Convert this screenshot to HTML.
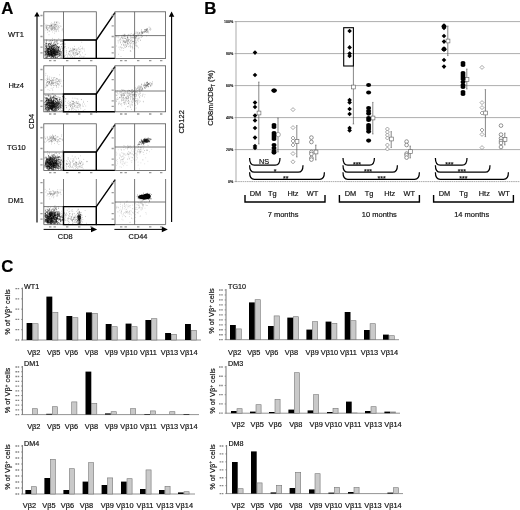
<!DOCTYPE html>
<html><head><meta charset="utf-8"><title>Figure</title>
<style>
html,body{margin:0;padding:0;background:#fff;}
body{width:520px;height:510px;overflow:hidden;font-family:"Liberation Sans",sans-serif;}
svg{display:block;will-change:transform;}
svg text{font-family:"Liberation Sans",sans-serif;stroke:#111;stroke-width:0.18px;}
</style></head><body>
<svg width="520" height="510" viewBox="0 0 520 510">
<rect width="520" height="510" fill="#fff"/>
<text x="1.2" y="13.8" font-size="16.8" text-anchor="start" font-weight="bold" fill="#000" >A</text>
<line x1="37" y1="14" x2="37" y2="222.4" stroke="#000" stroke-width="1.15" />
<path d="M37 11.8 L34.3 16.6 L39.7 16.6 Z" fill="#000"/>
<line x1="171.6" y1="14" x2="171.6" y2="222" stroke="#000" stroke-width="1.15" />
<path d="M171.6 11.6 L168.9 16.8 L174.3 16.8 Z" fill="#000"/>
<line x1="43.6" y1="229.4" x2="92" y2="229.4" stroke="#000" stroke-width="1.0" />
<path d="M97.2 229.4 L91 226.6 L91 232.2 Z" fill="#000"/>
<line x1="114.4" y1="229.4" x2="163" y2="229.4" stroke="#000" stroke-width="1.0" />
<path d="M167.8 229.4 L161.8 226.6 L161.8 232.2 Z" fill="#000"/>
<text x="65.2" y="239.2" font-size="7.4" text-anchor="middle" font-weight="normal" fill="#111" >CD8</text>
<text x="138" y="238.8" font-size="7.4" text-anchor="middle" font-weight="normal" fill="#111" >CD44</text>
<text transform="translate(33.8,121.3) rotate(-90)" font-size="7.6" text-anchor="middle" fill="#111">CD4</text>
<text transform="translate(184.2,121.8) rotate(-90)" font-size="7.6" text-anchor="middle" fill="#111">CD122</text>
<text x="8" y="37.2" font-size="7.5" text-anchor="start" font-weight="normal" fill="#111" >WT1</text>
<rect x="43.8" y="11.8" width="52.5" height="46.599999999999994" fill="none" stroke="#555" stroke-width="0.8"/>
<line x1="63.5" y1="11.8" x2="63.5" y2="58.4" stroke="#555" stroke-width="0.8" />
<line x1="43.8" y1="40.0" x2="96.3" y2="40.0" stroke="#555" stroke-width="0.8" />
<path d="M63.5 40.0 H96.3 V58.4 H63.5 Z" fill="none" stroke="#000" stroke-width="1.4"/>
<path d="M96.3 40.0 L115 12.600000000000001 M96.3 58.4 H115" fill="none" stroke="#000" stroke-width="1.4"/>
<rect x="115" y="11.8" width="50.599999999999994" height="46.599999999999994" fill="none" stroke="#555" stroke-width="0.8"/>
<line x1="134.6" y1="11.8" x2="134.6" y2="58.4" stroke="#555" stroke-width="0.8" />
<line x1="115" y1="35.6" x2="165.6" y2="35.6" stroke="#555" stroke-width="0.8" />
<path d="M40.4 15.5h2.2M111.6 15.5h2.2M40.4 25.8h2.2M111.6 25.8h2.2M40.4 36.5h2.2M111.6 36.5h2.2M40.4 47.2h2.2M111.6 47.2h2.2M40.4 52.8h2.2M111.6 52.8h2.2M49 60.6h2.4M53.5 60.6h2.4M66 60.6h2.4M78 60.6h2.4M90 60.6h2.4M120 60.6h2.4M124.5 60.6h2.4M137 60.6h2.4M149 60.6h2.4M160 60.6h2.4" stroke="#999" stroke-width="1.3" fill="none"/>
<path d="M50.0 53.6h0.75M50.1 50.3h0.75M46.7 50.7h0.75M56.5 53.3h0.75M56.2 52.6h0.75M53.1 52.3h0.75M53.6 53.6h0.75M46.9 49.7h0.75M52.7 51.4h0.75M53.7 49.0h0.75M52.7 53.2h0.75M53.9 56.4h0.75M48.2 48.6h0.75M49.5 51.2h0.75M54.2 52.6h0.75M49.1 47.8h0.75M48.7 56.5h0.75M47.3 52.6h0.75M53.2 45.6h0.75M51.4 56.8h0.75M50.7 48.3h0.75M53.6 51.4h0.75M54.4 55.4h0.75M58.1 53.0h0.75M51.8 46.4h0.75M54.2 49.2h0.75M49.0 46.5h0.75M46.6 49.5h0.75M57.4 43.5h0.75M58.1 53.9h0.75M52.9 48.7h0.75M45.8 55.5h0.75M56.5 52.2h0.75M52.4 53.3h0.75M58.9 54.1h0.75M53.7 53.8h0.75M55.8 53.7h0.75M55.2 44.4h0.75M50.3 55.7h0.75M53.8 51.0h0.75M52.8 54.2h0.75M51.8 56.2h0.75M48.0 49.9h0.75M56.2 51.7h0.75M47.0 55.4h0.75M58.2 49.8h0.75M44.6 51.1h0.75M50.5 50.4h0.75M57.9 47.5h0.75M57.3 46.5h0.75M47.4 54.1h0.75M56.6 55.0h0.75M52.9 52.2h0.75M51.9 53.9h0.75M50.4 52.7h0.75M53.9 51.6h0.75M54.9 53.9h0.75M60.9 52.9h0.75M49.1 50.1h0.75M51.1 55.3h0.75M49.6 53.1h0.75M60.0 41.3h0.75M45.8 52.6h0.75M53.1 52.6h0.75M49.1 54.2h0.75M52.6 49.5h0.75M62.9 53.0h0.75M48.5 51.2h0.75M50.1 51.3h0.75M56.0 46.9h0.75M50.9 55.4h0.75M55.3 57.6h0.75M49.6 54.1h0.75M56.4 40.9h0.75M56.4 45.8h0.75M54.5 45.6h0.75M52.0 56.4h0.75M50.5 52.4h0.75M55.0 52.2h0.75M50.8 57.7h0.75M56.2 50.4h0.75M64.4 47.0h0.75M55.6 50.5h0.75M51.8 54.4h0.75M52.3 54.2h0.75M54.2 47.7h0.75M46.3 45.7h0.75M57.3 54.6h0.75M58.3 47.8h0.75M51.2 47.0h0.75M55.9 50.9h0.75M50.7 49.2h0.75M53.1 53.2h0.75M58.4 47.5h0.75M56.7 57.5h0.75M58.2 50.9h0.75M47.6 55.7h0.75M51.8 52.1h0.75M58.0 50.5h0.75M52.7 49.2h0.75M51.2 54.9h0.75M51.6 56.9h0.75M50.9 55.8h0.75M48.0 55.1h0.75M45.3 51.5h0.75M50.3 51.5h0.75M48.4 52.5h0.75M59.8 51.8h0.75M53.7 55.6h0.75M50.2 46.6h0.75M48.5 55.9h0.75M56.0 54.8h0.75M51.2 54.8h0.75M52.0 46.9h0.75M55.6 49.3h0.75M46.9 48.5h0.75M45.5 53.1h0.75M48.1 43.8h0.75M54.7 50.5h0.75M52.6 49.8h0.75M54.9 54.6h0.75M54.4 52.9h0.75M57.6 54.2h0.75M53.4 43.3h0.75M55.5 56.8h0.75M49.8 49.7h0.75M60.5 44.6h0.75M46.7 54.4h0.75M60.3 51.1h0.75M53.9 55.2h0.75M46.9 51.2h0.75M52.6 54.9h0.75M51.0 50.8h0.75M46.3 50.2h0.75M55.5 52.0h0.75M47.1 48.2h0.75M64.0 56.2h0.75M54.3 41.2h0.75M54.2 53.5h0.75M59.3 53.3h0.75M50.9 53.7h0.75M52.8 48.8h0.75M44.5 48.9h0.75M52.6 52.3h0.75M49.3 47.7h0.75M61.4 55.7h0.75M45.5 46.2h0.75M59.4 55.6h0.75M59.9 54.8h0.75M47.0 52.6h0.75M50.9 53.7h0.75M47.7 51.1h0.75M53.4 53.1h0.75M54.3 52.4h0.75M49.6 54.8h0.75M51.4 48.3h0.75M48.2 51.6h0.75M50.7 52.2h0.75M51.2 52.3h0.75M50.6 46.6h0.75M53.2 55.8h0.75M53.3 50.8h0.75M53.3 47.7h0.75M46.7 54.6h0.75M46.0 41.1h0.75M49.4 46.1h0.75M47.5 53.7h0.75M53.6 52.3h0.75M58.3 54.4h0.75M51.1 54.0h0.75M59.1 55.5h0.75M56.1 47.3h0.75M50.5 54.5h0.75M49.8 55.9h0.75M54.1 55.2h0.75M57.2 50.7h0.75M49.6 55.1h0.75M55.9 51.6h0.75M45.6 52.4h0.75M52.9 56.1h0.75M55.0 51.7h0.75M55.3 53.8h0.75M52.2 51.8h0.75M50.0 54.3h0.75M46.1 49.1h0.75M51.2 45.7h0.75M49.1 43.6h0.75M47.9 53.9h0.75M53.9 51.4h0.75M50.1 45.9h0.75M60.0 53.7h0.75M56.4 48.1h0.75M50.3 44.3h0.75M54.9 55.3h0.75M54.2 44.6h0.75M48.2 46.0h0.75M51.4 52.6h0.75M54.2 54.4h0.75M58.4 56.3h0.75M44.9 49.6h0.75M46.1 47.3h0.75M50.8 51.6h0.75M53.6 45.3h0.75M45.3 51.5h0.75M50.2 50.4h0.75M50.9 48.6h0.75M54.6 53.0h0.75M50.8 48.9h0.75M50.4 40.7h0.75M46.5 51.7h0.75M51.9 46.1h0.75M50.0 50.3h0.75M53.4 54.0h0.75M51.0 48.2h0.75M50.5 51.3h0.75M54.7 52.8h0.75M47.7 46.2h0.75M49.4 48.6h0.75M45.9 51.1h0.75M48.8 52.0h0.75M53.7 49.9h0.75M62.4 50.3h0.75M56.5 52.1h0.75M56.6 42.1h0.75M47.6 52.6h0.75M52.7 56.7h0.75M54.9 55.4h0.75M53.6 51.0h0.75M53.6 47.3h0.75M56.9 47.5h0.75M50.1 51.7h0.75M56.8 51.7h0.75M47.3 52.6h0.75M54.0 54.4h0.75M59.2 51.7h0.75M52.5 49.9h0.75M58.0 48.8h0.75M54.4 49.7h0.75M47.9 54.5h0.75M57.6 51.6h0.75M47.9 54.8h0.75M51.0 52.8h0.75M58.5 56.1h0.75M51.2 54.7h0.75M48.1 51.4h0.75M57.8 46.7h0.75M56.8 49.8h0.75M50.9 50.3h0.75M50.6 47.2h0.75M51.3 45.8h0.75M50.9 52.8h0.75M53.4 50.7h0.75M46.9 52.2h0.75M54.9 51.1h0.75M48.9 48.8h0.75M46.7 50.2h0.75M52.6 53.7h0.75M47.8 51.7h0.75M64.6 44.1h0.75M48.7 52.3h0.75M51.9 53.2h0.75M50.1 53.1h0.75M51.5 54.7h0.75M51.2 47.5h0.75M46.2 54.1h0.75M48.1 54.1h0.75M54.8 52.8h0.75M53.6 51.2h0.75M44.4 51.5h0.75M53.4 49.5h0.75M50.7 54.6h0.75M47.0 54.2h0.75M60.1 49.4h0.75M51.9 51.0h0.75M58.6 52.9h0.75M55.5 48.8h0.75M51.1 51.6h0.75M55.5 44.6h0.75M54.8 51.1h0.75M53.4 53.1h0.75M58.4 49.3h0.75M46.3 46.2h0.75M45.3 52.9h0.75M59.3 53.3h0.75M48.7 48.9h0.75M53.7 53.8h0.75M46.3 46.9h0.75M52.6 52.6h0.75M44.9 50.8h0.75M48.6 53.4h0.75M50.6 51.3h0.75M49.5 55.8h0.75M57.9 50.1h0.75M55.3 48.6h0.75M51.5 54.6h0.75M58.5 50.1h0.75M50.8 52.4h0.75M48.0 53.1h0.75M45.8 43.7h0.75M51.4 52.6h0.75M48.6 55.2h0.75M49.9 49.2h0.75M53.5 45.3h0.75M47.9 51.5h0.75M55.3 50.9h0.75M52.7 49.0h0.75M48.1 51.7h0.75M52.0 55.7h0.75M45.3 43.2h0.75M54.1 54.8h0.75M52.2 52.6h0.75M55.7 53.1h0.75M59.2 46.6h0.75M55.1 50.1h0.75M51.2 50.6h0.75M48.8 48.2h0.75M48.2 54.2h0.75M51.4 51.9h0.75M50.4 55.3h0.75M53.6 51.0h0.75M54.4 51.0h0.75M45.7 57.4h0.75M53.4 47.8h0.75M56.4 53.0h0.75M52.8 55.2h0.75M52.1 51.0h0.75M51.3 50.5h0.75M52.9 51.9h0.75M54.4 50.1h0.75M51.0 43.0h0.75M49.2 54.3h0.75M57.6 50.1h0.75M49.6 54.5h0.75M59.3 51.8h0.75M57.1 48.8h0.75M52.2 51.3h0.75M51.8 56.1h0.75M62.7 48.9h0.75M48.4 53.6h0.75M46.1 53.6h0.75M53.9 50.5h0.75M53.7 45.4h0.75M54.8 45.4h0.75M47.9 49.4h0.75M49.3 55.0h0.75M51.6 50.0h0.75M51.2 53.1h0.75M57.2 52.7h0.75M61.8 43.7h0.75M51.0 53.3h0.75M55.8 54.3h0.75M49.9 47.4h0.75M51.7 55.7h0.75M46.0 47.5h0.75M51.1 43.9h0.75M50.0 49.9h0.75M53.4 48.8h0.75M47.0 50.0h0.75M51.0 48.9h0.75M51.3 54.6h0.75M47.4 49.9h0.75M47.7 51.5h0.75M53.7 46.2h0.75M53.4 51.5h0.75M56.9 44.1h0.75M55.1 52.4h0.75M53.5 53.4h0.75M57.5 50.7h0.75M55.4 50.0h0.75M54.7 48.3h0.75M53.3 51.0h0.75M45.7 48.4h0.75M52.1 55.4h0.75M53.2 53.7h0.75M51.0 57.0h0.75M49.3 49.4h0.75M55.5 51.9h0.75M49.9 49.3h0.75M50.0 54.1h0.75M52.9 46.8h0.75M53.2 52.3h0.75M46.4 54.7h0.75M49.9 50.3h0.75M55.0 56.9h0.75M47.9 53.4h0.75M48.8 56.4h0.75M48.1 54.8h0.75M61.9 41.4h0.75M49.1 53.6h0.75M50.8 48.9h0.75M61.5 51.9h0.75M48.4 52.2h0.75M57.3 52.1h0.75M44.5 44.8h0.75M56.9 54.6h0.75M47.3 55.0h0.75M53.6 54.2h0.75M55.5 54.5h0.75M55.4 41.8h0.75M52.0 53.6h0.75M63.4 47.8h0.75M49.6 51.7h0.75M55.5 49.8h0.75M56.7 48.4h0.75M52.5 49.5h0.75M52.0 48.8h0.75M52.7 49.4h0.75M52.2 55.6h0.75M46.5 51.2h0.75M53.8 53.7h0.75M49.6 43.2h0.75M57.2 52.9h0.75M51.3 50.5h0.75M52.5 49.9h0.75M46.3 48.6h0.75M48.3 49.2h0.75M45.6 54.1h0.75M44.9 54.2h0.75M46.3 53.0h0.75M57.8 52.4h0.75M47.7 51.8h0.75M51.9 44.7h0.75M48.3 52.3h0.75M48.9 51.9h0.75M54.7 54.7h0.75M55.5 54.0h0.75M49.8 51.5h0.75M49.9 50.3h0.75M50.3 44.7h0.75M49.6 51.5h0.75M46.5 51.5h0.75M53.7 50.9h0.75M61.2 41.2h0.75M50.2 44.3h0.75M53.7 50.4h0.75M53.8 42.6h0.75M55.3 53.1h0.75M51.3 49.2h0.75M54.3 49.7h0.75M52.3 49.6h0.75M52.2 54.6h0.75M47.0 51.5h0.75M54.2 52.2h0.75M46.8 43.9h0.75M55.3 57.7h0.75M55.6 54.9h0.75M48.2 48.7h0.75M55.5 48.0h0.75M47.9 48.7h0.75M52.3 48.6h0.75M57.5 51.3h0.75M46.0 56.8h0.75M48.4 52.5h0.75M51.1 50.3h0.75M52.8 48.8h0.75M45.1 48.6h0.75M51.1 51.8h0.75M53.9 52.1h0.75M47.4 48.8h0.75M53.5 53.7h0.75M50.6 50.9h0.75M55.7 51.7h0.75M54.7 53.9h0.75M52.2 56.8h0.75M48.5 50.2h0.75M47.3 48.4h0.75M51.3 53.9h0.75M56.8 54.8h0.75M57.0 46.5h0.75M48.1 53.4h0.75M58.1 52.0h0.75M47.1 50.2h0.75M48.0 48.2h0.75M58.4 49.1h0.75M56.9 52.9h0.75M48.3 53.2h0.75M59.0 54.1h0.75M57.3 52.0h0.75M53.7 50.8h0.75M53.2 56.8h0.75M52.4 49.3h0.75M49.7 54.7h0.75M60.8 54.1h0.75M52.8 45.4h0.75M60.5 51.9h0.75M51.0 47.1h0.75M50.9 47.2h0.75M51.5 53.5h0.75M51.3 52.7h0.75M47.1 57.3h0.75M48.1 44.3h0.75M50.3 48.5h0.75M46.4 50.2h0.75M52.6 46.9h0.75M50.5 57.3h0.75M54.5 51.0h0.75M51.8 51.1h0.75M51.0 54.5h0.75M50.8 42.0h0.75M51.1 48.0h0.75M54.3 49.2h0.75M46.2 47.1h0.75M44.4 42.0h0.75M48.1 44.1h0.75M47.5 50.1h0.75M52.8 57.0h0.75M60.5 55.7h0.75M51.9 52.3h0.75M59.9 57.3h0.75M49.7 53.4h0.75M52.6 51.8h0.75M48.8 46.3h0.75M48.6 45.4h0.75M57.1 53.7h0.75M45.4 57.2h0.75M55.5 44.0h0.75M60.0 54.8h0.75M61.1 46.7h0.75M53.7 53.3h0.75M52.2 52.3h0.75M56.3 45.6h0.75M45.2 46.0h0.75M48.5 49.2h0.75M53.0 52.7h0.75M51.4 48.9h0.75M49.1 55.4h0.75M54.9 52.0h0.75M48.3 54.2h0.75M56.7 50.5h0.75M55.2 47.1h0.75M56.1 52.4h0.75M46.9 56.7h0.75M47.9 50.9h0.75M52.6 50.3h0.75M52.4 49.4h0.75M54.4 51.6h0.75M52.2 40.6h0.75M56.8 51.7h0.75M53.4 55.9h0.75M46.0 57.8h0.75M50.5 54.3h0.75M49.4 47.1h0.75M56.5 55.2h0.75M58.6 55.0h0.75M48.4 45.0h0.75M48.1 48.9h0.75M47.3 53.9h0.75M52.8 50.5h0.75M52.0 51.0h0.75M52.2 54.6h0.75M55.8 48.9h0.75M51.7 56.0h0.75M51.3 45.8h0.75M48.7 54.5h0.75M47.1 46.0h0.75M53.7 55.4h0.75M52.1 46.4h0.75M55.0 54.8h0.75M53.9 49.7h0.75M52.7 54.8h0.75M48.5 44.2h0.75M52.8 53.5h0.75M51.3 55.2h0.75M48.4 51.3h0.75M49.7 53.9h0.75M58.9 50.6h0.75M61.1 57.7h0.75M55.0 53.9h0.75M59.7 50.9h0.75M50.7 47.3h0.75M53.5 57.0h0.75M53.8 53.3h0.75M50.2 52.3h0.75M49.2 47.2h0.75M47.6 48.3h0.75M55.3 55.8h0.75M44.7 55.3h0.75M55.5 49.3h0.75M48.2 53.0h0.75M49.5 43.5h0.75M52.3 45.5h0.75M55.5 46.8h0.75M47.9 48.2h0.75M48.6 56.8h0.75M55.3 54.0h0.75M52.7 45.4h0.75M48.7 49.4h0.75M46.5 53.6h0.75M47.6 48.8h0.75M46.2 43.4h0.75M54.1 56.9h0.75M52.0 47.7h0.75M57.0 52.8h0.75M55.7 57.5h0.75M56.6 49.8h0.75M56.3 54.7h0.75M54.0 47.3h0.75M53.0 57.5h0.75M44.8 55.8h0.75M50.2 52.7h0.75M50.5 55.6h0.75M56.2 51.9h0.75M44.7 54.6h0.75M48.9 54.1h0.75M56.7 49.8h0.75M48.6 53.3h0.75M56.9 56.6h0.75M53.7 46.3h0.75M45.1 52.6h0.75M47.1 56.2h0.75M54.9 44.9h0.75M47.3 52.3h0.75M48.8 51.0h0.75M53.5 48.4h0.75M53.4 49.1h0.75M48.6 53.7h0.75M48.4 52.7h0.75M58.9 51.7h0.75M50.5 54.5h0.75M49.4 55.9h0.75M45.0 54.1h0.75M48.7 48.4h0.75M59.7 48.2h0.75M59.6 54.2h0.75M58.2 47.7h0.75M57.0 57.4h0.75M50.6 51.1h0.75M63.0 52.3h0.75M49.2 49.1h0.75M53.3 52.9h0.75M49.6 53.5h0.75M58.2 47.6h0.75M44.7 47.2h0.75M46.2 44.2h0.75M53.4 44.2h0.75M53.6 57.4h0.75M47.7 50.5h0.75M51.5 53.8h0.75M49.5 51.7h0.75M48.6 52.1h0.75" stroke="#000" stroke-width="0.75" fill="none" opacity="0.68"/>
<path d="M45.0 51.7h0.6M63.5 51.8h0.6M44.4 52.8h0.6M46.2 42.3h0.6M47.6 55.5h0.6M54.3 50.9h0.6M46.4 45.5h0.6M60.1 52.7h0.6M46.3 39.8h0.6M45.1 51.0h0.6M53.3 50.5h0.6M50.3 43.8h0.6M47.5 56.1h0.6M53.6 57.1h0.6M45.3 54.7h0.6M54.3 47.3h0.6M54.9 46.5h0.6M47.2 51.3h0.6M46.0 43.4h0.6M49.4 55.6h0.6M45.0 44.2h0.6M61.3 53.6h0.6M57.7 46.9h0.6M56.8 52.8h0.6M55.9 51.5h0.6M59.2 47.8h0.6M46.2 43.3h0.6M59.0 47.3h0.6M45.7 46.2h0.6M49.3 44.4h0.6M50.3 48.0h0.6M48.7 46.1h0.6M52.2 48.9h0.6M52.7 52.8h0.6M54.0 39.4h0.6M48.8 47.0h0.6M56.6 42.7h0.6M47.7 49.8h0.6M50.0 56.9h0.6M49.3 56.7h0.6M59.3 53.8h0.6M54.9 52.1h0.6M54.9 44.7h0.6M57.7 48.5h0.6M57.9 51.9h0.6M58.8 50.6h0.6M49.6 52.7h0.6M49.4 48.4h0.6M52.6 52.2h0.6M61.1 51.7h0.6M62.3 57.2h0.6M52.8 52.2h0.6M51.1 47.4h0.6M51.6 47.9h0.6M61.8 54.3h0.6M49.3 40.9h0.6M51.7 49.1h0.6M45.5 45.1h0.6M51.8 50.6h0.6M60.7 52.1h0.6M53.0 49.4h0.6M49.9 51.6h0.6M46.7 56.7h0.6M46.4 57.4h0.6M47.7 47.2h0.6M61.9 48.1h0.6M47.4 49.5h0.6M67.0 56.9h0.6M48.7 41.5h0.6M63.2 49.9h0.6M47.9 48.6h0.6M45.5 57.2h0.6M53.7 47.2h0.6M56.7 51.4h0.6M45.0 54.8h0.6M57.1 40.9h0.6M63.0 54.1h0.6M56.6 41.2h0.6M47.7 49.5h0.6M58.5 43.4h0.6M46.7 40.2h0.6M50.6 53.3h0.6M56.0 49.7h0.6M44.9 46.2h0.6M48.0 52.2h0.6M53.7 45.5h0.6M61.3 56.6h0.6M52.6 47.4h0.6M57.5 47.0h0.6M53.5 54.7h0.6M47.0 56.8h0.6M46.1 55.2h0.6M53.1 52.7h0.6M57.8 51.3h0.6M58.7 56.2h0.6M52.8 48.3h0.6M47.5 48.5h0.6M50.8 51.3h0.6M56.6 46.7h0.6M47.7 49.6h0.6M53.2 45.7h0.6M61.7 48.3h0.6M58.5 38.6h0.6M52.0 52.9h0.6M53.1 54.7h0.6M53.7 52.3h0.6M53.8 50.3h0.6M47.1 48.2h0.6M49.1 46.6h0.6M48.6 52.4h0.6M52.3 52.9h0.6M51.8 56.5h0.6M62.7 44.6h0.6M53.0 49.9h0.6M54.1 43.0h0.6M55.2 52.5h0.6M52.4 38.4h0.6M49.8 47.2h0.6M56.2 54.4h0.6M51.9 54.2h0.6" stroke="#333" stroke-width="0.6" fill="none" opacity="0.6"/>
<path d="M48.9 27.4h0.6M52.2 28.6h0.6M51.6 26.8h0.6M51.3 25.5h0.6M54.2 33.2h0.6M59.3 23.2h0.6M55.6 29.4h0.6M61.8 30.6h0.6M56.0 24.1h0.6M47.5 27.9h0.6M54.6 24.5h0.6M50.0 26.2h0.6M52.3 28.1h0.6M50.5 24.0h0.6M58.5 31.3h0.6M51.4 29.9h0.6M54.3 28.9h0.6M54.5 25.2h0.6M55.0 29.8h0.6M47.3 32.3h0.6M62.9 31.9h0.6M62.3 29.1h0.6M50.2 25.6h0.6M47.8 27.5h0.6M51.8 28.9h0.6M55.5 28.4h0.6M53.4 26.7h0.6M51.4 25.1h0.6M52.9 27.1h0.6M53.7 25.0h0.6M52.2 27.3h0.6M55.1 24.4h0.6M54.2 29.8h0.6M55.1 26.2h0.6M49.4 26.6h0.6M55.8 31.2h0.6M51.2 25.5h0.6M54.0 27.7h0.6M47.3 25.3h0.6M51.5 28.9h0.6M45.8 24.6h0.6M54.6 24.0h0.6M52.6 28.1h0.6M51.4 24.6h0.6M51.7 26.3h0.6M53.7 25.0h0.6M57.7 22.8h0.6M51.1 27.2h0.6M57.0 25.6h0.6M54.8 25.7h0.6M55.8 31.7h0.6M49.9 28.4h0.6M47.2 29.7h0.6M58.3 27.3h0.6M46.1 28.2h0.6M58.0 30.0h0.6M56.2 22.4h0.6M48.5 30.9h0.6M45.6 30.1h0.6M61.8 29.2h0.6M57.8 26.3h0.6M45.6 26.9h0.6M51.0 27.1h0.6M55.6 26.8h0.6M53.0 28.3h0.6M52.0 32.0h0.6M54.3 27.4h0.6M50.9 25.6h0.6M59.0 27.6h0.6M46.4 25.7h0.6M51.3 26.0h0.6M57.6 24.2h0.6M54.6 27.6h0.6M45.9 27.3h0.6M51.5 28.5h0.6M49.7 28.0h0.6M56.1 29.9h0.6M51.9 25.6h0.6M57.6 21.8h0.6M47.8 28.9h0.6M55.4 24.5h0.6M52.8 24.9h0.6M52.3 29.5h0.6M55.8 21.8h0.6M56.0 22.6h0.6M57.9 28.2h0.6M52.0 29.9h0.6M48.7 25.4h0.6M50.1 27.0h0.6M46.4 28.5h0.6M54.8 27.4h0.6M60.8 26.3h0.6M58.8 25.8h0.6M55.9 22.2h0.6M53.0 26.7h0.6M49.4 25.6h0.6M50.2 25.3h0.6M49.1 25.8h0.6M46.5 26.8h0.6M56.1 26.5h0.6M49.4 30.7h0.6M57.1 29.6h0.6M58.0 26.3h0.6M51.3 30.1h0.6M49.1 26.9h0.6M54.0 28.2h0.6M50.6 29.8h0.6M51.1 29.1h0.6M57.6 28.9h0.6M55.8 24.2h0.6M45.2 25.6h0.6M54.5 31.1h0.6M45.6 28.0h0.6M47.6 25.3h0.6M50.6 29.0h0.6M53.1 30.3h0.6M46.9 29.5h0.6M56.8 27.4h0.6M54.5 25.7h0.6M46.3 26.1h0.6M48.7 34.7h0.6M49.5 31.5h0.6M53.1 28.0h0.6M55.9 25.2h0.6M56.8 28.2h0.6M54.9 28.4h0.6M60.2 26.1h0.6M54.7 29.1h0.6M47.3 30.3h0.6M44.5 23.8h0.6M54.7 24.4h0.6M51.4 22.9h0.6M52.4 24.3h0.6M53.8 23.2h0.6M54.3 26.5h0.6M52.3 27.0h0.6M52.7 23.8h0.6M47.1 26.0h0.6M54.2 22.0h0.6M48.0 25.6h0.6M46.5 28.0h0.6M51.3 25.1h0.6M46.9 29.3h0.6M48.6 28.7h0.6M54.3 22.3h0.6M46.4 27.2h0.6M53.8 29.2h0.6M56.2 29.9h0.6M50.1 26.7h0.6M56.0 26.1h0.6" stroke="#333" stroke-width="0.6" fill="none" opacity="0.55"/>
<path d="M80.3 46.3h0.6M78.3 51.3h0.6M65.2 55.3h0.6M76.6 52.0h0.6M69.6 50.3h0.6M82.6 49.0h0.6M69.0 51.4h0.6M73.0 48.7h0.6M70.8 55.6h0.6M72.3 48.1h0.6M78.9 53.9h0.6M69.8 54.5h0.6M65.8 48.7h0.6M80.6 51.0h0.6M68.5 53.7h0.6M79.6 51.8h0.6M66.0 50.7h0.6M77.1 54.6h0.6M84.3 51.0h0.6M72.6 51.8h0.6M81.0 48.6h0.6M81.5 42.3h0.6M79.0 49.5h0.6M77.3 54.3h0.6M69.1 51.6h0.6M76.2 54.0h0.6M70.3 48.4h0.6M74.0 51.1h0.6M67.5 55.2h0.6M72.3 56.9h0.6M79.3 52.0h0.6M78.6 48.0h0.6M73.4 49.9h0.6M68.7 52.0h0.6M74.3 56.9h0.6M70.4 50.3h0.6M77.1 53.3h0.6M75.1 50.2h0.6M77.5 53.2h0.6M65.8 51.0h0.6M68.1 47.8h0.6M75.7 52.1h0.6M75.6 48.8h0.6M74.0 48.7h0.6M76.9 54.3h0.6M83.8 56.3h0.6M71.0 50.3h0.6M70.3 53.0h0.6M84.9 54.4h0.6M68.5 53.7h0.6M75.0 52.9h0.6M83.9 49.0h0.6M76.7 49.2h0.6M64.9 46.6h0.6M75.2 55.4h0.6M74.3 49.5h0.6M66.2 52.5h0.6M75.1 54.1h0.6M73.0 53.6h0.6M79.1 51.4h0.6M72.7 51.2h0.6M70.2 51.2h0.6M73.5 52.6h0.6M81.7 56.5h0.6M72.8 54.0h0.6M76.5 54.6h0.6M75.1 52.8h0.6M72.7 49.2h0.6M79.4 56.4h0.6M78.3 53.4h0.6M76.3 50.3h0.6M66.1 54.2h0.6M76.0 50.0h0.6M70.2 56.4h0.6M71.4 51.8h0.6M72.5 52.4h0.6M74.0 49.3h0.6M80.4 49.2h0.6M72.5 53.8h0.6M72.3 50.4h0.6M76.8 50.6h0.6M68.8 51.5h0.6M69.5 55.3h0.6M71.1 50.7h0.6M73.4 52.8h0.6M71.8 56.6h0.6M80.0 54.7h0.6M71.2 55.1h0.6M74.5 53.1h0.6M73.7 54.2h0.6M80.6 55.9h0.6M74.0 55.4h0.6M82.3 48.6h0.6M82.4 47.2h0.6M77.7 54.0h0.6M82.4 52.9h0.6M72.6 49.1h0.6M68.7 54.6h0.6M73.8 49.4h0.6M77.7 49.2h0.6M72.8 50.3h0.6M83.3 57.0h0.6M74.2 46.4h0.6M76.4 52.2h0.6M76.7 53.9h0.6M73.4 55.1h0.6M79.2 52.6h0.6M73.0 50.2h0.6M78.5 48.1h0.6M74.2 49.3h0.6" stroke="#333" stroke-width="0.6" fill="none" opacity="0.55"/>
<path d="M117.9 42.9h0.6M126.8 39.8h0.6M126.6 41.2h0.6M131.7 40.8h0.6M135.8 45.9h0.6M130.6 51.4h0.6M127.0 37.3h0.6M124.8 34.4h0.6M126.5 41.9h0.6M133.4 37.7h0.6M136.0 36.0h0.6M122.1 35.2h0.6M136.5 42.4h0.6M120.0 42.5h0.6M130.1 38.3h0.6M127.1 38.0h0.6M126.4 46.5h0.6M136.1 38.1h0.6M122.3 38.5h0.6M132.7 41.5h0.6M123.3 41.5h0.6M125.7 42.4h0.6M127.4 43.7h0.6M120.0 39.0h0.6M132.6 37.6h0.6M122.9 50.5h0.6M132.3 45.1h0.6M121.0 48.3h0.6M116.5 36.8h0.6M131.7 46.7h0.6M121.1 36.0h0.6M131.0 42.6h0.6M124.2 42.5h0.6M131.9 41.3h0.6M130.3 47.7h0.6M124.0 40.5h0.6M123.7 45.1h0.6M124.4 42.1h0.6M127.9 40.0h0.6M137.8 39.1h0.6M135.9 44.0h0.6M135.3 38.7h0.6M132.8 43.6h0.6M123.1 41.0h0.6M126.2 39.4h0.6M135.2 35.8h0.6M124.2 36.2h0.6M127.1 42.6h0.6M138.0 41.2h0.6M129.9 35.7h0.6M130.6 46.8h0.6M132.6 48.0h0.6M125.1 42.7h0.6M129.6 35.3h0.6M121.4 44.7h0.6M118.6 47.2h0.6M127.1 41.2h0.6M118.7 36.4h0.6M119.4 39.8h0.6M130.0 43.5h0.6M124.7 38.5h0.6M125.5 36.6h0.6M128.6 40.4h0.6M123.1 40.9h0.6M126.9 39.2h0.6M125.0 47.5h0.6M120.2 39.1h0.6M123.3 44.6h0.6M130.2 37.7h0.6M125.0 45.3h0.6M121.5 37.6h0.6M127.9 41.8h0.6M123.8 45.1h0.6M141.0 37.4h0.6M135.8 37.8h0.6M127.9 37.8h0.6M124.5 46.4h0.6M134.1 37.8h0.6M123.7 35.9h0.6M119.5 49.1h0.6M131.1 40.2h0.6M123.9 34.2h0.6M135.2 43.7h0.6M121.1 44.8h0.6M120.1 43.0h0.6M121.0 37.4h0.6M130.1 41.9h0.6M133.3 35.2h0.6M136.9 46.7h0.6M126.9 42.1h0.6M122.1 38.8h0.6M118.8 40.1h0.6M128.2 46.7h0.6M132.9 43.9h0.6M124.7 38.4h0.6M124.9 40.8h0.6M117.2 36.9h0.6M127.1 36.9h0.6M137.4 39.1h0.6M136.8 45.8h0.6M123.9 41.7h0.6M135.1 37.8h0.6M127.6 36.7h0.6M127.4 37.7h0.6M127.5 44.9h0.6M135.7 40.3h0.6M128.3 44.1h0.6M133.9 34.7h0.6M132.8 34.5h0.6M132.3 47.5h0.6M121.0 47.4h0.6M131.5 43.3h0.6M126.7 38.0h0.6M124.6 38.1h0.6M115.8 36.6h0.6M138.2 47.8h0.6M124.7 35.8h0.6M129.5 45.2h0.6M128.0 40.3h0.6M136.0 45.9h0.6M130.3 46.0h0.6M124.5 47.7h0.6M124.3 41.7h0.6M132.7 34.8h0.6M128.0 39.3h0.6M125.0 42.2h0.6M127.5 38.2h0.6M132.0 48.9h0.6M124.2 34.6h0.6M123.2 40.1h0.6M130.7 35.1h0.6M133.2 34.2h0.6M132.2 41.9h0.6M129.9 51.0h0.6M125.4 38.7h0.6M130.0 44.2h0.6M118.6 41.1h0.6M122.4 42.9h0.6M135.5 39.9h0.6M126.3 40.6h0.6M130.5 40.5h0.6M124.5 35.7h0.6M125.9 46.0h0.6M126.4 46.7h0.6M128.7 39.5h0.6M116.6 36.1h0.6M123.6 43.0h0.6M136.1 36.5h0.6M123.3 48.4h0.6M123.0 35.8h0.6M120.7 37.8h0.6M132.5 41.4h0.6M118.4 54.3h0.6M120.8 40.2h0.6M127.2 43.6h0.6M125.0 42.0h0.6M140.1 40.1h0.6M120.2 41.3h0.6M122.0 37.6h0.6M128.2 41.4h0.6M125.2 44.1h0.6M132.5 37.7h0.6M134.6 36.1h0.6M130.6 41.3h0.6M120.0 47.0h0.6M133.8 42.2h0.6M131.2 37.0h0.6M126.9 40.8h0.6M129.6 43.3h0.6M125.7 35.9h0.6M123.5 41.8h0.6M124.4 36.7h0.6M124.9 38.3h0.6M125.1 42.1h0.6M130.1 45.9h0.6M131.0 37.8h0.6M122.0 47.7h0.6M123.1 35.1h0.6M124.5 35.1h0.6M133.3 41.6h0.6M135.8 41.8h0.6M123.2 45.1h0.6M122.9 37.2h0.6M126.0 39.8h0.6M134.5 36.4h0.6M129.2 39.5h0.6M125.6 41.7h0.6M129.0 42.1h0.6M127.3 37.2h0.6M129.7 34.3h0.6M118.6 37.8h0.6M118.0 36.9h0.6M122.3 36.7h0.6M126.7 35.4h0.6M127.9 34.9h0.6M122.0 40.9h0.6M127.6 40.1h0.6M117.6 40.8h0.6M127.9 34.4h0.6M131.7 39.3h0.6M127.1 37.2h0.6M130.4 40.1h0.6M134.1 42.0h0.6M123.1 38.4h0.6M132.8 37.7h0.6M129.4 42.4h0.6M127.8 40.7h0.6M127.9 35.6h0.6M134.6 38.9h0.6M123.1 35.8h0.6M120.7 50.2h0.6M135.2 45.2h0.6M135.6 42.8h0.6M116.4 46.0h0.6M134.8 42.2h0.6M135.6 37.0h0.6M127.8 43.7h0.6M126.5 45.4h0.6M127.5 43.3h0.6M120.7 56.5h0.6M128.8 46.6h0.6M134.2 48.7h0.6M130.5 36.4h0.6M125.8 44.4h0.6M132.2 46.7h0.6M121.2 36.1h0.6M130.4 50.6h0.6M119.8 47.0h0.6M129.7 37.0h0.6M126.6 40.8h0.6" stroke="#333" stroke-width="0.6" fill="none" opacity="0.5"/>
<path d="M146.3 36.0h0.6M146.8 31.6h0.6M141.8 36.6h0.6M140.0 34.8h0.6M137.3 33.8h0.6M133.2 41.3h0.6M139.0 34.1h0.6M138.7 38.9h0.6M137.6 34.1h0.6M135.1 35.6h0.6M136.3 35.8h0.6M134.7 40.7h0.6M141.4 35.4h0.6M140.8 35.6h0.6M140.6 37.2h0.6M141.9 36.5h0.6M136.0 35.3h0.6M135.2 38.1h0.6M141.2 32.2h0.6M140.3 40.4h0.6M137.6 36.3h0.6M137.9 35.6h0.6M142.6 33.7h0.6M133.7 38.0h0.6M137.6 35.0h0.6M135.8 31.9h0.6M133.1 35.5h0.6M135.2 37.0h0.6M135.0 37.4h0.6M136.1 36.1h0.6M138.4 34.4h0.6M130.9 33.5h0.6M137.8 38.2h0.6M135.9 36.7h0.6M138.6 35.6h0.6M139.1 33.7h0.6M136.8 32.9h0.6M134.9 33.1h0.6M144.6 32.1h0.6M140.9 31.0h0.6M138.6 38.0h0.6M137.8 32.1h0.6M137.1 32.4h0.6M132.6 36.1h0.6M136.4 33.1h0.6M134.5 33.5h0.6M138.9 37.8h0.6M137.2 40.6h0.6M131.7 37.7h0.6M133.5 35.9h0.6" stroke="#333" stroke-width="0.6" fill="none" opacity="0.5"/>
<path d="M145.8 31.8h0.65M149.1 29.2h0.65M141.5 31.8h0.65M146.4 29.7h0.65M148.4 32.8h0.65M140.9 32.8h0.65M148.8 27.2h0.65M146.2 30.5h0.65M140.9 34.2h0.65M146.2 30.1h0.65M146.9 31.6h0.65M148.0 31.2h0.65M146.8 28.9h0.65M144.1 31.6h0.65M144.3 29.7h0.65M139.6 33.0h0.65M145.6 30.1h0.65M144.2 30.0h0.65M143.1 31.5h0.65M143.4 32.6h0.65M145.0 31.3h0.65M146.8 32.6h0.65M147.4 30.8h0.65M145.0 29.9h0.65M144.4 32.3h0.65M146.2 30.2h0.65M141.2 29.8h0.65M146.5 32.3h0.65M146.7 28.6h0.65M144.8 31.5h0.65M142.5 32.3h0.65M144.9 29.9h0.65M141.5 33.3h0.65M146.6 29.3h0.65M142.2 33.2h0.65M147.4 30.0h0.65M150.6 29.2h0.65M142.1 33.6h0.65M144.9 31.7h0.65M145.6 29.4h0.65M141.7 31.7h0.65M150.0 28.2h0.65M149.9 30.1h0.65M141.9 32.4h0.65M147.3 29.1h0.65M138.7 33.4h0.65M141.9 32.6h0.65M139.4 32.5h0.65" stroke="#222" stroke-width="0.65" fill="none" opacity="0.6"/>
<text x="8.4" y="88.2" font-size="7.5" text-anchor="start" font-weight="normal" fill="#111" >Htz4</text>
<rect x="43.8" y="65.8" width="52.5" height="46.0" fill="none" stroke="#555" stroke-width="0.8"/>
<line x1="63.5" y1="65.8" x2="63.5" y2="111.8" stroke="#555" stroke-width="0.8" />
<line x1="43.8" y1="94.0" x2="96.3" y2="94.0" stroke="#555" stroke-width="0.8" />
<path d="M63.5 94.0 H96.3 V111.8 H63.5 Z" fill="none" stroke="#000" stroke-width="1.4"/>
<path d="M96.3 94.0 L115 66.6 M96.3 111.8 H115" fill="none" stroke="#000" stroke-width="1.4"/>
<rect x="115" y="65.8" width="50.599999999999994" height="46.0" fill="none" stroke="#555" stroke-width="0.8"/>
<line x1="134.6" y1="65.8" x2="134.6" y2="111.8" stroke="#555" stroke-width="0.8" />
<line x1="115" y1="91.0" x2="165.6" y2="91.0" stroke="#555" stroke-width="0.8" />
<path d="M40.4 69.5h2.2M111.6 69.5h2.2M40.4 79.6h2.2M111.6 79.6h2.2M40.4 90.2h2.2M111.6 90.2h2.2M40.4 100.8h2.2M111.6 100.8h2.2M40.4 106.3h2.2M111.6 106.3h2.2M49 114.0h2.4M53.5 114.0h2.4M66 114.0h2.4M78 114.0h2.4M90 114.0h2.4M120 114.0h2.4M124.5 114.0h2.4M137 114.0h2.4M149 114.0h2.4M160 114.0h2.4" stroke="#999" stroke-width="1.3" fill="none"/>
<path d="M47.4 99.2h0.75M50.1 105.7h0.75M48.6 100.4h0.75M52.2 98.2h0.75M53.7 106.9h0.75M59.0 108.4h0.75M52.9 106.0h0.75M51.3 99.8h0.75M58.0 107.0h0.75M49.9 100.5h0.75M58.1 107.1h0.75M45.7 107.6h0.75M60.0 104.9h0.75M53.1 103.4h0.75M48.3 109.2h0.75M65.6 105.5h0.75M50.6 108.1h0.75M49.8 107.8h0.75M55.1 101.1h0.75M46.2 104.7h0.75M55.1 106.1h0.75M57.0 99.7h0.75M53.5 102.6h0.75M51.7 106.2h0.75M46.7 104.1h0.75M45.8 106.0h0.75M47.2 103.1h0.75M52.2 102.5h0.75M56.5 102.5h0.75M55.2 106.1h0.75M46.4 104.2h0.75M47.3 103.6h0.75M49.2 111.1h0.75M53.3 99.9h0.75M56.0 106.5h0.75M50.2 104.0h0.75M52.4 103.8h0.75M48.7 103.6h0.75M56.6 102.6h0.75M53.0 100.5h0.75M47.9 99.7h0.75M50.3 107.6h0.75M52.6 103.1h0.75M54.0 103.7h0.75M52.9 106.1h0.75M53.7 95.4h0.75M45.1 108.0h0.75M50.1 102.9h0.75M58.1 107.2h0.75M60.0 107.0h0.75M50.3 107.8h0.75M47.5 103.3h0.75M48.6 104.1h0.75M54.8 103.1h0.75M52.7 103.1h0.75M50.2 105.7h0.75M46.2 108.9h0.75M52.2 110.0h0.75M55.7 107.5h0.75M50.5 100.8h0.75M50.2 103.2h0.75M52.4 103.2h0.75M65.4 98.8h0.75M56.6 103.2h0.75M50.1 108.6h0.75M51.2 100.3h0.75M53.1 104.2h0.75M46.3 102.1h0.75M53.4 106.2h0.75M53.1 102.6h0.75M52.3 104.5h0.75M50.3 103.9h0.75M48.6 108.8h0.75M50.7 106.4h0.75M49.2 104.3h0.75M46.8 102.5h0.75M56.8 106.0h0.75M56.9 108.3h0.75M55.5 108.9h0.75M48.4 108.1h0.75M49.7 103.0h0.75M55.0 101.7h0.75M52.5 106.4h0.75M52.9 103.6h0.75M45.3 105.1h0.75M55.2 108.0h0.75M54.3 109.2h0.75M46.6 104.8h0.75M52.8 108.9h0.75M51.9 107.0h0.75M62.6 105.9h0.75M44.6 102.4h0.75M53.3 107.6h0.75M55.9 105.8h0.75M47.2 104.6h0.75M52.8 103.9h0.75M48.1 103.6h0.75M50.8 103.6h0.75M51.4 110.4h0.75M52.6 104.9h0.75M45.8 100.8h0.75M52.9 101.6h0.75M53.2 100.9h0.75M51.8 104.7h0.75M55.8 103.5h0.75M49.5 105.9h0.75M50.0 102.9h0.75M49.7 106.8h0.75M52.3 107.7h0.75M59.7 104.9h0.75M45.6 105.6h0.75M53.1 96.4h0.75M51.3 99.3h0.75M53.3 110.3h0.75M56.0 99.2h0.75M57.6 108.5h0.75M49.5 106.9h0.75M58.2 103.7h0.75M51.1 102.8h0.75M56.5 96.7h0.75M57.8 101.3h0.75M55.5 98.7h0.75M46.9 102.7h0.75M55.0 98.8h0.75M54.0 102.6h0.75M56.9 103.8h0.75M53.4 104.3h0.75M59.5 103.6h0.75M51.6 107.6h0.75M47.8 105.8h0.75M48.2 99.2h0.75M44.7 109.4h0.75M53.2 99.2h0.75M59.6 102.3h0.75M49.5 105.9h0.75M45.9 98.8h0.75M47.8 109.5h0.75M55.6 98.9h0.75M56.8 105.1h0.75M53.5 105.2h0.75M53.1 101.1h0.75M47.0 102.3h0.75M49.5 107.4h0.75M45.6 111.1h0.75M48.3 102.7h0.75M54.4 106.7h0.75M49.6 100.9h0.75M46.6 98.8h0.75M56.5 109.2h0.75M59.8 106.9h0.75M52.7 107.9h0.75M55.6 104.0h0.75M46.8 107.9h0.75M56.7 103.7h0.75M54.3 104.8h0.75M52.6 102.9h0.75M51.1 105.0h0.75M51.2 108.7h0.75M56.1 108.0h0.75M54.9 101.3h0.75M56.8 101.3h0.75M57.2 107.6h0.75M46.6 109.5h0.75M48.1 102.1h0.75M55.9 102.4h0.75M59.7 107.7h0.75M48.7 100.3h0.75M57.2 100.9h0.75M51.2 103.9h0.75M50.0 106.9h0.75M60.9 102.5h0.75M55.1 109.2h0.75M49.9 104.4h0.75M45.0 109.2h0.75M48.7 102.5h0.75M51.5 101.7h0.75M46.4 103.9h0.75M58.1 104.2h0.75M53.6 99.3h0.75M49.4 99.1h0.75M50.7 107.3h0.75M52.4 101.4h0.75M54.9 108.7h0.75M53.2 103.3h0.75M51.0 102.6h0.75M50.6 106.2h0.75M49.8 108.8h0.75M63.2 102.9h0.75M52.8 108.2h0.75M54.2 104.1h0.75M49.0 108.9h0.75M54.1 107.0h0.75M47.5 107.4h0.75M54.9 104.3h0.75M45.8 99.7h0.75M50.1 107.1h0.75M51.4 100.5h0.75M44.5 102.8h0.75M51.3 101.8h0.75M47.3 104.4h0.75M48.7 102.7h0.75M51.4 103.8h0.75M54.1 100.4h0.75M50.9 108.0h0.75M56.7 107.1h0.75M51.4 99.0h0.75M54.3 107.2h0.75M46.3 100.4h0.75M51.9 101.0h0.75M58.6 102.6h0.75M48.6 108.3h0.75M52.7 101.5h0.75M45.5 104.0h0.75M46.2 97.5h0.75M54.1 107.7h0.75M55.7 106.7h0.75M48.1 100.4h0.75M46.0 108.0h0.75M53.4 97.6h0.75M55.4 109.9h0.75M51.3 100.3h0.75M59.4 99.9h0.75M50.8 97.6h0.75M45.3 98.4h0.75M56.3 109.6h0.75M49.3 99.7h0.75M50.9 106.5h0.75M50.7 107.7h0.75M51.5 106.8h0.75M45.4 95.3h0.75M52.7 101.4h0.75M50.6 103.5h0.75M53.4 102.0h0.75M58.0 105.1h0.75M53.7 107.5h0.75M56.1 106.6h0.75M59.9 106.8h0.75M53.8 106.8h0.75M48.2 102.4h0.75M48.2 109.5h0.75M53.3 100.4h0.75M59.4 106.3h0.75M56.8 105.8h0.75M49.7 105.7h0.75M45.9 100.3h0.75M47.0 102.9h0.75M44.8 104.6h0.75M59.9 104.8h0.75M55.4 104.1h0.75M53.0 104.9h0.75M48.7 105.3h0.75M49.8 100.7h0.75M49.5 107.2h0.75M48.0 106.9h0.75M53.9 111.1h0.75M46.1 104.6h0.75M53.6 110.9h0.75M52.4 108.0h0.75M59.1 103.9h0.75M61.4 102.1h0.75M49.9 98.7h0.75M54.2 106.0h0.75M60.7 105.7h0.75M50.0 99.4h0.75M50.8 108.7h0.75M54.7 109.8h0.75M55.3 104.8h0.75M54.1 105.7h0.75M53.0 100.8h0.75M53.0 106.1h0.75M55.9 110.7h0.75M58.5 101.3h0.75M52.8 106.4h0.75M45.9 103.2h0.75M52.1 107.9h0.75M61.6 106.2h0.75M48.3 95.7h0.75M56.3 104.5h0.75M50.7 101.1h0.75M54.7 97.9h0.75M51.7 105.5h0.75M52.6 110.2h0.75M50.7 105.4h0.75M55.3 98.9h0.75M49.8 105.3h0.75M55.7 101.8h0.75M55.0 106.5h0.75M52.2 107.9h0.75M55.1 102.8h0.75M56.3 108.3h0.75M53.4 106.9h0.75M45.1 106.4h0.75M46.3 100.3h0.75M49.5 105.6h0.75M50.9 103.7h0.75M46.4 105.7h0.75M47.7 99.4h0.75M51.6 110.8h0.75M49.3 100.8h0.75M49.8 104.2h0.75M51.8 109.0h0.75M53.3 97.8h0.75M45.9 100.1h0.75M53.3 105.4h0.75M59.8 103.9h0.75M52.7 105.3h0.75M52.6 110.9h0.75M57.4 102.6h0.75M54.5 103.5h0.75M51.7 105.6h0.75M51.3 103.1h0.75M58.6 103.9h0.75M54.2 109.1h0.75M57.8 109.3h0.75M59.4 99.3h0.75M60.6 105.1h0.75M44.5 104.9h0.75M52.6 105.6h0.75M47.4 104.1h0.75M50.7 105.3h0.75M51.2 104.1h0.75M55.4 98.6h0.75M48.8 105.5h0.75M49.3 102.8h0.75M49.1 105.8h0.75M57.2 104.3h0.75M49.9 106.4h0.75M50.0 97.3h0.75M52.5 103.5h0.75M48.5 107.5h0.75M51.4 102.7h0.75M51.3 104.5h0.75M53.3 105.9h0.75M48.9 99.9h0.75M45.9 104.4h0.75M45.7 108.0h0.75M44.8 97.8h0.75M50.3 97.9h0.75M59.0 101.0h0.75M51.0 104.0h0.75M47.3 97.9h0.75M51.1 108.4h0.75M48.7 107.9h0.75M55.5 107.4h0.75M58.1 104.3h0.75M58.6 102.2h0.75M51.3 101.8h0.75M51.2 109.1h0.75M54.6 105.4h0.75M59.4 99.1h0.75M47.3 111.0h0.75M52.8 96.7h0.75M52.8 100.3h0.75M58.3 109.6h0.75M48.6 110.2h0.75M47.2 108.7h0.75M54.0 104.5h0.75M46.6 95.3h0.75M54.0 106.5h0.75M54.9 105.3h0.75M53.5 108.8h0.75M48.4 99.3h0.75M51.0 98.3h0.75M51.2 108.1h0.75M58.4 106.1h0.75M52.1 108.0h0.75M57.9 103.7h0.75M45.3 101.8h0.75M45.2 101.4h0.75M50.6 106.4h0.75M51.9 105.3h0.75M49.5 106.7h0.75M55.5 108.0h0.75M58.4 103.8h0.75M52.2 106.7h0.75M49.6 108.9h0.75M49.3 101.0h0.75M50.9 103.2h0.75M55.2 103.5h0.75M51.8 104.1h0.75M52.8 102.5h0.75M56.5 99.3h0.75M49.4 102.2h0.75M54.3 105.2h0.75M53.5 103.7h0.75M47.8 100.5h0.75M49.6 102.9h0.75M52.5 106.4h0.75M55.9 104.6h0.75M47.6 100.8h0.75M51.5 106.4h0.75M60.6 105.7h0.75M46.2 109.8h0.75M56.7 110.4h0.75M51.2 108.8h0.75M48.9 104.7h0.75M50.2 108.8h0.75M51.5 102.2h0.75M52.4 107.6h0.75M47.8 107.5h0.75M47.8 101.5h0.75M52.3 104.1h0.75M46.5 98.5h0.75M51.3 106.0h0.75M49.0 105.7h0.75M53.2 106.1h0.75M48.3 105.3h0.75M51.8 109.3h0.75M52.5 106.0h0.75M47.7 108.4h0.75M56.8 103.0h0.75M54.3 106.2h0.75M51.0 99.9h0.75M59.6 97.5h0.75M52.7 103.5h0.75M56.7 103.3h0.75M51.4 107.4h0.75M53.4 102.9h0.75M54.5 106.6h0.75M55.9 103.0h0.75M51.0 103.4h0.75M47.2 106.0h0.75M53.2 110.7h0.75M49.6 106.5h0.75M56.7 104.5h0.75M51.5 105.5h0.75M47.9 101.1h0.75M56.5 105.7h0.75M50.8 100.0h0.75M51.8 109.7h0.75M45.7 101.4h0.75M56.5 110.7h0.75M58.6 102.8h0.75M54.1 102.0h0.75M53.7 103.5h0.75M52.1 110.3h0.75M52.8 104.0h0.75M51.5 106.1h0.75M48.8 105.8h0.75M45.3 108.5h0.75M62.9 105.8h0.75M51.8 109.5h0.75M48.8 103.1h0.75M52.8 102.7h0.75M56.5 105.0h0.75M49.1 108.7h0.75M47.3 110.0h0.75M55.8 105.6h0.75M57.8 105.0h0.75M50.9 109.4h0.75M53.5 107.3h0.75M52.7 106.8h0.75M44.9 104.3h0.75M52.4 104.1h0.75M51.5 107.4h0.75M46.7 102.8h0.75M46.2 98.3h0.75M54.9 104.2h0.75M55.8 103.5h0.75M61.3 107.8h0.75M51.9 105.5h0.75M50.2 108.2h0.75M60.7 103.3h0.75M46.0 107.4h0.75M56.3 99.1h0.75M47.9 101.1h0.75M53.9 107.0h0.75M47.7 100.5h0.75M54.4 96.9h0.75M54.3 104.4h0.75M60.3 108.9h0.75M48.5 103.9h0.75M49.9 102.1h0.75M51.6 108.8h0.75M58.3 107.9h0.75M47.3 101.8h0.75M47.2 98.7h0.75M56.6 105.3h0.75M47.9 99.3h0.75M49.4 103.0h0.75M59.3 103.2h0.75M51.7 109.2h0.75M54.4 104.3h0.75M54.0 103.3h0.75M50.8 101.2h0.75M47.0 99.2h0.75M53.6 107.0h0.75M52.0 108.1h0.75M53.7 105.5h0.75M47.0 107.3h0.75M56.8 107.5h0.75M57.1 103.1h0.75M46.6 109.9h0.75M48.4 106.0h0.75M50.3 105.1h0.75M49.9 102.9h0.75M52.2 97.4h0.75M46.9 100.6h0.75M47.7 95.0h0.75M50.0 107.9h0.75M54.0 100.1h0.75M56.9 98.4h0.75M48.5 103.6h0.75M57.1 105.5h0.75M50.6 101.8h0.75M51.6 105.2h0.75M54.6 110.5h0.75M54.7 105.1h0.75M52.1 104.9h0.75M59.6 111.1h0.75M53.9 104.6h0.75M48.2 109.2h0.75M49.1 108.8h0.75M47.5 105.4h0.75M53.1 105.6h0.75M52.3 106.5h0.75M45.9 100.7h0.75M50.6 101.4h0.75M48.1 105.1h0.75M56.8 102.8h0.75M53.8 105.7h0.75M49.5 101.3h0.75M50.5 102.2h0.75M53.7 98.1h0.75M56.5 108.0h0.75M53.9 110.9h0.75M54.0 98.3h0.75M51.4 106.8h0.75M48.0 100.6h0.75M53.2 107.0h0.75M49.2 104.1h0.75M48.8 102.8h0.75M50.9 109.2h0.75M58.8 106.2h0.75M51.9 108.3h0.75M46.5 100.3h0.75M52.4 108.3h0.75M49.3 102.3h0.75M53.1 107.4h0.75M52.4 97.6h0.75M48.7 95.1h0.75M52.3 101.7h0.75M48.1 110.9h0.75M57.4 106.9h0.75M52.5 105.7h0.75M48.5 104.8h0.75M60.1 101.6h0.75M48.1 105.6h0.75M55.4 108.2h0.75M46.7 104.5h0.75M50.0 100.2h0.75M51.6 103.1h0.75M55.5 106.7h0.75M47.6 105.3h0.75M49.5 102.5h0.75M48.9 109.1h0.75M49.3 98.3h0.75M47.6 108.1h0.75M61.3 100.9h0.75M49.5 103.7h0.75M44.6 106.6h0.75M51.0 106.1h0.75M61.7 104.0h0.75M54.9 108.2h0.75M48.2 102.7h0.75M58.5 107.8h0.75M51.9 100.7h0.75M55.3 107.1h0.75M61.5 110.7h0.75M55.0 106.0h0.75M51.5 102.9h0.75M52.6 106.0h0.75M54.2 109.2h0.75M52.7 102.9h0.75M55.0 111.0h0.75M47.3 106.6h0.75M53.8 107.1h0.75M53.6 104.6h0.75M59.3 99.6h0.75M48.1 103.0h0.75M50.9 102.9h0.75M58.1 109.6h0.75M49.3 107.6h0.75M51.0 109.5h0.75M53.9 104.9h0.75M53.8 102.2h0.75M54.9 110.8h0.75M49.5 107.2h0.75M55.3 101.0h0.75M59.3 105.4h0.75M55.3 103.9h0.75M56.3 99.0h0.75M50.7 108.8h0.75M48.0 107.6h0.75M49.5 106.3h0.75M45.4 108.0h0.75M57.3 100.6h0.75M50.1 98.4h0.75M52.6 102.2h0.75M48.6 101.7h0.75M52.6 103.2h0.75M47.0 104.1h0.75M53.1 101.7h0.75M56.4 98.5h0.75M53.1 103.5h0.75M58.5 102.5h0.75M48.1 99.8h0.75M60.5 107.4h0.75M46.1 103.7h0.75M46.7 110.9h0.75M53.1 97.1h0.75M52.2 108.6h0.75M51.2 106.8h0.75M50.7 105.8h0.75M52.2 102.3h0.75M52.8 105.6h0.75M51.0 102.3h0.75M46.5 106.0h0.75M55.1 95.6h0.75M48.7 110.3h0.75M55.5 102.2h0.75M57.5 101.2h0.75M49.2 104.2h0.75M45.7 104.5h0.75M49.5 102.6h0.75M48.2 107.9h0.75M58.4 103.4h0.75M57.5 106.2h0.75M49.3 105.8h0.75M52.3 101.4h0.75M52.3 102.3h0.75M62.3 96.6h0.75M46.9 106.6h0.75M48.4 96.1h0.75M52.4 108.2h0.75M47.5 110.7h0.75M53.5 109.6h0.75M57.4 105.0h0.75M52.1 102.6h0.75M56.3 102.3h0.75" stroke="#000" stroke-width="0.75" fill="none" opacity="0.68"/>
<path d="M52.7 93.7h0.6M52.3 106.0h0.6M64.1 96.8h0.6M48.9 103.7h0.6M44.6 97.5h0.6M44.8 108.2h0.6M51.7 109.2h0.6M45.7 108.0h0.6M49.4 105.3h0.6M57.5 105.0h0.6M49.9 95.9h0.6M52.4 109.0h0.6M48.3 104.4h0.6M50.2 95.8h0.6M49.8 96.4h0.6M53.8 104.0h0.6M58.1 102.8h0.6M54.0 105.9h0.6M54.6 96.9h0.6M56.2 109.6h0.6M52.1 108.5h0.6M55.3 109.6h0.6M48.2 101.6h0.6M54.2 108.1h0.6M55.4 106.6h0.6M49.1 110.8h0.6M54.8 110.5h0.6M48.1 105.5h0.6M49.2 103.1h0.6M53.1 106.7h0.6M47.4 107.7h0.6M47.0 107.1h0.6M49.8 99.7h0.6M51.4 104.5h0.6M57.7 97.6h0.6M46.8 110.9h0.6M57.3 102.1h0.6M47.4 106.7h0.6M55.5 109.0h0.6M58.3 97.0h0.6M46.2 103.1h0.6M53.2 107.3h0.6M60.6 98.9h0.6M57.2 105.6h0.6M45.0 105.6h0.6M47.7 110.3h0.6M59.7 101.4h0.6M46.7 105.5h0.6M45.8 109.7h0.6M53.0 100.6h0.6M47.9 108.8h0.6M47.3 103.7h0.6M55.9 105.3h0.6M62.1 108.4h0.6M54.6 108.0h0.6M56.4 106.3h0.6M51.0 96.1h0.6M64.3 97.7h0.6M48.4 106.3h0.6M51.9 93.9h0.6M50.0 106.4h0.6M59.0 98.2h0.6M54.0 105.2h0.6M52.9 105.6h0.6M49.8 97.3h0.6M54.7 106.9h0.6M46.5 107.0h0.6M51.9 108.8h0.6M51.0 101.5h0.6M53.5 107.7h0.6M58.9 107.2h0.6M51.3 103.5h0.6M46.2 102.0h0.6M58.0 99.7h0.6M48.9 109.5h0.6M63.1 101.0h0.6M58.6 101.2h0.6M54.3 107.5h0.6M45.2 110.4h0.6M62.8 105.1h0.6M53.6 98.4h0.6M62.7 105.1h0.6M65.3 101.3h0.6M48.1 101.6h0.6M48.6 107.8h0.6M60.8 99.3h0.6M54.6 94.9h0.6M61.1 104.3h0.6M47.2 105.1h0.6M54.2 103.7h0.6M61.1 100.9h0.6M46.6 101.8h0.6M54.3 103.8h0.6M52.5 102.3h0.6M51.5 107.5h0.6M56.5 100.5h0.6M51.3 100.6h0.6M50.9 96.9h0.6M57.7 108.5h0.6M51.3 101.0h0.6M49.3 101.1h0.6M45.0 108.0h0.6M55.6 96.1h0.6M49.0 105.3h0.6M52.0 101.7h0.6M51.1 103.2h0.6M59.5 104.3h0.6M51.8 101.9h0.6M48.2 100.7h0.6M58.7 106.1h0.6M62.0 110.4h0.6M53.2 103.9h0.6M45.4 106.2h0.6M50.1 96.1h0.6M53.3 107.5h0.6M53.2 102.2h0.6M54.8 110.8h0.6M50.1 107.6h0.6M58.2 102.1h0.6M53.0 100.7h0.6" stroke="#333" stroke-width="0.6" fill="none" opacity="0.6"/>
<path d="M55.1 81.1h0.6M58.0 79.9h0.6M60.8 81.3h0.6M47.6 79.5h0.6M55.4 79.6h0.6M61.4 86.0h0.6M54.7 77.9h0.6M51.9 80.0h0.6M63.4 80.6h0.6M56.2 86.1h0.6M47.0 81.2h0.6M53.4 83.6h0.6M46.0 82.8h0.6M51.4 85.1h0.6M49.4 81.2h0.6M55.8 80.3h0.6M56.4 85.3h0.6M57.0 81.6h0.6M47.7 81.4h0.6M55.5 82.6h0.6M55.0 83.9h0.6M47.4 79.4h0.6M59.5 80.7h0.6M47.7 79.4h0.6M57.0 78.8h0.6M47.5 85.3h0.6M47.7 89.7h0.6M52.5 90.3h0.6M52.7 82.4h0.6M48.7 81.5h0.6M49.4 82.1h0.6M56.0 78.4h0.6M47.2 75.9h0.6M59.8 82.0h0.6M51.9 82.0h0.6M57.2 83.2h0.6M56.4 81.7h0.6M51.4 82.0h0.6M55.5 82.4h0.6M56.2 87.3h0.6M61.7 86.3h0.6M50.8 88.3h0.6M47.4 81.9h0.6M57.2 81.6h0.6M51.4 81.1h0.6M59.1 74.8h0.6M58.6 85.4h0.6M51.6 83.9h0.6M47.0 85.5h0.6M59.3 82.0h0.6M50.2 80.7h0.6M51.0 78.4h0.6M44.9 87.2h0.6M51.9 83.9h0.6M53.6 83.6h0.6M55.3 85.2h0.6M46.0 80.5h0.6M46.4 84.2h0.6M53.8 82.3h0.6M48.6 83.2h0.6M52.2 80.0h0.6M53.7 80.2h0.6M57.0 84.1h0.6M48.4 84.0h0.6M52.3 80.1h0.6M47.2 77.2h0.6M46.1 83.2h0.6M58.3 80.3h0.6M52.8 83.2h0.6M56.1 83.5h0.6M58.4 84.5h0.6M48.0 83.4h0.6M52.1 83.9h0.6M50.4 84.7h0.6M58.9 79.7h0.6M49.2 83.0h0.6M54.6 82.6h0.6M56.3 78.7h0.6M56.0 85.7h0.6M57.8 83.5h0.6M50.8 83.4h0.6M51.6 77.4h0.6M48.9 82.1h0.6M49.3 79.4h0.6M50.8 81.1h0.6M52.4 82.1h0.6M52.9 85.2h0.6M52.7 83.4h0.6M45.6 73.4h0.6M49.9 84.2h0.6M50.2 80.3h0.6M45.6 84.9h0.6M49.3 82.9h0.6M57.9 83.8h0.6M57.0 84.3h0.6M48.6 82.3h0.6M49.1 79.1h0.6M53.6 79.9h0.6M60.7 80.0h0.6M49.2 82.5h0.6M49.3 82.4h0.6M48.8 77.9h0.6M59.9 83.5h0.6M52.8 80.8h0.6M51.2 83.1h0.6M44.8 79.8h0.6M47.4 86.0h0.6M46.5 85.7h0.6M49.6 90.4h0.6M51.6 82.3h0.6M59.0 84.8h0.6M56.9 79.0h0.6M57.9 87.2h0.6M51.5 80.7h0.6M46.3 85.3h0.6M53.5 82.2h0.6M45.6 87.1h0.6M56.6 82.1h0.6M59.7 79.3h0.6M56.6 79.2h0.6M59.3 81.4h0.6M58.4 81.0h0.6M54.1 85.6h0.6M47.3 82.5h0.6M47.6 84.8h0.6M48.9 81.1h0.6M50.9 85.7h0.6M46.6 82.1h0.6M50.3 80.6h0.6M47.9 81.7h0.6M53.0 77.6h0.6M53.2 78.6h0.6M52.1 89.0h0.6M47.0 82.0h0.6M50.7 85.1h0.6M49.5 76.8h0.6M53.3 85.4h0.6M49.2 84.2h0.6M46.5 86.1h0.6M51.6 80.2h0.6M52.9 87.4h0.6M47.6 78.5h0.6M46.7 78.7h0.6M51.7 83.3h0.6M51.1 82.8h0.6M58.2 81.3h0.6M45.5 75.3h0.6M53.3 80.2h0.6M50.7 83.4h0.6M54.4 77.5h0.6" stroke="#333" stroke-width="0.6" fill="none" opacity="0.55"/>
<path d="M70.2 105.6h0.6M74.3 109.3h0.6M72.5 98.1h0.6M80.9 99.6h0.6M70.1 106.7h0.6M76.2 107.2h0.6M77.7 102.8h0.6M81.3 99.4h0.6M72.1 106.3h0.6M75.7 101.9h0.6M82.9 110.5h0.6M70.3 106.6h0.6M71.8 103.8h0.6M79.9 105.7h0.6M74.5 105.7h0.6M69.1 109.6h0.6M71.2 109.9h0.6M72.7 103.7h0.6M82.4 106.0h0.6M71.8 103.4h0.6M78.1 103.9h0.6M69.4 102.9h0.6M74.4 106.2h0.6M71.7 109.8h0.6M70.2 102.8h0.6M77.5 107.0h0.6M73.0 108.7h0.6M75.3 110.0h0.6M74.0 106.0h0.6M77.6 99.2h0.6M79.6 106.4h0.6M76.0 110.2h0.6M76.7 98.7h0.6M70.3 104.3h0.6M75.7 103.7h0.6M79.7 107.4h0.6M75.1 105.5h0.6M76.8 106.1h0.6M71.4 108.0h0.6M70.9 105.2h0.6M73.2 101.3h0.6M78.0 105.1h0.6M69.2 105.0h0.6M68.1 110.3h0.6M72.2 107.8h0.6M70.2 102.3h0.6M74.6 106.7h0.6M79.6 104.4h0.6M80.5 108.7h0.6M70.6 104.7h0.6M72.3 108.4h0.6M79.6 104.4h0.6M72.6 106.5h0.6M71.1 100.9h0.6M70.2 106.5h0.6M65.9 107.1h0.6M69.3 109.3h0.6M78.5 105.7h0.6M82.3 104.0h0.6M72.4 101.6h0.6M71.7 105.7h0.6M78.3 109.8h0.6M73.7 102.8h0.6M73.3 103.8h0.6M72.7 103.9h0.6M70.7 105.1h0.6M72.5 104.7h0.6M68.1 105.8h0.6M77.8 107.6h0.6M72.3 101.3h0.6M68.5 101.2h0.6M71.8 104.2h0.6M66.2 107.6h0.6M67.4 102.9h0.6M71.4 108.2h0.6M84.1 104.1h0.6M73.6 103.9h0.6M74.0 104.7h0.6M87.2 101.5h0.6M74.5 102.6h0.6M76.8 103.5h0.6M77.9 101.6h0.6M85.5 106.0h0.6M66.2 107.7h0.6M72.7 101.3h0.6M77.2 103.5h0.6M78.7 103.4h0.6M79.5 105.8h0.6M76.8 105.8h0.6M73.2 104.1h0.6M77.2 107.8h0.6M83.4 101.3h0.6M80.4 105.1h0.6M76.2 102.6h0.6M83.2 102.5h0.6M74.6 102.8h0.6M84.6 109.6h0.6M68.5 103.7h0.6M76.8 103.8h0.6M73.3 101.6h0.6M76.2 101.5h0.6M73.4 111.0h0.6M76.8 103.0h0.6M73.3 102.0h0.6M75.6 107.7h0.6M79.6 104.3h0.6M69.1 105.0h0.6M83.3 106.3h0.6M74.7 98.2h0.6M72.9 107.2h0.6" stroke="#333" stroke-width="0.6" fill="none" opacity="0.55"/>
<path d="M121.5 103.5h0.6M124.1 90.4h0.6M124.0 95.0h0.6M134.9 92.2h0.6M115.7 95.0h0.6M131.6 104.6h0.6M120.3 104.2h0.6M132.7 98.2h0.6M122.7 90.3h0.6M121.4 101.0h0.6M129.5 101.8h0.6M140.5 95.6h0.6M127.7 106.8h0.6M119.0 92.9h0.6M125.5 93.3h0.6M129.0 90.6h0.6M118.3 99.0h0.6M132.3 94.4h0.6M133.8 99.2h0.6M124.0 95.3h0.6M130.5 107.3h0.6M125.0 97.7h0.6M131.8 102.7h0.6M130.9 101.8h0.6M120.7 94.0h0.6M144.1 97.0h0.6M128.6 97.1h0.6M123.2 94.5h0.6M129.2 90.5h0.6M127.3 91.2h0.6M118.9 91.7h0.6M122.5 100.5h0.6M137.2 98.9h0.6M126.5 92.3h0.6M117.2 92.4h0.6M138.8 102.3h0.6M129.5 94.1h0.6M128.0 98.0h0.6M127.9 98.0h0.6M122.7 95.8h0.6M125.6 101.8h0.6M119.5 103.1h0.6M127.4 92.6h0.6M128.1 96.3h0.6M126.4 98.0h0.6M132.8 95.4h0.6M139.5 97.8h0.6M123.3 98.7h0.6M143.3 101.9h0.6M120.5 95.0h0.6M116.9 99.5h0.6M131.9 89.5h0.6M131.1 101.0h0.6M133.6 91.6h0.6M119.1 97.4h0.6M128.3 103.2h0.6M129.9 93.7h0.6M118.2 104.6h0.6M129.1 95.4h0.6M132.4 89.9h0.6M132.0 99.2h0.6M130.8 103.8h0.6M135.5 96.4h0.6M123.7 102.7h0.6M126.1 98.2h0.6M125.2 91.2h0.6M129.5 90.5h0.6M115.8 92.4h0.6M136.5 102.0h0.6M142.9 101.3h0.6M139.1 97.0h0.6M125.0 98.3h0.6M121.5 99.8h0.6M124.9 97.1h0.6M122.1 94.8h0.6M134.7 94.3h0.6M123.4 97.2h0.6M134.1 94.5h0.6M118.8 101.8h0.6M127.4 98.3h0.6M135.4 97.2h0.6M131.3 92.6h0.6M116.9 99.2h0.6M127.3 98.9h0.6M120.7 94.7h0.6M141.8 90.7h0.6M128.7 103.2h0.6M126.4 96.3h0.6M125.0 103.0h0.6M127.4 93.4h0.6M131.0 94.2h0.6M124.5 104.5h0.6M134.7 96.2h0.6M133.5 100.4h0.6M132.0 95.8h0.6M128.5 97.9h0.6M131.9 97.6h0.6M124.2 95.1h0.6M131.1 89.9h0.6M127.9 100.0h0.6M129.2 93.9h0.6M127.8 92.8h0.6M134.7 93.4h0.6M130.1 96.8h0.6M127.0 90.7h0.6M123.5 95.6h0.6M122.7 97.4h0.6M122.9 92.9h0.6M126.4 104.0h0.6M138.8 101.0h0.6M123.0 95.6h0.6M134.3 100.2h0.6M116.8 95.3h0.6M122.9 99.9h0.6M132.4 92.5h0.6M142.7 94.0h0.6M144.7 94.6h0.6M127.4 106.5h0.6M124.4 92.9h0.6M138.1 95.4h0.6M140.3 101.2h0.6M130.4 99.6h0.6M124.6 92.9h0.6M117.2 97.7h0.6M136.5 100.5h0.6M134.3 99.7h0.6M132.4 96.5h0.6M134.8 94.0h0.6M122.0 98.1h0.6M123.8 90.6h0.6M120.4 92.4h0.6M134.5 109.1h0.6M139.8 93.2h0.6M135.8 95.2h0.6M130.8 91.7h0.6M140.3 91.2h0.6M132.0 92.2h0.6M125.4 100.8h0.6M130.0 98.6h0.6M123.6 93.8h0.6M126.3 97.9h0.6M134.3 103.4h0.6M130.2 107.0h0.6M121.5 105.8h0.6M126.2 100.0h0.6M127.1 96.1h0.6M121.7 97.8h0.6M141.9 96.4h0.6M127.9 95.6h0.6M132.9 94.4h0.6M128.0 96.8h0.6M136.9 101.0h0.6M120.8 92.0h0.6M128.1 100.4h0.6M134.6 94.4h0.6M142.6 94.7h0.6M137.6 103.7h0.6M138.9 96.7h0.6M115.8 92.1h0.6M132.9 101.7h0.6M127.3 101.5h0.6M132.0 104.3h0.6M117.1 90.9h0.6M121.4 89.6h0.6M139.3 90.3h0.6M122.3 93.3h0.6M134.1 93.0h0.6M133.0 98.7h0.6M139.2 91.5h0.6M120.7 97.7h0.6M128.4 90.3h0.6M135.5 100.8h0.6M129.9 91.3h0.6M130.6 97.8h0.6M121.7 95.7h0.6M116.3 99.1h0.6M125.1 92.8h0.6M132.3 94.8h0.6M134.8 98.5h0.6M136.0 96.3h0.6M116.3 101.5h0.6M128.5 100.6h0.6M121.0 95.8h0.6M122.9 89.9h0.6M123.8 102.9h0.6M132.7 95.4h0.6M127.4 96.3h0.6M130.0 96.6h0.6M116.2 100.8h0.6M127.0 95.0h0.6M123.9 98.6h0.6M126.1 94.0h0.6M121.4 94.0h0.6M120.9 95.8h0.6M137.1 101.3h0.6M135.1 100.9h0.6M128.1 93.7h0.6M125.4 108.8h0.6M128.1 103.4h0.6M123.8 99.0h0.6M123.7 102.0h0.6M136.2 92.1h0.6M135.7 91.5h0.6M129.7 95.4h0.6M119.4 97.4h0.6M122.3 90.7h0.6M122.3 90.0h0.6M134.1 96.0h0.6M129.8 94.0h0.6M128.4 94.0h0.6M128.5 101.4h0.6M129.6 104.8h0.6M118.6 94.0h0.6M123.7 102.6h0.6M139.7 92.6h0.6M133.0 94.2h0.6M121.1 94.9h0.6M120.8 104.4h0.6M132.1 102.3h0.6M133.5 96.1h0.6M135.0 105.3h0.6M121.0 100.1h0.6M130.3 94.5h0.6M126.0 98.6h0.6M132.0 99.3h0.6M137.1 103.0h0.6M124.1 95.3h0.6M131.4 109.4h0.6M129.9 91.5h0.6M142.1 95.6h0.6M129.5 93.1h0.6M134.2 95.0h0.6M123.9 103.9h0.6M122.9 93.5h0.6M127.9 103.0h0.6M137.1 104.4h0.6M132.0 92.6h0.6M136.8 102.7h0.6M128.6 90.4h0.6M132.6 98.3h0.6M129.6 92.3h0.6M133.1 98.9h0.6M131.0 93.1h0.6M138.5 100.0h0.6M136.7 100.3h0.6M132.6 97.8h0.6M121.6 99.0h0.6M134.3 96.6h0.6M128.6 106.1h0.6M117.4 93.7h0.6M132.8 99.7h0.6M126.5 100.2h0.6M127.7 91.3h0.6M125.4 99.9h0.6M121.2 96.2h0.6M119.4 97.9h0.6M131.5 92.0h0.6M127.8 98.3h0.6M116.0 95.4h0.6M132.1 100.8h0.6M136.0 95.1h0.6M118.1 103.2h0.6M133.3 91.8h0.6M135.1 101.5h0.6M124.8 91.2h0.6M122.3 95.0h0.6M120.6 97.7h0.6M135.1 92.4h0.6M131.7 94.8h0.6M136.8 91.4h0.6M133.0 91.0h0.6M129.6 95.4h0.6M118.7 103.5h0.6M130.6 105.3h0.6M120.9 96.7h0.6M132.1 105.7h0.6M127.6 92.9h0.6M132.9 94.9h0.6M122.9 99.9h0.6M137.3 92.6h0.6M125.8 97.6h0.6M135.7 98.5h0.6M121.4 92.2h0.6M135.2 94.8h0.6M123.7 100.5h0.6M135.8 108.0h0.6M120.6 91.4h0.6M123.3 97.5h0.6M124.7 101.9h0.6M123.6 93.9h0.6" stroke="#333" stroke-width="0.6" fill="none" opacity="0.5"/>
<path d="M140.2 89.7h0.6M134.0 95.2h0.6M140.3 87.9h0.6M138.8 86.9h0.6M133.2 91.1h0.6M139.4 89.7h0.6M135.0 87.7h0.6M131.4 96.4h0.6M139.4 87.5h0.6M142.6 89.6h0.6M136.4 89.1h0.6M142.4 89.1h0.6M144.4 88.5h0.6M135.7 89.4h0.6M135.3 91.7h0.6M139.0 91.1h0.6M139.8 86.7h0.6M137.2 88.0h0.6M139.9 86.0h0.6M135.7 88.7h0.6M135.6 90.3h0.6M143.9 87.2h0.6M132.4 91.3h0.6M140.9 90.3h0.6M138.9 94.6h0.6M142.3 88.6h0.6M137.3 88.1h0.6M138.7 93.8h0.6M136.1 94.7h0.6M134.0 95.0h0.6M131.4 90.4h0.6M141.9 88.3h0.6M138.6 89.8h0.6M138.7 89.3h0.6M134.2 90.7h0.6M138.4 87.6h0.6M139.8 93.7h0.6M131.6 91.0h0.6M136.9 90.5h0.6M138.4 88.1h0.6M137.9 90.1h0.6M137.7 94.0h0.6M138.5 86.1h0.6M131.9 93.8h0.6M136.7 89.0h0.6M132.7 91.2h0.6M137.6 88.4h0.6M136.6 92.7h0.6M141.1 90.2h0.6M137.3 86.9h0.6" stroke="#333" stroke-width="0.6" fill="none" opacity="0.5"/>
<path d="M148.4 86.6h0.65M150.0 85.6h0.65M146.9 85.3h0.65M146.0 86.9h0.65M145.2 88.4h0.65M148.4 83.8h0.65M146.0 82.6h0.65M143.7 85.2h0.65M148.9 84.3h0.65M145.1 86.2h0.65M139.8 88.2h0.65M152.0 83.8h0.65M145.8 85.3h0.65M148.1 83.7h0.65M146.4 85.6h0.65M144.9 85.9h0.65M147.0 85.8h0.65M142.9 85.1h0.65M144.7 87.2h0.65M146.8 82.3h0.65M142.0 89.0h0.65M147.1 82.8h0.65M143.2 86.0h0.65M150.4 86.2h0.65M144.9 84.9h0.65M152.0 81.9h0.65M150.9 84.1h0.65M146.3 86.8h0.65M147.5 83.3h0.65M141.3 86.4h0.65M147.6 86.6h0.65M147.9 86.7h0.65M148.5 84.6h0.65M147.3 85.2h0.65M144.0 85.4h0.65M146.4 84.2h0.65M141.4 84.1h0.65M147.6 85.3h0.65M146.3 83.2h0.65M148.6 83.7h0.65M139.6 89.2h0.65M141.4 89.7h0.65M147.7 83.9h0.65M138.7 86.0h0.65M150.6 85.7h0.65M146.8 82.2h0.65M144.8 84.9h0.65M147.4 84.4h0.65M147.1 82.3h0.65M144.0 87.7h0.65M141.5 87.7h0.65M141.7 88.1h0.65M140.2 87.1h0.65M144.7 87.2h0.65M149.7 84.3h0.65M151.6 84.9h0.65M144.5 83.9h0.65M147.3 84.5h0.65M144.5 83.0h0.65M145.6 85.0h0.65M149.1 83.4h0.65M141.1 84.8h0.65M145.9 85.4h0.65M148.3 83.8h0.65M147.7 84.7h0.65M151.2 83.4h0.65M146.4 85.7h0.65M149.8 82.6h0.65M144.5 85.0h0.65M139.4 88.8h0.65" stroke="#222" stroke-width="0.65" fill="none" opacity="0.62"/>
<text x="7" y="150.2" font-size="7.5" text-anchor="start" font-weight="normal" fill="#111" >TG10</text>
<rect x="43.8" y="123.8" width="52.5" height="46.60000000000001" fill="none" stroke="#555" stroke-width="0.8"/>
<line x1="63.5" y1="123.8" x2="63.5" y2="170.4" stroke="#555" stroke-width="0.8" />
<line x1="43.8" y1="152.0" x2="96.3" y2="152.0" stroke="#555" stroke-width="0.8" />
<path d="M63.5 152.0 H96.3 V170.4 H63.5 Z" fill="none" stroke="#000" stroke-width="1.4"/>
<path d="M96.3 152.0 L115 124.6 M96.3 170.4 H115" fill="none" stroke="#000" stroke-width="1.4"/>
<rect x="115" y="123.8" width="50.599999999999994" height="46.60000000000001" fill="none" stroke="#555" stroke-width="0.8"/>
<line x1="134.6" y1="123.8" x2="134.6" y2="170.4" stroke="#555" stroke-width="0.8" />
<line x1="115" y1="147.0" x2="165.6" y2="147.0" stroke="#555" stroke-width="0.8" />
<path d="M40.4 127.5h2.2M111.6 127.5h2.2M40.4 137.8h2.2M111.6 137.8h2.2M40.4 148.5h2.2M111.6 148.5h2.2M40.4 159.2h2.2M111.6 159.2h2.2M40.4 164.8h2.2M111.6 164.8h2.2M49 172.6h2.4M53.5 172.6h2.4M66 172.6h2.4M78 172.6h2.4M90 172.6h2.4M120 172.6h2.4M124.5 172.6h2.4M137 172.6h2.4M149 172.6h2.4M160 172.6h2.4" stroke="#999" stroke-width="1.3" fill="none"/>
<path d="M56.2 163.7h0.75M60.6 169.6h0.75M55.4 158.1h0.75M58.3 165.2h0.75M45.6 163.8h0.75M54.7 167.4h0.75M52.0 161.6h0.75M54.8 160.7h0.75M50.8 166.5h0.75M44.5 165.0h0.75M45.5 163.3h0.75M54.5 163.4h0.75M55.5 164.0h0.75M50.2 165.5h0.75M50.1 164.1h0.75M56.1 161.4h0.75M56.6 159.3h0.75M50.2 156.9h0.75M48.7 169.7h0.75M52.9 168.5h0.75M53.4 166.8h0.75M55.1 157.1h0.75M53.6 163.3h0.75M51.8 165.4h0.75M49.9 157.1h0.75M46.2 158.0h0.75M45.1 163.1h0.75M57.3 160.8h0.75M47.6 159.2h0.75M48.9 162.7h0.75M46.7 165.5h0.75M45.6 165.7h0.75M48.1 166.6h0.75M47.1 165.3h0.75M53.3 163.3h0.75M58.8 164.3h0.75M47.1 166.3h0.75M47.4 161.5h0.75M51.3 164.3h0.75M59.2 156.9h0.75M50.0 168.0h0.75M50.5 164.8h0.75M58.3 158.8h0.75M51.4 166.7h0.75M48.5 156.8h0.75M46.5 164.4h0.75M57.4 157.6h0.75M56.0 167.1h0.75M58.8 163.0h0.75M48.6 164.2h0.75M58.4 166.0h0.75M59.1 166.6h0.75M48.5 159.7h0.75M59.9 157.7h0.75M49.6 162.4h0.75M46.9 161.4h0.75M50.9 161.6h0.75M51.8 167.2h0.75M47.4 162.0h0.75M54.4 169.4h0.75M55.3 162.5h0.75M49.4 162.4h0.75M45.5 166.6h0.75M48.4 160.8h0.75M53.6 164.0h0.75M48.5 162.7h0.75M48.9 168.8h0.75M55.9 160.8h0.75M51.0 168.9h0.75M53.3 166.2h0.75M52.8 165.9h0.75M53.5 165.6h0.75M48.8 167.1h0.75M51.5 159.5h0.75M46.4 164.2h0.75M52.8 155.1h0.75M48.4 165.8h0.75M46.5 168.4h0.75M45.5 164.8h0.75M52.0 166.0h0.75M47.5 168.8h0.75M50.9 163.5h0.75M50.0 159.5h0.75M54.6 164.9h0.75M47.1 162.5h0.75M51.2 166.9h0.75M50.4 167.2h0.75M53.3 156.8h0.75M48.0 155.7h0.75M49.9 162.0h0.75M54.0 164.3h0.75M50.9 168.5h0.75M54.0 158.8h0.75M48.0 164.9h0.75M59.2 162.8h0.75M50.4 164.6h0.75M54.9 163.3h0.75M52.6 162.0h0.75M48.6 160.5h0.75M54.3 161.4h0.75M53.8 165.2h0.75M55.8 153.2h0.75M46.7 158.9h0.75M50.4 166.7h0.75M63.1 169.6h0.75M57.6 165.1h0.75M49.4 165.7h0.75M51.2 166.0h0.75M46.4 159.3h0.75M48.2 163.4h0.75M52.8 162.2h0.75M52.8 166.2h0.75M45.8 163.2h0.75M55.4 160.8h0.75M59.9 165.6h0.75M55.4 164.0h0.75M55.3 167.9h0.75M51.7 161.5h0.75M50.3 161.8h0.75M47.9 157.0h0.75M48.9 164.9h0.75M48.9 160.7h0.75M53.1 165.4h0.75M49.2 164.8h0.75M46.6 166.9h0.75M46.6 162.3h0.75M51.8 162.0h0.75M58.3 156.8h0.75M51.8 158.7h0.75M52.7 158.5h0.75M53.9 165.7h0.75M59.2 168.3h0.75M49.1 167.3h0.75M49.0 163.2h0.75M48.9 156.7h0.75M54.0 155.7h0.75M50.1 165.6h0.75M51.7 157.5h0.75M48.2 166.2h0.75M48.9 166.6h0.75M54.5 161.1h0.75M49.5 159.8h0.75M56.4 158.4h0.75M46.9 162.3h0.75M52.5 160.4h0.75M53.9 164.9h0.75M52.5 163.3h0.75M53.4 159.0h0.75M45.6 161.9h0.75M46.0 166.3h0.75M60.3 168.4h0.75M53.3 164.9h0.75M48.0 158.5h0.75M53.8 157.8h0.75M52.6 163.1h0.75M54.7 163.8h0.75M51.7 161.3h0.75M54.5 167.7h0.75M57.7 159.7h0.75M46.8 166.3h0.75M52.7 157.7h0.75M48.6 169.7h0.75M49.1 159.6h0.75M61.4 164.0h0.75M50.0 159.1h0.75M52.8 161.8h0.75M47.2 169.0h0.75M53.3 160.1h0.75M58.1 163.4h0.75M53.6 164.2h0.75M56.7 166.0h0.75M49.6 166.4h0.75M49.4 164.1h0.75M58.9 159.5h0.75M46.3 162.0h0.75M48.9 168.7h0.75M58.6 161.8h0.75M52.1 162.2h0.75M54.4 166.2h0.75M54.7 166.6h0.75M60.3 162.9h0.75M54.5 162.9h0.75M51.4 164.5h0.75M51.0 164.9h0.75M47.2 163.0h0.75M48.4 159.0h0.75M47.9 161.7h0.75M50.5 157.5h0.75M50.0 159.2h0.75M47.4 164.3h0.75M56.4 164.7h0.75M48.9 161.9h0.75M57.5 157.3h0.75M56.6 157.7h0.75M48.2 163.8h0.75M53.5 163.4h0.75M55.7 163.7h0.75M47.4 168.0h0.75M58.2 168.6h0.75M49.2 166.6h0.75M56.7 165.5h0.75M53.3 162.9h0.75M51.2 164.5h0.75M54.7 162.6h0.75M47.0 162.2h0.75M60.5 160.9h0.75M56.1 164.1h0.75M54.7 162.5h0.75M46.9 167.5h0.75M50.0 162.1h0.75M52.8 162.9h0.75M49.7 160.1h0.75M52.4 164.9h0.75M59.8 163.5h0.75M62.0 161.9h0.75M47.4 162.9h0.75M50.3 157.7h0.75M53.9 160.2h0.75M57.1 164.4h0.75M48.8 162.6h0.75M55.8 161.6h0.75M53.2 167.4h0.75M46.9 161.3h0.75M53.3 163.6h0.75M50.6 161.5h0.75M57.6 157.3h0.75M51.4 164.0h0.75M51.4 158.2h0.75M50.6 164.2h0.75M48.0 164.8h0.75M51.7 165.1h0.75M50.4 161.8h0.75M52.1 167.8h0.75M55.4 163.3h0.75M49.0 167.8h0.75M53.7 167.1h0.75M49.9 160.2h0.75M52.1 161.2h0.75M56.6 166.9h0.75M57.5 167.7h0.75M49.0 160.2h0.75M55.8 167.6h0.75M51.5 159.1h0.75M47.3 160.9h0.75M53.3 167.7h0.75M57.3 163.4h0.75M49.6 166.1h0.75M45.8 158.8h0.75M51.3 169.7h0.75M56.0 163.6h0.75M56.0 162.0h0.75M45.6 157.0h0.75M52.5 167.1h0.75M53.0 163.5h0.75M49.3 167.9h0.75M51.0 158.0h0.75M57.7 161.1h0.75M53.0 163.6h0.75M56.2 164.6h0.75M57.0 164.4h0.75M49.0 161.6h0.75M54.3 160.4h0.75M55.6 162.7h0.75M46.8 160.2h0.75M54.8 163.7h0.75M49.9 163.6h0.75M49.2 168.8h0.75M52.0 161.8h0.75M52.1 159.7h0.75M46.2 163.0h0.75M60.6 159.2h0.75M50.5 157.4h0.75M52.0 164.4h0.75M54.7 158.4h0.75M48.4 161.1h0.75M50.3 163.4h0.75M48.8 166.7h0.75M63.3 168.2h0.75M58.4 159.4h0.75M56.2 163.7h0.75M57.1 167.8h0.75M54.3 157.0h0.75M51.8 161.6h0.75M53.3 163.7h0.75M56.1 157.3h0.75M47.7 163.3h0.75M52.7 162.0h0.75M51.1 163.8h0.75M56.1 163.2h0.75M52.3 156.5h0.75M52.9 154.6h0.75M53.1 163.2h0.75M51.2 160.7h0.75M49.2 166.9h0.75M52.9 163.5h0.75M48.9 164.4h0.75M56.8 163.5h0.75M49.5 159.0h0.75M51.7 160.0h0.75M44.4 167.0h0.75M48.3 155.6h0.75M50.7 158.4h0.75M46.0 166.4h0.75M53.1 164.4h0.75M50.3 165.5h0.75M58.5 165.5h0.75M50.4 158.1h0.75M53.3 169.8h0.75M54.3 158.7h0.75M52.1 168.7h0.75M48.2 165.5h0.75M53.0 166.4h0.75M49.5 163.5h0.75M49.3 168.3h0.75M45.2 160.9h0.75M51.1 163.7h0.75M59.6 162.7h0.75M52.8 165.0h0.75M52.4 169.4h0.75M51.9 164.2h0.75M50.7 163.6h0.75M50.9 167.5h0.75M51.3 163.9h0.75M51.0 166.6h0.75M49.0 167.3h0.75M48.5 166.3h0.75M60.3 164.5h0.75M50.8 159.0h0.75M54.7 163.7h0.75M55.5 161.0h0.75M53.1 162.3h0.75M45.0 163.6h0.75M54.3 166.0h0.75M45.9 159.6h0.75M46.6 159.6h0.75M49.9 164.6h0.75M60.3 164.4h0.75M58.1 157.1h0.75M58.5 166.7h0.75M53.3 166.9h0.75M55.0 156.7h0.75M50.8 168.8h0.75M49.6 161.0h0.75M49.6 164.8h0.75M52.1 161.2h0.75M53.7 166.0h0.75M46.9 159.2h0.75M51.3 160.9h0.75M48.3 163.1h0.75M51.3 165.9h0.75M55.1 165.3h0.75M56.5 159.8h0.75M54.1 165.1h0.75M46.3 160.9h0.75M53.3 163.9h0.75M45.2 161.4h0.75M58.4 166.9h0.75M51.6 168.9h0.75M46.9 162.9h0.75M55.7 162.3h0.75M45.9 165.9h0.75M58.8 153.6h0.75M51.9 158.7h0.75M49.8 158.0h0.75M63.5 160.9h0.75M51.4 160.8h0.75M46.5 161.8h0.75M52.6 169.8h0.75M46.1 163.9h0.75M49.1 157.4h0.75M52.4 160.6h0.75M48.5 159.5h0.75M56.1 162.0h0.75M50.5 164.3h0.75M45.4 164.5h0.75M50.4 165.4h0.75M49.4 163.8h0.75M53.7 167.4h0.75M47.9 167.4h0.75M46.5 162.9h0.75M51.8 164.2h0.75M50.3 167.3h0.75M47.9 169.6h0.75M53.8 163.7h0.75M52.5 167.3h0.75M47.4 165.9h0.75M56.2 162.7h0.75M47.1 159.4h0.75M53.2 160.4h0.75M63.0 165.9h0.75M45.0 162.5h0.75M58.4 166.3h0.75M46.4 167.7h0.75M48.6 166.0h0.75M53.9 161.8h0.75M50.5 168.2h0.75M53.6 163.4h0.75M55.6 165.5h0.75M52.8 157.4h0.75M51.8 161.7h0.75M54.7 161.2h0.75M53.3 159.4h0.75M55.4 160.7h0.75M51.1 165.9h0.75M49.7 163.6h0.75M54.4 167.3h0.75M49.0 164.0h0.75M50.3 158.9h0.75M57.4 162.1h0.75M60.4 166.1h0.75M53.0 166.1h0.75M54.9 167.2h0.75M46.6 161.4h0.75M48.6 164.0h0.75M50.0 158.7h0.75M61.3 160.2h0.75M53.0 163.5h0.75M47.2 166.4h0.75M53.4 162.4h0.75M55.2 160.8h0.75M55.4 166.3h0.75M52.7 166.6h0.75M51.9 163.5h0.75M49.6 162.5h0.75M51.2 159.4h0.75M54.2 162.3h0.75M53.7 161.6h0.75M53.1 164.1h0.75M55.4 165.4h0.75M55.6 162.9h0.75M50.9 162.6h0.75M45.3 163.1h0.75M56.4 166.6h0.75M47.2 164.8h0.75M54.8 158.2h0.75M52.9 164.9h0.75M54.8 164.6h0.75M60.6 162.0h0.75M57.2 168.6h0.75M51.6 159.1h0.75M57.7 163.5h0.75M53.7 165.5h0.75M55.7 167.6h0.75M44.5 158.0h0.75M51.9 163.6h0.75M54.9 163.1h0.75M57.7 168.2h0.75M56.1 160.5h0.75M50.8 163.3h0.75M46.0 160.2h0.75M52.0 158.8h0.75M53.8 165.5h0.75M50.1 162.3h0.75M54.1 165.5h0.75M52.9 158.8h0.75M48.1 162.2h0.75M47.7 166.7h0.75M49.2 161.7h0.75M47.5 161.9h0.75M56.9 164.2h0.75M48.7 168.6h0.75M53.5 159.5h0.75M48.5 161.2h0.75M51.0 168.4h0.75M47.9 163.0h0.75M51.7 158.9h0.75M48.9 166.0h0.75M56.6 156.2h0.75M54.6 162.5h0.75M57.3 166.0h0.75M60.5 164.8h0.75M49.3 160.3h0.75M44.4 165.8h0.75M53.6 166.8h0.75M52.9 157.7h0.75M49.3 162.6h0.75M52.0 166.6h0.75M57.9 164.7h0.75M45.5 164.5h0.75M50.2 168.0h0.75M56.3 161.8h0.75M55.7 163.7h0.75M53.4 168.9h0.75M45.8 163.3h0.75M58.5 160.6h0.75M52.2 164.1h0.75M49.2 158.5h0.75M47.9 159.7h0.75M56.3 164.6h0.75M54.5 158.9h0.75M53.6 164.2h0.75M56.2 160.8h0.75M55.0 169.0h0.75M59.8 160.0h0.75M45.9 157.9h0.75M55.8 165.9h0.75M52.8 160.2h0.75M51.0 163.1h0.75M56.8 165.6h0.75M57.6 162.0h0.75M52.8 162.3h0.75M48.5 162.4h0.75M49.9 165.6h0.75M49.8 163.9h0.75M47.4 158.8h0.75M58.0 159.7h0.75M59.8 167.3h0.75M49.2 163.7h0.75M50.4 161.2h0.75M57.1 163.1h0.75M55.8 160.9h0.75M47.9 168.8h0.75M49.9 159.3h0.75M50.4 167.7h0.75M50.4 160.8h0.75M54.2 167.5h0.75M50.2 162.4h0.75M50.5 165.2h0.75M51.5 162.4h0.75M49.3 158.3h0.75M48.2 163.3h0.75M50.4 161.6h0.75M46.0 161.6h0.75M49.8 159.1h0.75M46.7 167.0h0.75M55.6 164.1h0.75M57.1 160.4h0.75M47.4 159.2h0.75M51.0 160.4h0.75M54.2 159.3h0.75M51.6 156.0h0.75M51.1 167.7h0.75M50.0 164.8h0.75M56.4 159.3h0.75M45.2 163.9h0.75M52.5 162.6h0.75M46.6 168.3h0.75M45.7 162.6h0.75M51.0 166.4h0.75M49.1 160.4h0.75M60.8 160.3h0.75M55.0 163.0h0.75M49.0 163.4h0.75M50.0 164.8h0.75M51.6 159.8h0.75M60.0 166.1h0.75M52.3 162.4h0.75M57.8 161.9h0.75M47.3 166.3h0.75M46.6 160.5h0.75M58.1 157.3h0.75M50.9 164.1h0.75M52.4 157.9h0.75M50.1 162.3h0.75M60.3 167.5h0.75M47.6 167.0h0.75M54.3 163.2h0.75M50.1 162.5h0.75M55.7 169.2h0.75M60.0 162.1h0.75M54.1 154.2h0.75M49.9 158.7h0.75M55.1 157.1h0.75M46.3 159.3h0.75M53.1 166.9h0.75M52.0 160.3h0.75M52.9 163.5h0.75M55.2 164.9h0.75M61.6 168.2h0.75M48.2 166.7h0.75M54.8 159.7h0.75M47.7 160.5h0.75M50.2 168.4h0.75M48.6 163.9h0.75M54.7 167.4h0.75M52.7 159.5h0.75M61.7 167.0h0.75M57.9 165.2h0.75M53.5 166.1h0.75M46.6 165.2h0.75M46.4 166.4h0.75M52.1 165.6h0.75M46.9 162.5h0.75M51.0 162.5h0.75M49.2 160.2h0.75M54.8 162.1h0.75M47.4 165.0h0.75M47.4 162.9h0.75M48.8 160.0h0.75M50.2 160.4h0.75M45.3 165.0h0.75M49.8 157.9h0.75M49.4 164.3h0.75M53.3 165.1h0.75M52.4 165.9h0.75M48.9 160.5h0.75M54.1 162.0h0.75M51.3 166.1h0.75M55.7 168.4h0.75M48.0 162.2h0.75M53.9 158.0h0.75M45.3 166.0h0.75M48.3 160.0h0.75M55.0 165.7h0.75M55.6 162.3h0.75M49.9 162.3h0.75M52.6 155.7h0.75M48.0 166.4h0.75M47.6 163.4h0.75M51.8 165.6h0.75M49.0 159.2h0.75M63.0 160.8h0.75M59.3 156.8h0.75M51.8 162.8h0.75M55.9 159.7h0.75M47.4 160.7h0.75M48.8 164.6h0.75M47.5 162.6h0.75M58.2 169.2h0.75M49.5 168.6h0.75M53.0 169.2h0.75M47.2 162.4h0.75M56.1 165.8h0.75M52.1 166.1h0.75M52.0 169.2h0.75M53.1 163.9h0.75M49.7 159.1h0.75M55.3 166.5h0.75M55.7 162.1h0.75M46.5 162.1h0.75M49.8 163.6h0.75M55.9 160.1h0.75M48.9 166.3h0.75M53.7 160.3h0.75M46.3 160.5h0.75M51.6 164.6h0.75M50.9 161.2h0.75M50.4 163.3h0.75M54.0 163.9h0.75M47.4 159.1h0.75" stroke="#000" stroke-width="0.75" fill="none" opacity="0.68"/>
<path d="M60.8 162.9h0.6M51.0 163.3h0.6M58.7 161.7h0.6M53.1 162.1h0.6M55.5 158.0h0.6M53.3 168.9h0.6M59.0 166.7h0.6M45.0 157.6h0.6M56.8 162.0h0.6M49.5 158.3h0.6M60.8 157.1h0.6M52.7 156.0h0.6M66.4 160.8h0.6M47.0 153.9h0.6M54.1 157.7h0.6M47.8 157.7h0.6M53.1 162.4h0.6M58.7 163.9h0.6M61.4 169.5h0.6M62.6 169.4h0.6M52.5 166.3h0.6M52.2 155.1h0.6M45.2 167.4h0.6M44.5 163.1h0.6M46.0 164.7h0.6M50.9 160.9h0.6M47.1 151.6h0.6M52.5 156.5h0.6M50.4 165.4h0.6M58.2 167.2h0.6M60.8 155.9h0.6M54.4 157.5h0.6M54.4 160.7h0.6M48.3 169.1h0.6M51.0 157.5h0.6M47.1 167.0h0.6M53.1 169.6h0.6M50.5 158.4h0.6M48.3 157.9h0.6M67.3 164.4h0.6M55.9 162.4h0.6M55.7 164.9h0.6M50.3 163.2h0.6M54.3 167.6h0.6M57.4 160.0h0.6M57.5 167.7h0.6M50.5 161.5h0.6M47.1 162.0h0.6M51.7 155.8h0.6M58.9 159.4h0.6M53.6 166.6h0.6M48.9 153.8h0.6M57.8 165.6h0.6M50.6 169.4h0.6M57.3 158.3h0.6M51.6 154.0h0.6M47.2 167.8h0.6M54.8 167.4h0.6M62.2 150.4h0.6M66.5 166.6h0.6M52.5 164.8h0.6M52.3 160.1h0.6M52.0 162.7h0.6M56.0 167.0h0.6M57.8 166.5h0.6M54.0 160.6h0.6M63.1 157.6h0.6M45.3 160.7h0.6M54.5 167.6h0.6M52.7 167.0h0.6M48.0 160.2h0.6M52.9 156.3h0.6M53.2 161.3h0.6M56.1 158.0h0.6M49.0 160.4h0.6M50.0 158.1h0.6M50.6 156.2h0.6M55.2 167.0h0.6M52.0 162.4h0.6M46.9 158.3h0.6M50.8 158.6h0.6M45.2 164.3h0.6M52.0 161.3h0.6M47.4 163.1h0.6M48.1 161.1h0.6M53.2 167.2h0.6M56.5 160.2h0.6M59.1 157.3h0.6M65.9 164.1h0.6M50.0 161.4h0.6M45.0 162.6h0.6M49.6 159.4h0.6M59.1 159.3h0.6M62.0 167.9h0.6M55.8 160.3h0.6M49.1 152.8h0.6M53.7 162.0h0.6M54.4 159.8h0.6M54.9 155.5h0.6M59.6 161.6h0.6M51.2 155.2h0.6M46.3 167.2h0.6M47.8 163.2h0.6M57.3 156.4h0.6M49.3 157.3h0.6M58.5 163.7h0.6M56.0 162.7h0.6M49.6 163.8h0.6M62.5 165.4h0.6M55.6 152.8h0.6M47.5 167.7h0.6M59.2 161.3h0.6M50.8 161.0h0.6M56.7 163.5h0.6M60.8 169.7h0.6M50.3 160.2h0.6M50.7 158.7h0.6M49.6 163.0h0.6M57.2 155.0h0.6M50.3 165.8h0.6" stroke="#333" stroke-width="0.6" fill="none" opacity="0.6"/>
<path d="M48.1 141.9h0.6M49.4 138.6h0.6M52.3 141.3h0.6M53.6 139.1h0.6M49.3 139.3h0.6M54.1 138.3h0.6M52.0 135.4h0.6M49.4 141.3h0.6M59.2 138.9h0.6M51.2 144.0h0.6M50.0 140.9h0.6M49.0 141.7h0.6M57.9 136.9h0.6M58.6 144.5h0.6M50.9 136.7h0.6M53.5 138.2h0.6M44.6 137.0h0.6M53.3 136.1h0.6M57.5 139.9h0.6M51.2 141.7h0.6M47.4 140.3h0.6M45.3 138.4h0.6M55.3 138.0h0.6M51.5 140.3h0.6M59.7 141.5h0.6M54.4 138.5h0.6M44.8 142.3h0.6M61.5 134.8h0.6M56.4 138.9h0.6M55.6 139.6h0.6M51.1 139.0h0.6M51.9 141.3h0.6M50.7 137.9h0.6M55.3 140.3h0.6M54.2 139.6h0.6M59.4 141.2h0.6M53.1 138.6h0.6M55.4 135.4h0.6M49.4 137.6h0.6M52.9 138.3h0.6M54.1 143.4h0.6M52.0 138.4h0.6M58.2 140.6h0.6M56.7 141.4h0.6M50.2 137.7h0.6M48.4 139.2h0.6M57.1 137.0h0.6M49.4 136.4h0.6M62.1 140.6h0.6M53.1 136.6h0.6M46.9 137.7h0.6M52.2 136.5h0.6M50.9 141.4h0.6M52.1 139.2h0.6M51.3 137.7h0.6M45.1 138.9h0.6M46.9 137.9h0.6M56.6 137.4h0.6M53.7 136.0h0.6M54.9 140.1h0.6M50.1 140.7h0.6M47.7 139.1h0.6M60.5 139.0h0.6M46.4 141.2h0.6M54.7 138.5h0.6M44.4 141.9h0.6M53.5 137.3h0.6M57.8 141.9h0.6M47.8 139.9h0.6M61.1 136.2h0.6M52.3 137.8h0.6M51.6 139.2h0.6M53.4 140.7h0.6M54.6 141.0h0.6M57.1 141.1h0.6M48.7 139.8h0.6M50.2 137.4h0.6M61.8 139.6h0.6M52.3 134.9h0.6M50.9 140.5h0.6M51.0 137.9h0.6M59.4 138.4h0.6M50.4 138.8h0.6M50.9 141.1h0.6M54.9 138.9h0.6M50.2 138.6h0.6M60.5 138.4h0.6M55.3 135.9h0.6M53.7 140.3h0.6M58.4 139.6h0.6M54.9 139.6h0.6M57.4 143.0h0.6M53.1 137.4h0.6M55.0 138.8h0.6M55.2 140.5h0.6M52.8 138.1h0.6M53.6 136.6h0.6M53.4 137.3h0.6M54.3 139.2h0.6M51.0 136.7h0.6M52.3 137.7h0.6M51.3 140.4h0.6M56.8 136.5h0.6M56.7 141.7h0.6M57.7 139.5h0.6M51.6 142.4h0.6M50.5 136.0h0.6M52.5 139.6h0.6M46.9 136.6h0.6M61.9 139.2h0.6" stroke="#333" stroke-width="0.6" fill="none" opacity="0.55"/>
<path d="M78.8 161.9h0.6M67.8 163.3h0.6M81.5 161.6h0.6M66.5 163.3h0.6M73.7 164.0h0.6M70.1 162.8h0.6M72.4 166.9h0.6M75.8 166.9h0.6M74.8 156.6h0.6M65.7 165.7h0.6M79.2 166.9h0.6M74.7 157.8h0.6M72.7 165.3h0.6M81.6 162.7h0.6M72.4 161.3h0.6M79.9 166.9h0.6M66.3 168.0h0.6M70.6 158.9h0.6M67.4 161.4h0.6M69.1 161.6h0.6M75.8 165.3h0.6M72.8 158.5h0.6M73.1 161.6h0.6M66.5 164.4h0.6M68.0 158.0h0.6M82.3 167.1h0.6M82.0 164.3h0.6M73.1 163.6h0.6M68.5 166.4h0.6M76.3 162.9h0.6M66.1 163.5h0.6M82.8 168.9h0.6M79.2 162.7h0.6M75.7 165.8h0.6M76.0 167.5h0.6M71.9 156.0h0.6M68.4 166.2h0.6M80.2 163.9h0.6M77.6 164.2h0.6M75.9 162.3h0.6M73.1 168.0h0.6M73.8 163.8h0.6M80.8 167.3h0.6M73.2 164.8h0.6M70.2 164.4h0.6M76.6 163.9h0.6M75.8 165.1h0.6M75.4 162.2h0.6M70.4 163.1h0.6M82.8 163.1h0.6M71.9 162.3h0.6M69.4 165.6h0.6M70.3 167.0h0.6M79.4 165.9h0.6M80.0 163.6h0.6M66.6 163.7h0.6M78.1 158.6h0.6M69.2 167.6h0.6M77.2 168.5h0.6M78.3 164.1h0.6M77.1 166.8h0.6M74.9 163.2h0.6M76.6 162.8h0.6M86.6 161.3h0.6M67.8 159.5h0.6M80.1 162.5h0.6M75.8 163.2h0.6M76.4 158.9h0.6M75.5 161.9h0.6M80.3 166.0h0.6M69.0 160.6h0.6M77.8 168.0h0.6M78.7 163.4h0.6M80.4 155.8h0.6M72.5 160.6h0.6M70.1 165.8h0.6M76.4 164.9h0.6M74.4 166.0h0.6M78.8 161.9h0.6M79.6 160.7h0.6M83.5 159.4h0.6M73.7 160.2h0.6M75.3 168.4h0.6M81.9 165.2h0.6M72.2 167.0h0.6M79.7 163.8h0.6M87.0 161.6h0.6M68.6 163.2h0.6M66.6 164.4h0.6M81.2 161.6h0.6M72.9 159.7h0.6M78.8 166.7h0.6M77.9 164.7h0.6M79.9 163.5h0.6M78.5 166.7h0.6M81.4 165.7h0.6M75.5 166.3h0.6M67.6 157.9h0.6M82.9 164.4h0.6M70.0 161.9h0.6M74.3 164.1h0.6M71.4 167.3h0.6M78.3 158.1h0.6M69.1 164.1h0.6M76.4 162.4h0.6M75.1 164.5h0.6M69.5 164.1h0.6M86.1 161.7h0.6M70.1 166.2h0.6M81.6 167.5h0.6" stroke="#333" stroke-width="0.6" fill="none" opacity="0.55"/>
<path d="M123.8 153.5h0.6M129.5 152.7h0.6M130.8 160.9h0.6M131.8 153.9h0.6M126.7 165.4h0.6M119.7 166.8h0.6M133.1 154.6h0.6M123.0 165.7h0.6M136.4 159.8h0.6M128.8 152.0h0.6M123.1 154.5h0.6M131.8 157.4h0.6M127.1 145.5h0.6M131.9 157.9h0.6M142.6 160.0h0.6M128.2 146.7h0.6M146.8 149.7h0.6M129.4 158.8h0.6M131.5 162.5h0.6M121.0 149.6h0.6M129.3 146.1h0.6M123.9 162.9h0.6M130.1 153.3h0.6M124.2 154.3h0.6M127.9 147.1h0.6M133.5 145.8h0.6M136.9 151.8h0.6M130.1 148.4h0.6M140.6 162.9h0.6M142.6 159.7h0.6M137.4 150.1h0.6M137.1 151.2h0.6M127.8 145.3h0.6M128.5 156.6h0.6M127.7 146.9h0.6M134.3 159.9h0.6M127.5 159.0h0.6M134.9 147.7h0.6M120.9 156.8h0.6M122.0 156.5h0.6M124.7 163.8h0.6M128.2 154.8h0.6M126.8 148.4h0.6M137.8 165.1h0.6M122.9 156.1h0.6M121.8 159.5h0.6M122.2 153.1h0.6M137.2 157.4h0.6M117.0 161.8h0.6M131.7 154.4h0.6M136.8 154.9h0.6M123.0 153.3h0.6M127.4 153.9h0.6M145.5 157.8h0.6M130.0 152.4h0.6M123.3 147.6h0.6M137.7 162.1h0.6M121.3 167.3h0.6M128.2 147.5h0.6M115.9 152.3h0.6M136.1 156.9h0.6M117.9 149.7h0.6M122.8 161.4h0.6M127.4 147.7h0.6M122.2 159.8h0.6M127.3 159.3h0.6M120.1 159.9h0.6M139.0 168.9h0.6M116.7 153.8h0.6M126.6 154.8h0.6M121.1 159.6h0.6M144.5 163.8h0.6M121.4 150.3h0.6M133.2 154.9h0.6M122.7 162.0h0.6M131.7 160.7h0.6M126.8 162.3h0.6M124.8 146.7h0.6M136.9 158.8h0.6M116.3 155.1h0.6M134.0 151.7h0.6M131.0 150.2h0.6M127.6 153.4h0.6M131.5 147.7h0.6M120.1 156.1h0.6M124.5 157.4h0.6M124.5 145.5h0.6M133.2 155.7h0.6M133.2 151.8h0.6M125.5 162.2h0.6M116.2 165.3h0.6M131.7 153.6h0.6M128.7 157.9h0.6M122.6 155.8h0.6M129.5 154.6h0.6M132.6 157.6h0.6M133.0 159.2h0.6M120.6 161.9h0.6M146.9 150.3h0.6M119.2 158.5h0.6M134.5 160.6h0.6M130.7 157.0h0.6M136.8 148.2h0.6M128.2 151.6h0.6M126.9 153.1h0.6M127.8 154.4h0.6M123.1 149.7h0.6M121.9 164.4h0.6M134.5 152.8h0.6M121.2 157.1h0.6M123.8 163.7h0.6M135.8 153.2h0.6M132.3 148.8h0.6M116.9 159.5h0.6M139.5 152.0h0.6M143.1 146.2h0.6M121.2 152.7h0.6M136.6 154.4h0.6M127.9 154.1h0.6M134.0 153.8h0.6M129.1 153.5h0.6M120.2 162.8h0.6M123.1 145.4h0.6M124.9 154.2h0.6M119.1 155.2h0.6M130.7 146.8h0.6M120.0 155.1h0.6M121.8 163.7h0.6M120.6 160.9h0.6M117.2 163.7h0.6M139.3 149.9h0.6M123.2 158.1h0.6M119.3 157.6h0.6M136.6 155.7h0.6M130.3 153.0h0.6M135.1 148.7h0.6M139.2 153.8h0.6M124.9 155.5h0.6M127.1 149.5h0.6M119.6 154.0h0.6M122.7 159.7h0.6M131.7 151.8h0.6M128.9 147.7h0.6M120.6 149.2h0.6M127.6 148.5h0.6M125.1 148.4h0.6M129.7 146.6h0.6M127.9 154.6h0.6M134.8 149.2h0.6M133.3 149.9h0.6M134.9 153.5h0.6M123.2 159.2h0.6M123.7 158.4h0.6M116.4 160.6h0.6M147.6 161.3h0.6M130.3 145.9h0.6M124.3 149.7h0.6M121.9 159.2h0.6M129.0 158.8h0.6M134.0 146.5h0.6" stroke="#444" stroke-width="0.6" fill="none" opacity="0.4"/>
<path d="M135.6 150.4h0.6M141.1 149.2h0.6M137.7 152.1h0.6M143.0 152.4h0.6M139.6 151.1h0.6M140.8 146.2h0.6M140.3 149.5h0.6M143.8 145.8h0.6M135.7 146.8h0.6M151.5 149.4h0.6M138.0 147.0h0.6M148.1 145.5h0.6M140.5 148.8h0.6M138.1 146.8h0.6M146.2 153.3h0.6M139.9 151.1h0.6M142.8 149.3h0.6M140.5 152.7h0.6M143.3 148.3h0.6M140.1 151.8h0.6M138.6 146.8h0.6M139.9 147.5h0.6M146.1 150.1h0.6M140.6 147.4h0.6M146.7 150.3h0.6M149.4 151.7h0.6M140.1 147.3h0.6M139.9 149.5h0.6M144.2 150.5h0.6M136.9 147.2h0.6M138.4 146.1h0.6M139.7 151.9h0.6M138.6 151.6h0.6M138.8 150.2h0.6M136.7 153.2h0.6M142.7 152.2h0.6M139.9 152.9h0.6M141.3 147.5h0.6M138.4 149.2h0.6M137.4 145.4h0.6M141.5 151.1h0.6M139.8 151.5h0.6M147.4 145.2h0.6M142.0 146.1h0.6M138.4 149.5h0.6M144.4 150.6h0.6M143.6 154.5h0.6M139.5 152.3h0.6M146.8 150.5h0.6M140.8 151.3h0.6" stroke="#444" stroke-width="0.6" fill="none" opacity="0.4"/>
<path d="M144.3 141.0h0.7M148.8 139.3h0.7M142.5 141.7h0.7M147.9 140.9h0.7M145.2 140.4h0.7M148.2 141.2h0.7M140.5 142.5h0.7M138.7 144.3h0.7M146.6 139.9h0.7M141.6 141.5h0.7M140.4 142.8h0.7M143.7 139.3h0.7M144.9 142.3h0.7M141.7 141.4h0.7M149.7 140.0h0.7M143.6 141.6h0.7M147.0 139.4h0.7M144.7 139.2h0.7M140.9 140.3h0.7M147.2 140.8h0.7M146.9 141.9h0.7M145.1 141.2h0.7M146.1 141.3h0.7M142.2 141.4h0.7M144.6 141.1h0.7M143.0 141.3h0.7M145.7 141.0h0.7M146.5 141.5h0.7M146.4 141.7h0.7M147.2 142.0h0.7M146.6 139.9h0.7M148.3 141.0h0.7M145.1 139.7h0.7M146.1 140.3h0.7M144.0 138.8h0.7M149.0 138.7h0.7M142.1 142.2h0.7M146.5 139.7h0.7M145.0 141.3h0.7M145.4 141.5h0.7M147.0 140.1h0.7M140.8 144.5h0.7M144.0 140.1h0.7M147.0 141.2h0.7M143.4 144.1h0.7M138.9 144.0h0.7M144.9 141.4h0.7M145.8 140.5h0.7M145.8 139.3h0.7M144.0 143.3h0.7M138.3 144.1h0.7M139.2 141.5h0.7M147.3 140.0h0.7M143.5 139.7h0.7M144.7 140.9h0.7M143.3 139.7h0.7M145.4 141.4h0.7M148.0 140.8h0.7M149.0 141.4h0.7M137.6 144.7h0.7M144.7 139.9h0.7M146.1 141.8h0.7M141.0 140.6h0.7M146.8 139.9h0.7M148.8 140.3h0.7M143.6 139.9h0.7M146.6 138.7h0.7M141.6 140.4h0.7M149.4 141.8h0.7M144.4 140.7h0.7M146.8 141.9h0.7M142.9 144.0h0.7M144.5 142.4h0.7M138.8 142.5h0.7M143.2 143.7h0.7M144.4 139.7h0.7M150.1 139.0h0.7M145.0 139.6h0.7M146.8 140.8h0.7M144.2 140.7h0.7M143.5 140.6h0.7M141.3 143.3h0.7M147.3 138.8h0.7M142.0 142.2h0.7M150.9 139.3h0.7M144.2 140.9h0.7M145.6 140.6h0.7M147.8 141.4h0.7M146.4 142.4h0.7M144.4 140.5h0.7M140.9 139.4h0.7M145.9 139.6h0.7M147.8 137.9h0.7M144.6 140.6h0.7M142.2 143.0h0.7M144.0 141.8h0.7M143.6 141.5h0.7M143.8 141.4h0.7M144.7 140.3h0.7M146.1 140.5h0.7M142.5 140.4h0.7M146.2 142.2h0.7M141.6 141.4h0.7M146.2 141.9h0.7M146.9 139.2h0.7M145.1 142.0h0.7M145.6 140.6h0.7M141.9 142.0h0.7M144.8 141.1h0.7M148.9 141.4h0.7M142.9 141.8h0.7M144.2 141.3h0.7M149.3 141.0h0.7M145.1 140.2h0.7M144.6 141.5h0.7M143.7 142.6h0.7M145.1 139.7h0.7M144.3 141.0h0.7M147.6 141.6h0.7M148.8 141.8h0.7M145.8 140.9h0.7M147.7 140.3h0.7M141.7 141.3h0.7M146.7 141.3h0.7M142.1 143.1h0.7M145.8 139.1h0.7M146.2 141.8h0.7M146.4 140.3h0.7M142.9 142.8h0.7M145.6 140.8h0.7M144.0 140.1h0.7M140.1 141.8h0.7M147.9 141.1h0.7M143.2 143.2h0.7M144.4 140.0h0.7M147.6 141.9h0.7M144.0 139.9h0.7M144.8 138.3h0.7M145.1 142.7h0.7M145.7 140.0h0.7M146.9 140.0h0.7M148.3 139.8h0.7M150.3 139.3h0.7M145.5 139.8h0.7M141.7 142.2h0.7M145.9 139.7h0.7M146.5 140.2h0.7M143.6 141.3h0.7M146.0 141.6h0.7M148.2 140.6h0.7M143.1 140.7h0.7M146.0 139.4h0.7M144.6 140.7h0.7M144.7 141.3h0.7M147.7 142.2h0.7M147.3 141.6h0.7M142.2 142.9h0.7M148.4 138.6h0.7M138.8 144.5h0.7M145.2 140.1h0.7M143.5 142.6h0.7M145.7 140.4h0.7M148.0 139.2h0.7M142.8 140.9h0.7M143.0 142.3h0.7M144.4 140.0h0.7M143.8 139.1h0.7M145.4 141.0h0.7M146.6 140.3h0.7M146.0 139.7h0.7" stroke="#111" stroke-width="0.7" fill="none" opacity="0.75"/>
<text x="8" y="203.4" font-size="7.5" text-anchor="start" font-weight="normal" fill="#111" >DM1</text>
<line x1="43.8" y1="179.0" x2="43.8" y2="224.6" stroke="#555" stroke-width="0.8" />
<line x1="96.3" y1="179.0" x2="96.3" y2="224.6" stroke="#555" stroke-width="0.8" />
<line x1="43.8" y1="224.6" x2="96.3" y2="224.6" stroke="#555" stroke-width="0.8" />
<line x1="63.5" y1="179.0" x2="63.5" y2="224.6" stroke="#555" stroke-width="0.8" />
<line x1="43.8" y1="206.6" x2="96.3" y2="206.6" stroke="#555" stroke-width="0.8" />
<path d="M63.5 206.6 H96.3 V224.6 H63.5 Z" fill="none" stroke="#000" stroke-width="1.4"/>
<path d="M96.3 206.6 L115 179.8 M96.3 224.6 H115" fill="none" stroke="#000" stroke-width="1.4"/>
<line x1="115" y1="179.0" x2="115" y2="224.6" stroke="#555" stroke-width="0.8" />
<line x1="165.6" y1="179.0" x2="165.6" y2="224.6" stroke="#555" stroke-width="0.8" />
<line x1="115" y1="224.6" x2="165.6" y2="224.6" stroke="#555" stroke-width="0.8" />
<line x1="134.6" y1="179.0" x2="134.6" y2="224.6" stroke="#555" stroke-width="0.8" />
<line x1="115" y1="202.0" x2="165.6" y2="202.0" stroke="#555" stroke-width="0.8" />
<path d="M40.4 182.6h2.2M111.6 182.6h2.2M40.4 192.7h2.2M111.6 192.7h2.2M40.4 203.2h2.2M111.6 203.2h2.2M40.4 213.7h2.2M111.6 213.7h2.2M40.4 219.1h2.2M111.6 219.1h2.2M49 226.8h2.4M53.5 226.8h2.4M66 226.8h2.4M78 226.8h2.4M90 226.8h2.4M120 226.8h2.4M124.5 226.8h2.4M137 226.8h2.4M149 226.8h2.4M160 226.8h2.4" stroke="#999" stroke-width="1.3" fill="none"/>
<path d="M51.3 218.4h0.75M45.3 220.1h0.75M51.9 218.0h0.75M51.2 214.7h0.75M47.1 220.2h0.75M50.2 214.6h0.75M47.7 221.5h0.75M51.6 222.0h0.75M51.1 213.1h0.75M55.4 219.1h0.75M48.0 216.6h0.75M46.5 221.1h0.75M49.2 219.7h0.75M52.4 216.8h0.75M53.0 216.8h0.75M45.5 216.1h0.75M45.5 220.8h0.75M54.3 215.5h0.75M54.2 218.8h0.75M55.9 214.1h0.75M51.3 213.8h0.75M47.9 223.3h0.75M53.5 220.9h0.75M47.4 209.7h0.75M56.5 221.4h0.75M47.7 223.2h0.75M50.3 220.3h0.75M48.7 209.2h0.75M49.7 218.6h0.75M52.5 214.9h0.75M50.1 213.3h0.75M50.1 218.1h0.75M53.3 213.2h0.75M51.5 217.8h0.75M46.4 220.7h0.75M60.4 220.5h0.75M54.9 222.1h0.75M50.6 221.7h0.75M47.3 218.5h0.75M54.6 223.0h0.75M49.8 216.6h0.75M53.4 217.5h0.75M51.9 221.0h0.75M47.5 221.3h0.75M53.0 216.7h0.75M45.2 215.3h0.75M51.0 221.5h0.75M52.1 213.3h0.75M55.3 219.4h0.75M53.3 213.9h0.75M45.9 221.4h0.75M57.9 219.3h0.75M50.3 216.0h0.75M50.7 222.7h0.75M47.8 222.0h0.75M47.8 220.1h0.75M57.8 215.0h0.75M55.5 217.8h0.75M46.7 218.6h0.75M54.3 215.0h0.75M49.9 215.5h0.75M47.5 217.0h0.75M55.1 215.8h0.75M57.1 216.3h0.75M47.9 222.1h0.75M57.9 215.2h0.75M54.0 213.2h0.75M49.3 216.3h0.75M54.6 212.8h0.75M48.8 215.1h0.75M51.7 212.9h0.75M52.2 211.8h0.75M55.2 212.6h0.75M57.1 214.5h0.75M46.0 219.7h0.75M60.9 220.2h0.75M54.3 213.1h0.75M56.0 218.3h0.75M51.2 223.3h0.75M47.2 222.1h0.75M55.1 215.3h0.75M51.8 218.2h0.75M54.0 213.9h0.75M50.1 218.2h0.75M51.3 217.9h0.75M52.4 217.0h0.75M48.8 221.9h0.75M48.2 216.5h0.75M47.0 213.3h0.75M53.3 217.6h0.75M50.6 219.6h0.75M50.4 220.5h0.75M59.8 219.2h0.75M54.5 211.2h0.75M57.5 218.6h0.75M55.2 213.2h0.75M47.2 215.2h0.75M53.8 213.4h0.75M47.8 221.6h0.75M48.2 218.3h0.75M47.0 211.1h0.75M50.8 217.3h0.75M44.4 221.6h0.75M55.1 221.3h0.75M48.8 213.3h0.75M50.8 218.4h0.75M50.4 215.5h0.75M46.5 214.9h0.75M50.8 215.9h0.75M59.1 216.7h0.75M53.3 216.0h0.75M50.3 214.0h0.75M48.9 211.9h0.75M46.2 219.5h0.75M50.6 215.6h0.75M54.6 215.6h0.75M53.2 216.3h0.75M55.8 221.6h0.75M51.5 222.1h0.75M53.6 223.9h0.75M50.6 211.7h0.75M52.2 218.7h0.75M49.5 217.0h0.75M49.9 212.9h0.75M59.3 214.8h0.75M46.2 211.6h0.75M47.2 217.6h0.75M58.1 220.1h0.75M47.8 212.9h0.75M45.9 217.5h0.75M55.3 215.9h0.75M51.9 209.3h0.75M56.3 217.4h0.75M54.3 221.7h0.75M46.5 218.0h0.75M52.0 214.8h0.75M54.5 217.3h0.75M50.5 221.9h0.75M47.7 218.4h0.75M56.3 209.3h0.75M53.7 216.7h0.75M56.3 218.5h0.75M50.8 212.8h0.75M65.0 214.9h0.75M49.7 215.0h0.75M49.8 218.7h0.75M44.9 221.9h0.75M50.0 220.1h0.75M49.8 216.3h0.75M48.1 219.0h0.75M53.1 213.9h0.75M49.7 222.0h0.75M55.3 217.4h0.75M44.5 216.4h0.75M47.8 222.7h0.75M44.6 215.1h0.75M49.1 219.2h0.75M48.4 220.5h0.75M59.4 218.4h0.75M45.8 217.1h0.75M50.7 216.4h0.75M56.6 222.3h0.75M60.6 219.8h0.75M54.3 214.6h0.75M48.4 221.3h0.75M51.8 213.4h0.75M51.2 213.0h0.75M50.9 213.1h0.75M46.8 215.8h0.75M64.2 213.1h0.75M45.6 215.7h0.75M56.1 220.9h0.75M54.4 216.5h0.75M51.8 214.8h0.75M50.3 214.6h0.75M60.2 219.3h0.75M47.6 217.4h0.75M49.1 222.6h0.75M51.0 215.3h0.75M54.3 219.0h0.75M48.0 214.8h0.75M51.8 211.4h0.75M46.9 221.7h0.75M55.2 222.2h0.75M49.1 215.5h0.75M49.9 215.9h0.75M57.2 216.9h0.75M57.5 215.0h0.75M47.7 215.2h0.75M48.4 211.5h0.75M49.8 215.3h0.75M61.5 215.9h0.75M55.6 217.6h0.75M52.5 220.6h0.75M48.5 217.9h0.75M57.8 218.4h0.75M44.9 221.2h0.75M50.9 222.4h0.75M51.4 218.5h0.75M54.2 214.9h0.75M47.1 221.4h0.75M54.3 221.0h0.75M57.5 212.5h0.75M55.6 209.7h0.75M51.4 219.1h0.75M56.0 222.0h0.75M46.8 216.7h0.75M50.4 215.1h0.75M47.3 215.2h0.75M56.5 223.1h0.75M51.6 213.5h0.75M48.1 218.6h0.75M55.9 222.5h0.75M47.0 221.5h0.75M48.6 220.1h0.75M55.4 223.6h0.75M48.7 218.7h0.75M53.1 216.1h0.75M51.6 220.1h0.75M61.9 219.6h0.75M48.5 210.6h0.75M46.7 219.8h0.75M54.3 219.5h0.75M53.9 215.4h0.75M58.6 213.4h0.75M53.5 216.7h0.75M49.8 220.6h0.75M57.1 218.4h0.75M48.1 216.9h0.75M50.8 223.5h0.75M54.7 214.8h0.75M55.5 221.6h0.75M50.6 219.6h0.75M49.6 212.8h0.75M50.7 220.8h0.75M49.4 209.0h0.75M47.4 222.1h0.75M52.2 222.2h0.75M47.6 216.1h0.75M46.5 214.7h0.75M53.5 218.3h0.75M48.9 219.0h0.75M45.0 216.3h0.75M44.8 213.5h0.75M58.5 223.2h0.75M57.0 215.5h0.75M54.0 213.3h0.75M48.6 218.7h0.75M54.0 209.7h0.75M50.6 218.4h0.75M45.8 220.0h0.75M51.7 214.9h0.75M58.8 218.8h0.75M48.8 216.9h0.75M53.8 218.6h0.75M45.2 214.4h0.75M51.6 219.0h0.75M46.9 216.9h0.75M47.4 220.2h0.75M54.1 215.6h0.75M49.0 213.0h0.75M51.1 221.2h0.75M53.8 223.6h0.75M49.6 214.2h0.75M56.0 221.4h0.75M48.0 222.1h0.75M51.1 217.6h0.75M59.7 219.9h0.75M52.6 216.5h0.75M52.1 222.0h0.75M53.3 214.8h0.75M53.2 217.3h0.75M52.6 217.0h0.75M49.3 209.1h0.75M54.4 216.0h0.75M52.7 208.9h0.75M52.3 221.7h0.75M52.0 212.6h0.75M55.6 215.7h0.75M48.4 218.6h0.75M53.2 212.9h0.75M51.1 218.0h0.75M57.8 222.9h0.75M63.1 215.2h0.75M46.9 219.2h0.75M58.7 213.8h0.75M49.5 214.8h0.75M53.6 219.4h0.75M50.9 220.4h0.75M47.4 216.3h0.75M50.9 218.0h0.75M57.3 218.1h0.75M57.2 218.7h0.75M56.5 218.5h0.75M46.8 214.4h0.75M59.9 216.5h0.75M62.9 213.4h0.75M47.1 221.5h0.75M52.9 220.3h0.75M45.5 219.3h0.75M55.5 217.6h0.75M56.0 217.9h0.75M52.7 216.5h0.75M44.8 217.2h0.75M53.5 214.8h0.75M57.3 216.9h0.75M47.5 222.7h0.75M50.3 211.8h0.75M49.1 214.3h0.75M50.3 214.2h0.75M51.4 219.6h0.75M48.4 217.0h0.75M50.4 221.1h0.75M47.7 220.8h0.75M57.0 217.0h0.75M46.6 216.6h0.75M45.5 217.1h0.75M49.4 219.9h0.75M51.7 219.5h0.75M50.9 218.9h0.75M45.8 220.4h0.75M57.3 222.2h0.75M44.8 219.5h0.75M50.2 216.0h0.75M47.6 216.9h0.75M51.1 214.0h0.75M51.4 218.8h0.75M53.6 217.6h0.75M55.9 219.1h0.75M44.6 220.3h0.75M53.8 207.2h0.75M50.4 219.3h0.75M51.3 218.2h0.75M50.4 223.3h0.75M52.9 216.7h0.75M47.1 215.7h0.75M52.7 218.4h0.75M52.6 223.2h0.75M56.5 219.5h0.75M51.3 217.6h0.75M50.0 221.8h0.75M45.2 213.6h0.75M49.0 214.0h0.75M47.7 222.6h0.75M44.9 216.8h0.75M48.4 213.8h0.75M49.3 222.2h0.75M59.9 216.6h0.75M47.3 216.7h0.75M53.4 221.5h0.75M46.6 219.7h0.75M51.0 222.4h0.75M49.2 217.0h0.75M47.1 212.5h0.75M52.4 220.6h0.75M56.5 218.9h0.75M49.0 214.1h0.75M45.7 214.9h0.75M52.7 218.2h0.75M49.8 213.6h0.75M51.0 219.9h0.75M46.2 212.4h0.75M49.6 218.9h0.75M49.9 224.0h0.75M51.8 213.8h0.75M54.8 215.2h0.75M54.4 218.2h0.75M57.0 213.8h0.75M54.6 219.5h0.75M46.9 220.6h0.75M61.9 219.2h0.75M47.5 217.2h0.75M57.3 218.8h0.75M58.2 215.2h0.75M57.4 211.5h0.75M50.4 216.6h0.75M48.8 222.7h0.75M48.3 219.2h0.75M60.0 221.1h0.75M49.2 214.9h0.75M55.4 222.2h0.75M54.8 208.6h0.75M47.0 221.0h0.75M49.3 221.2h0.75M63.4 214.8h0.75M61.7 217.5h0.75M55.5 215.5h0.75M58.7 214.3h0.75M50.2 221.5h0.75M50.2 215.6h0.75M51.1 220.4h0.75M59.4 223.2h0.75M60.1 217.7h0.75M49.2 213.8h0.75M48.7 217.5h0.75M51.4 221.5h0.75M46.8 222.4h0.75M51.4 220.7h0.75M57.1 212.8h0.75M58.8 214.9h0.75M53.1 222.2h0.75M55.6 211.5h0.75M52.0 222.3h0.75M50.6 217.5h0.75M48.6 214.0h0.75M45.9 215.7h0.75M50.1 219.2h0.75M50.8 210.9h0.75M54.6 212.4h0.75M55.7 208.1h0.75M62.3 220.2h0.75M51.0 216.0h0.75M49.4 216.9h0.75M50.7 214.2h0.75M48.5 220.0h0.75M53.7 212.5h0.75M44.7 213.6h0.75M49.4 213.6h0.75M46.0 215.0h0.75M50.3 221.1h0.75M53.9 210.8h0.75M58.3 216.5h0.75M46.4 217.7h0.75M49.3 212.2h0.75M58.7 215.5h0.75M48.3 220.0h0.75M59.2 219.7h0.75M46.9 219.6h0.75M56.5 219.3h0.75M54.3 215.9h0.75M50.9 211.1h0.75M47.7 213.2h0.75M51.2 223.8h0.75M46.7 217.4h0.75M56.8 214.7h0.75M47.4 222.7h0.75M53.0 219.9h0.75M55.2 214.8h0.75M52.3 215.2h0.75M47.7 218.3h0.75M53.3 212.7h0.75M47.5 220.2h0.75M52.0 220.5h0.75M49.7 214.6h0.75M55.0 220.2h0.75M47.5 220.5h0.75M58.8 216.7h0.75M46.5 218.8h0.75M51.6 220.1h0.75M44.4 218.8h0.75M55.5 220.6h0.75M54.2 222.6h0.75M47.2 222.7h0.75M52.2 213.8h0.75M49.8 218.9h0.75M52.8 223.2h0.75M52.1 215.8h0.75M61.7 216.5h0.75M47.2 221.5h0.75M49.2 214.6h0.75M46.1 222.6h0.75M46.1 218.2h0.75M49.0 217.0h0.75M47.3 218.4h0.75M54.1 222.0h0.75M49.5 213.1h0.75M51.3 218.3h0.75M44.5 215.2h0.75M47.6 220.5h0.75M49.2 220.3h0.75M53.7 210.1h0.75M50.1 222.9h0.75M48.7 218.3h0.75M50.6 212.9h0.75M61.7 217.3h0.75M54.3 216.0h0.75M58.0 222.4h0.75M56.9 221.6h0.75M54.6 223.4h0.75M53.1 218.4h0.75M55.1 214.2h0.75M51.9 215.0h0.75M49.9 214.0h0.75M47.1 218.6h0.75M51.8 221.2h0.75M50.8 220.4h0.75M54.5 215.0h0.75M50.0 215.7h0.75M61.8 215.1h0.75M53.5 214.8h0.75M54.5 212.8h0.75M55.8 218.6h0.75M49.3 213.1h0.75M59.2 215.5h0.75M58.1 208.2h0.75M59.8 217.9h0.75M56.0 220.3h0.75M49.5 218.4h0.75M45.7 212.5h0.75M51.8 220.8h0.75M52.0 212.9h0.75M55.3 218.2h0.75M54.8 216.7h0.75M49.9 222.0h0.75M57.8 213.0h0.75M45.9 221.7h0.75M52.9 218.1h0.75M46.5 221.9h0.75M52.1 218.7h0.75M53.1 215.8h0.75M53.1 218.4h0.75M54.7 219.4h0.75M45.0 215.0h0.75M49.9 222.5h0.75M48.1 222.4h0.75M56.4 221.3h0.75M62.1 217.8h0.75M52.7 222.7h0.75M53.2 221.8h0.75M50.6 223.5h0.75M52.9 210.2h0.75M56.4 217.1h0.75M46.9 216.7h0.75M49.8 222.4h0.75M52.8 217.6h0.75M51.1 214.3h0.75M48.1 216.0h0.75M50.1 213.2h0.75M49.3 221.9h0.75M53.4 217.9h0.75M52.9 216.9h0.75M45.5 221.4h0.75M62.0 219.9h0.75M45.4 220.0h0.75M49.6 216.8h0.75M53.1 211.5h0.75M50.1 215.9h0.75M46.4 220.4h0.75M59.1 219.5h0.75M56.2 220.9h0.75M50.9 220.2h0.75M57.6 216.2h0.75M50.5 212.4h0.75M55.5 219.3h0.75M52.5 223.1h0.75M51.6 220.9h0.75M57.9 214.6h0.75M47.0 219.5h0.75M50.9 215.5h0.75M50.6 215.0h0.75M51.9 216.3h0.75M59.4 213.7h0.75M54.0 218.2h0.75M58.8 214.0h0.75M48.0 216.3h0.75M49.3 214.0h0.75M57.1 223.9h0.75M50.5 214.9h0.75M44.7 220.5h0.75M48.6 220.0h0.75M54.2 219.5h0.75M51.8 217.8h0.75M49.6 216.1h0.75M51.9 219.9h0.75M55.7 217.0h0.75M57.1 214.2h0.75M60.4 221.7h0.75M45.4 217.4h0.75M53.5 222.0h0.75M51.6 212.7h0.75M57.1 217.2h0.75M53.3 216.6h0.75M50.7 212.4h0.75M54.4 215.4h0.75M51.0 221.7h0.75M55.2 213.0h0.75M50.4 217.8h0.75M51.6 213.7h0.75M51.6 221.7h0.75M57.2 223.6h0.75M54.9 207.9h0.75M49.9 215.7h0.75M55.6 217.8h0.75M52.9 219.8h0.75M50.2 223.3h0.75M60.0 221.1h0.75M48.5 218.8h0.75M55.9 220.7h0.75M47.9 221.6h0.75M54.7 220.2h0.75M49.2 217.7h0.75M49.1 216.7h0.75M49.8 216.6h0.75M51.6 218.2h0.75M48.3 217.3h0.75M50.8 219.8h0.75M53.3 216.4h0.75M47.2 211.4h0.75M45.2 219.5h0.75M50.4 216.3h0.75M50.4 215.7h0.75M48.2 218.1h0.75M50.8 214.3h0.75M56.1 219.3h0.75M56.4 215.2h0.75M45.2 213.2h0.75M58.7 216.0h0.75M52.1 215.7h0.75M51.8 214.3h0.75M54.5 223.0h0.75M55.5 220.8h0.75M50.4 221.8h0.75M47.3 213.1h0.75M49.9 216.8h0.75M57.1 213.9h0.75M56.7 214.8h0.75M45.1 211.1h0.75M51.0 212.1h0.75M52.2 218.0h0.75M49.3 210.2h0.75M48.7 219.6h0.75M51.3 215.7h0.75M52.2 220.4h0.75M51.1 214.8h0.75M55.0 215.1h0.75M52.9 221.7h0.75M56.1 218.4h0.75M50.2 218.6h0.75M54.4 214.6h0.75M58.5 211.5h0.75M56.0 212.8h0.75M46.0 215.8h0.75M49.8 212.5h0.75M54.2 217.4h0.75M57.7 213.8h0.75M50.1 221.7h0.75M45.3 210.3h0.75M49.0 223.4h0.75M58.8 212.4h0.75M48.3 210.5h0.75" stroke="#000" stroke-width="0.75" fill="none" opacity="0.68"/>
<path d="M46.9 212.4h0.6M54.6 223.8h0.6M66.3 215.7h0.6M56.9 218.8h0.6M53.8 222.3h0.6M55.1 217.1h0.6M47.8 215.4h0.6M52.1 215.6h0.6M50.0 213.8h0.6M57.2 216.3h0.6M51.3 216.4h0.6M59.9 214.7h0.6M60.5 212.9h0.6M61.2 221.0h0.6M49.1 220.1h0.6M58.8 212.4h0.6M50.6 219.3h0.6M50.8 216.0h0.6M52.1 219.3h0.6M51.2 209.7h0.6M49.4 215.8h0.6M58.4 206.6h0.6M48.2 216.9h0.6M56.0 219.8h0.6M57.2 216.8h0.6M62.3 219.7h0.6M52.9 213.0h0.6M64.6 219.8h0.6M55.7 208.9h0.6M51.0 216.5h0.6M61.2 216.6h0.6M45.0 213.1h0.6M56.1 218.3h0.6M52.3 216.7h0.6M52.8 219.6h0.6M49.2 216.1h0.6M53.4 211.7h0.6M54.7 205.7h0.6M55.9 217.0h0.6M50.7 223.2h0.6M50.1 207.4h0.6M54.4 220.2h0.6M47.6 209.8h0.6M53.6 213.8h0.6M51.4 217.6h0.6M47.1 223.6h0.6M53.5 223.4h0.6M50.3 214.0h0.6M48.9 212.8h0.6M54.7 218.4h0.6M45.6 209.2h0.6M46.9 207.7h0.6M46.7 209.4h0.6M56.2 211.3h0.6M48.5 217.0h0.6M52.2 219.9h0.6M56.6 221.1h0.6M54.2 213.8h0.6M61.0 211.2h0.6M52.7 219.5h0.6M52.8 221.3h0.6M53.4 217.7h0.6M56.2 207.3h0.6M53.5 216.0h0.6M63.7 219.2h0.6M48.1 221.2h0.6M49.7 211.2h0.6M50.4 220.4h0.6M59.1 223.3h0.6M53.4 216.7h0.6M51.3 223.9h0.6M47.3 217.6h0.6M56.6 221.4h0.6M53.2 214.8h0.6M47.0 215.4h0.6M61.4 213.4h0.6M57.1 217.5h0.6M45.5 218.2h0.6M56.5 211.2h0.6M45.1 215.5h0.6M56.3 214.3h0.6M54.5 220.1h0.6M52.1 220.1h0.6M59.6 216.6h0.6M54.0 211.8h0.6M47.8 217.1h0.6M56.8 214.0h0.6M45.7 218.3h0.6M54.9 212.5h0.6M54.0 223.6h0.6M50.4 221.6h0.6M52.8 212.6h0.6M48.4 214.3h0.6M59.9 223.9h0.6M53.5 209.1h0.6M49.1 215.4h0.6M53.7 210.4h0.6M49.5 215.1h0.6M62.9 221.2h0.6M56.6 218.1h0.6M44.5 222.6h0.6M48.1 207.2h0.6M56.3 215.7h0.6M52.0 220.4h0.6M50.7 219.8h0.6M59.6 215.9h0.6M49.9 217.7h0.6M55.8 215.4h0.6M52.5 213.9h0.6M51.6 220.6h0.6M47.2 216.6h0.6M52.5 220.5h0.6M46.0 217.1h0.6M46.6 219.3h0.6M53.6 220.0h0.6M50.8 209.9h0.6M48.7 210.3h0.6M48.0 217.3h0.6M58.3 214.1h0.6M47.5 218.7h0.6" stroke="#333" stroke-width="0.6" fill="none" opacity="0.6"/>
<path d="M57.0 194.7h0.6M51.5 194.3h0.6M50.3 194.7h0.6M48.7 191.6h0.6M53.9 192.2h0.6M55.4 191.5h0.6M53.4 191.3h0.6M51.5 196.8h0.6M46.6 190.8h0.6M60.2 192.2h0.6M56.7 192.7h0.6M48.8 196.6h0.6M57.5 189.7h0.6M47.1 193.7h0.6M55.3 192.6h0.6M53.6 194.0h0.6M50.2 194.8h0.6M47.7 194.3h0.6M56.6 193.4h0.6M50.3 193.0h0.6M44.8 189.4h0.6M55.9 191.4h0.6M53.8 193.1h0.6M50.6 193.8h0.6M52.4 190.8h0.6M49.3 193.2h0.6M45.6 192.2h0.6M49.2 189.2h0.6M60.7 194.6h0.6M49.7 194.7h0.6M46.7 195.7h0.6M50.1 193.3h0.6M49.1 193.2h0.6M53.7 193.1h0.6M47.8 194.3h0.6M54.8 193.0h0.6M57.3 191.7h0.6M58.5 192.7h0.6M59.6 192.2h0.6M50.7 193.4h0.6M57.5 195.6h0.6M49.7 191.7h0.6M55.9 195.2h0.6M55.6 192.4h0.6M58.4 193.0h0.6M52.9 194.1h0.6M49.1 189.0h0.6M53.1 194.3h0.6M54.2 194.0h0.6M52.8 194.8h0.6M52.6 195.6h0.6M52.3 194.4h0.6M49.2 193.5h0.6M54.1 193.2h0.6M59.8 193.1h0.6M57.7 193.6h0.6M57.5 191.4h0.6M50.2 194.7h0.6M47.9 193.7h0.6M54.9 193.3h0.6M54.2 194.0h0.6M50.8 193.7h0.6M49.4 192.2h0.6M53.1 191.1h0.6M52.4 193.5h0.6M50.3 191.4h0.6M51.4 193.7h0.6M56.7 196.4h0.6M54.2 191.9h0.6M53.6 196.7h0.6M52.6 195.4h0.6M57.4 192.2h0.6M59.8 189.9h0.6M51.0 191.8h0.6M53.0 193.1h0.6M57.8 192.0h0.6M61.7 190.0h0.6M53.1 197.8h0.6M51.5 194.1h0.6M49.6 198.9h0.6" stroke="#333" stroke-width="0.6" fill="none" opacity="0.55"/>
<path d="M78.3 216.8h0.6M64.7 218.9h0.6M77.6 210.5h0.6M71.6 220.2h0.6M66.3 213.1h0.6M76.0 222.4h0.6M79.6 215.6h0.6M76.5 211.5h0.6M66.8 220.1h0.6M72.1 214.3h0.6M65.0 217.2h0.6M84.8 210.5h0.6M68.9 222.3h0.6M64.7 215.8h0.6M74.3 222.4h0.6M73.9 217.7h0.6M76.1 219.4h0.6M66.7 214.5h0.6M72.9 219.4h0.6M68.1 215.4h0.6M70.4 219.4h0.6M71.9 220.4h0.6M75.9 214.7h0.6M72.6 213.4h0.6M74.5 221.2h0.6M69.2 211.4h0.6M76.5 217.0h0.6M73.9 219.8h0.6M75.8 221.6h0.6M71.8 209.8h0.6M71.6 216.9h0.6M72.0 219.6h0.6M72.8 223.0h0.6M70.9 218.1h0.6M69.4 214.3h0.6M72.2 221.0h0.6M74.1 217.4h0.6M66.9 210.3h0.6M73.0 217.2h0.6M82.6 219.5h0.6M76.1 221.8h0.6M69.6 213.5h0.6M72.2 223.7h0.6M78.8 215.9h0.6M68.0 221.6h0.6M79.3 214.0h0.6M81.8 215.2h0.6M77.7 217.3h0.6M72.4 215.8h0.6M77.4 220.4h0.6M77.9 217.0h0.6M82.4 217.4h0.6M68.4 223.8h0.6M74.7 218.3h0.6M78.2 219.4h0.6M64.8 220.5h0.6M69.2 218.4h0.6M73.2 219.1h0.6M85.4 216.5h0.6M78.4 220.5h0.6M75.5 216.2h0.6M77.1 219.1h0.6M81.1 221.2h0.6M81.4 219.9h0.6M74.8 215.8h0.6M86.3 223.2h0.6M74.5 216.7h0.6M76.8 223.2h0.6M76.6 221.7h0.6M75.3 219.4h0.6M67.8 218.6h0.6M74.3 217.8h0.6M72.8 219.3h0.6M71.2 217.4h0.6M69.6 213.5h0.6M71.4 216.5h0.6M68.7 208.9h0.6M82.1 222.0h0.6M72.1 220.2h0.6M68.5 212.0h0.6M75.7 220.3h0.6M70.6 218.1h0.6M79.2 218.7h0.6M74.9 220.3h0.6M67.7 219.0h0.6M70.9 211.0h0.6M78.4 217.4h0.6M65.8 213.3h0.6M79.3 223.4h0.6M76.0 219.5h0.6M77.4 220.6h0.6M67.7 220.9h0.6M78.9 216.6h0.6M69.5 216.2h0.6M71.1 220.1h0.6M77.8 218.2h0.6M72.5 211.4h0.6M71.9 214.3h0.6M71.3 219.4h0.6M69.7 216.1h0.6M68.3 217.1h0.6M72.6 221.9h0.6M77.2 216.1h0.6M70.6 218.8h0.6M76.6 217.5h0.6M73.2 218.2h0.6M68.6 219.1h0.6M76.9 218.3h0.6M68.3 218.1h0.6M73.5 219.3h0.6M71.9 221.2h0.6M79.4 221.2h0.6M75.2 222.7h0.6M73.8 217.5h0.6M66.9 218.2h0.6M80.0 214.5h0.6M77.9 213.3h0.6M74.2 213.7h0.6M75.4 217.6h0.6M77.9 216.1h0.6" stroke="#333" stroke-width="0.6" fill="none" opacity="0.6"/>
<path d="M77.4 216.7h0.7M79.5 222.7h0.7M79.2 218.7h0.7M79.6 217.8h0.7M78.6 219.5h0.7M80.0 216.6h0.7M79.4 216.1h0.7M78.3 219.3h0.7M77.8 215.3h0.7M77.9 216.2h0.7M79.5 218.9h0.7M77.8 209.3h0.7M79.4 216.1h0.7M79.9 217.1h0.7M77.8 216.1h0.7M77.6 213.1h0.7M79.6 216.5h0.7M79.6 216.4h0.7M78.8 216.5h0.7M78.5 216.0h0.7M80.3 218.4h0.7M80.1 223.0h0.7M78.9 218.0h0.7M78.6 219.1h0.7M79.4 218.6h0.7M78.3 214.8h0.7M77.9 216.1h0.7M79.0 220.9h0.7M78.9 219.5h0.7M79.3 223.1h0.7M77.8 222.9h0.7M79.4 220.7h0.7M77.6 217.7h0.7M78.8 221.1h0.7M79.6 221.3h0.7M77.8 223.5h0.7M79.1 222.2h0.7M79.0 215.9h0.7M79.7 216.8h0.7M78.8 222.9h0.7M80.1 214.4h0.7M77.6 223.1h0.7M79.5 217.6h0.7M78.7 216.5h0.7M80.6 218.0h0.7M77.8 222.1h0.7M78.9 220.0h0.7M78.6 218.5h0.7M77.3 220.7h0.7M78.4 217.1h0.7M79.3 223.6h0.7M77.1 218.1h0.7M79.5 222.5h0.7M78.2 219.9h0.7M79.3 222.2h0.7M78.4 217.9h0.7M78.5 223.0h0.7M80.0 216.9h0.7M78.9 219.5h0.7M78.2 218.2h0.7M79.8 221.6h0.7M78.4 216.1h0.7M78.9 213.0h0.7M79.3 219.1h0.7M77.8 217.7h0.7M78.4 217.6h0.7M78.1 221.6h0.7M78.9 218.6h0.7M79.0 211.4h0.7M78.7 214.3h0.7M78.3 220.3h0.7M79.9 222.3h0.7M78.6 212.0h0.7M79.4 220.8h0.7M78.7 217.0h0.7M80.6 212.6h0.7M78.5 216.3h0.7M77.6 216.0h0.7M78.3 223.4h0.7M77.4 213.4h0.7M79.2 212.7h0.7M77.2 216.3h0.7M77.9 214.9h0.7M78.8 220.4h0.7M78.4 217.6h0.7M79.6 218.1h0.7M79.6 216.4h0.7M79.4 223.5h0.7M78.7 217.4h0.7M78.8 220.4h0.7M77.9 218.8h0.7M77.4 221.1h0.7M78.7 215.8h0.7M79.1 217.7h0.7M79.0 219.6h0.7M80.1 217.1h0.7M80.6 223.3h0.7M80.4 219.4h0.7M79.2 214.8h0.7M80.2 214.3h0.7M78.3 218.6h0.7M79.2 219.9h0.7M77.9 217.3h0.7M79.4 223.1h0.7M79.7 220.2h0.7M78.7 216.6h0.7M78.5 218.3h0.7M79.5 216.7h0.7M80.8 214.9h0.7M79.7 217.9h0.7M78.9 217.2h0.7M80.4 217.5h0.7M79.5 219.1h0.7M79.7 220.9h0.7M80.5 215.9h0.7M80.1 218.9h0.7M78.7 219.6h0.7M80.2 215.8h0.7M80.3 218.4h0.7M78.7 217.2h0.7M77.1 219.9h0.7M77.8 216.5h0.7M78.2 219.5h0.7M79.6 218.8h0.7M79.2 220.2h0.7M80.4 220.8h0.7M80.4 218.4h0.7M79.3 216.2h0.7M79.5 215.4h0.7M79.4 216.3h0.7" stroke="#111" stroke-width="0.7" fill="none" opacity="0.75"/>
<path d="M125.4 216.6h0.6M128.9 214.0h0.6M138.1 208.0h0.6M123.3 214.9h0.6M120.0 204.5h0.6M135.9 204.8h0.6M135.7 207.2h0.6M126.4 209.5h0.6M124.4 215.7h0.6M135.5 209.5h0.6M132.1 212.4h0.6M135.0 214.7h0.6M125.7 209.2h0.6M125.5 216.7h0.6M119.9 212.8h0.6M136.8 212.6h0.6M124.5 206.3h0.6M135.5 203.3h0.6M116.4 207.6h0.6M117.5 211.9h0.6M121.8 214.9h0.6M122.5 205.1h0.6M122.0 216.7h0.6M120.9 211.3h0.6M123.8 212.7h0.6M131.4 217.9h0.6M118.2 207.2h0.6M124.3 203.4h0.6M134.6 209.4h0.6M118.2 207.8h0.6M137.2 204.8h0.6M124.3 204.0h0.6M129.0 205.7h0.6M134.1 204.0h0.6M117.7 211.9h0.6M129.8 210.6h0.6M123.9 206.4h0.6M122.3 208.0h0.6M124.7 212.5h0.6M128.0 212.5h0.6M139.3 207.4h0.6M125.9 211.4h0.6M142.5 206.9h0.6M139.7 216.4h0.6M121.0 211.5h0.6M137.2 209.4h0.6M129.0 222.4h0.6M130.4 222.3h0.6M121.6 219.2h0.6M122.1 206.2h0.6M127.6 213.7h0.6M132.7 212.3h0.6M122.7 220.0h0.6M136.3 209.3h0.6M123.9 208.8h0.6M126.3 204.8h0.6M127.8 205.0h0.6M132.4 205.1h0.6M131.3 211.1h0.6M129.1 212.3h0.6M123.1 213.6h0.6M128.1 206.5h0.6M140.1 215.9h0.6M126.0 212.6h0.6M132.7 218.8h0.6M135.0 208.1h0.6M126.1 202.0h0.6M129.7 214.4h0.6M125.2 213.2h0.6M128.8 206.3h0.6M119.4 215.9h0.6M145.6 212.5h0.6M120.4 202.8h0.6M129.7 213.1h0.6M140.8 210.1h0.6M128.9 211.5h0.6M125.4 207.3h0.6M127.1 212.5h0.6M116.4 208.1h0.6M138.6 211.4h0.6M132.9 213.4h0.6M129.5 211.3h0.6M122.2 207.8h0.6M140.8 201.5h0.6M126.8 201.3h0.6M124.2 204.3h0.6M119.3 210.6h0.6M121.3 212.4h0.6M127.1 211.4h0.6M129.4 216.5h0.6M138.5 203.3h0.6M127.3 211.1h0.6M121.8 209.6h0.6M116.3 206.3h0.6M126.8 201.2h0.6M132.0 208.7h0.6M126.4 212.1h0.6M115.7 202.6h0.6M134.7 221.4h0.6M132.6 208.6h0.6M120.4 206.6h0.6M126.2 211.8h0.6M119.8 209.1h0.6M134.8 211.6h0.6M137.4 212.7h0.6M145.9 214.0h0.6M131.2 218.5h0.6M124.8 205.7h0.6M120.9 210.6h0.6M131.0 214.9h0.6M138.1 213.0h0.6M136.6 207.5h0.6M121.2 213.6h0.6M135.1 217.4h0.6M126.8 206.2h0.6M125.4 211.3h0.6M127.6 207.9h0.6M129.8 207.3h0.6M130.3 205.4h0.6M117.1 207.1h0.6" stroke="#444" stroke-width="0.6" fill="none" opacity="0.4"/>
<path d="M148.6 203.1h0.6M144.7 208.2h0.6M138.8 205.6h0.6M147.2 205.5h0.6M138.0 205.3h0.6M142.1 204.0h0.6M139.7 203.1h0.6M143.3 205.5h0.6M142.4 203.8h0.6M143.0 204.3h0.6M142.2 204.6h0.6M138.3 202.4h0.6M140.2 202.2h0.6M146.0 202.2h0.6M140.6 203.5h0.6M142.2 205.5h0.6M143.3 206.0h0.6M139.7 202.7h0.6M143.1 204.5h0.6M141.6 207.7h0.6M140.6 209.1h0.6M138.7 207.9h0.6M139.0 207.9h0.6M138.7 204.7h0.6M141.3 203.9h0.6M141.7 209.1h0.6M144.8 203.9h0.6M141.7 207.8h0.6M139.8 207.3h0.6M141.7 202.8h0.6M145.7 205.4h0.6M144.9 202.3h0.6M144.4 202.1h0.6M142.1 205.0h0.6M138.6 205.8h0.6M141.1 202.9h0.6M146.5 205.4h0.6M139.5 206.7h0.6M137.5 202.2h0.6M142.4 208.8h0.6" stroke="#444" stroke-width="0.6" fill="none" opacity="0.4"/>
<ellipse cx="144.2" cy="197" rx="6.2" ry="2.6" fill="#000"/>
<ellipse cx="147" cy="196.2" rx="3.6" ry="2.7" fill="#000"/>
<path d="M145.2 197.6h0.7M151.0 194.5h0.7M143.7 194.8h0.7M139.1 196.9h0.7M141.5 197.8h0.7M139.9 196.8h0.7M147.3 193.3h0.7M142.8 196.8h0.7M141.9 197.1h0.7M136.8 196.5h0.7M141.9 195.4h0.7M149.1 201.0h0.7M147.2 195.7h0.7M149.7 198.2h0.7M140.7 198.4h0.7M141.7 198.4h0.7M147.7 199.4h0.7M139.8 197.1h0.7M144.0 195.1h0.7M145.7 198.6h0.7M138.5 196.3h0.7M139.6 195.0h0.7M139.7 199.8h0.7M141.3 196.6h0.7M148.0 199.2h0.7M149.6 193.5h0.7M147.0 194.1h0.7M141.5 196.5h0.7M141.7 200.9h0.7M143.3 199.5h0.7M143.3 197.2h0.7M146.0 198.1h0.7M146.0 194.1h0.7M146.0 197.9h0.7M146.4 197.2h0.7M145.6 194.9h0.7M148.5 195.1h0.7M149.6 199.2h0.7M143.7 196.8h0.7M147.1 196.7h0.7M139.2 197.8h0.7M139.1 196.5h0.7M151.2 198.8h0.7M142.2 197.2h0.7M141.4 197.3h0.7M138.2 198.6h0.7M144.1 196.2h0.7M142.2 196.4h0.7M141.7 196.4h0.7M149.2 198.6h0.7M145.7 198.0h0.7M150.0 198.6h0.7M144.9 197.8h0.7M144.8 197.3h0.7M143.0 193.2h0.7M146.3 197.4h0.7M147.9 197.9h0.7M142.9 198.4h0.7M144.8 196.5h0.7M142.5 196.5h0.7M142.8 196.5h0.7M143.5 199.4h0.7M142.1 197.0h0.7M141.0 194.8h0.7M140.6 196.4h0.7M144.6 196.7h0.7M139.2 196.6h0.7M150.1 195.7h0.7M144.3 199.2h0.7M140.8 196.2h0.7M141.9 197.6h0.7M144.4 197.6h0.7M145.9 196.7h0.7M144.6 194.8h0.7M142.7 200.1h0.7M145.0 196.1h0.7M144.6 199.2h0.7M137.2 195.0h0.7M141.3 196.5h0.7M143.6 196.2h0.7M144.4 197.5h0.7M139.3 196.1h0.7M139.0 197.8h0.7M145.0 198.5h0.7M140.5 196.3h0.7M137.5 197.9h0.7M148.3 198.1h0.7M146.5 197.7h0.7M145.5 199.0h0.7M149.0 201.0h0.7" stroke="#111" stroke-width="0.7" fill="none" opacity="0.7"/>
<text x="204.2" y="13.8" font-size="16.8" text-anchor="start" font-weight="bold" fill="#000" >B</text>
<line x1="236" y1="149.6" x2="520" y2="149.6" stroke="#8a8a8a" stroke-width="0.7" />
<line x1="236" y1="117.6" x2="520" y2="117.6" stroke="#8a8a8a" stroke-width="0.7" />
<line x1="236" y1="85.6" x2="520" y2="85.6" stroke="#8a8a8a" stroke-width="0.7" />
<line x1="236" y1="53.599999999999994" x2="520" y2="53.599999999999994" stroke="#8a8a8a" stroke-width="0.7" />
<line x1="236" y1="21.599999999999994" x2="520" y2="21.599999999999994" stroke="#8a8a8a" stroke-width="0.7" />
<line x1="236" y1="181.6" x2="520" y2="181.6" stroke="#888" stroke-width="0.7" stroke-dasharray="1.6 0.6"/>
<line x1="236" y1="21.2" x2="236" y2="181.8" stroke="#888" stroke-width="0.7" />
<text x="233.4" y="182.79999999999998" font-size="3.7" text-anchor="end" font-weight="normal" fill="#333" >0%</text>
<line x1="234.6" y1="181.6" x2="236" y2="181.6" stroke="#777" stroke-width="0.6" />
<text x="233.4" y="150.79999999999998" font-size="3.7" text-anchor="end" font-weight="normal" fill="#333" >20%</text>
<line x1="234.6" y1="149.6" x2="236" y2="149.6" stroke="#777" stroke-width="0.6" />
<text x="233.4" y="118.8" font-size="3.7" text-anchor="end" font-weight="normal" fill="#333" >40%</text>
<line x1="234.6" y1="117.6" x2="236" y2="117.6" stroke="#777" stroke-width="0.6" />
<text x="233.4" y="86.8" font-size="3.7" text-anchor="end" font-weight="normal" fill="#333" >60%</text>
<line x1="234.6" y1="85.6" x2="236" y2="85.6" stroke="#777" stroke-width="0.6" />
<text x="233.4" y="54.8" font-size="3.7" text-anchor="end" font-weight="normal" fill="#333" >80%</text>
<line x1="234.6" y1="53.599999999999994" x2="236" y2="53.599999999999994" stroke="#777" stroke-width="0.6" />
<text x="233.4" y="22.799999999999994" font-size="3.7" text-anchor="end" font-weight="normal" fill="#333" >100%</text>
<line x1="234.6" y1="21.599999999999994" x2="236" y2="21.599999999999994" stroke="#777" stroke-width="0.6" />
<text transform="translate(213.2,98) rotate(-90)" font-size="7.6" text-anchor="middle" fill="#111">CD8m/CD8<tspan font-size="4.8" dy="1.6">T</tspan><tspan dy="-1.6"> (%)</tspan></text>
<line x1="258.8" y1="82" x2="258.8" y2="144" stroke="#555" stroke-width="0.7" />
<line x1="258.1" y1="82" x2="259.5" y2="82" stroke="#555" stroke-width="0.5" />
<line x1="258.1" y1="144" x2="259.5" y2="144" stroke="#555" stroke-width="0.5" />
<rect x="257.1" y="111.1" width="3.8" height="3.8" fill="#fff" stroke="#666" stroke-width="0.65"/>
<path d="M255 50.300000000000004 L257.3 52.6 L255 54.9 L252.7 52.6 Z" fill="#000"/>
<path d="M255 72.7 L257.3 75 L255 77.3 L252.7 75 Z" fill="#000"/>
<path d="M255 100.3 L257.3 102.6 L255 104.89999999999999 L252.7 102.6 Z" fill="#000"/>
<path d="M255 104.7 L257.3 107 L255 109.3 L252.7 107 Z" fill="#000"/>
<path d="M255 113.3 L257.3 115.6 L255 117.89999999999999 L252.7 115.6 Z" fill="#000"/>
<path d="M255 118.10000000000001 L257.3 120.4 L255 122.7 L252.7 120.4 Z" fill="#000"/>
<path d="M255 125.7 L257.3 128 L255 130.3 L252.7 128 Z" fill="#000"/>
<path d="M255 135.29999999999998 L257.3 137.6 L255 139.9 L252.7 137.6 Z" fill="#000"/>
<path d="M255 143.7 L257.3 146 L255 148.3 L252.7 146 Z" fill="#000"/>
<path d="M255 145.7 L257.3 148 L255 150.3 L252.7 148 Z" fill="#000"/>
<line x1="278.0" y1="118" x2="278.0" y2="152" stroke="#555" stroke-width="0.7" />
<line x1="277.3" y1="118" x2="278.7" y2="118" stroke="#555" stroke-width="0.5" />
<line x1="277.3" y1="152" x2="278.7" y2="152" stroke="#555" stroke-width="0.5" />
<circle cx="278.2" cy="134.6" r="2.2" fill="#fff" stroke="#777" stroke-width="0.6"/>
<ellipse cx="274" cy="125" rx="2.5" ry="2.05" fill="#000"/>
<ellipse cx="274" cy="127" rx="2.5" ry="2.05" fill="#000"/>
<ellipse cx="274" cy="133" rx="2.5" ry="2.05" fill="#000"/>
<ellipse cx="274" cy="135" rx="2.5" ry="2.05" fill="#000"/>
<ellipse cx="274" cy="137" rx="2.5" ry="2.05" fill="#000"/>
<ellipse cx="274" cy="139" rx="2.5" ry="2.05" fill="#000"/>
<ellipse cx="274" cy="145" rx="2.5" ry="2.05" fill="#000"/>
<ellipse cx="274" cy="148" rx="2.5" ry="2.05" fill="#000"/>
<ellipse cx="274" cy="151" rx="2.5" ry="2.05" fill="#000"/>
<ellipse cx="274" cy="152.6" rx="2.5" ry="2.05" fill="#000"/>
<ellipse cx="273.8" cy="90.6" rx="2.5" ry="2.05" fill="#000"/>
<ellipse cx="274.4" cy="90.6" rx="2.5" ry="2.05" fill="#000"/>
<line x1="296.8" y1="125.6" x2="296.8" y2="157" stroke="#555" stroke-width="0.7" />
<line x1="296.1" y1="125.6" x2="297.5" y2="125.6" stroke="#555" stroke-width="0.5" />
<line x1="296.1" y1="157" x2="297.5" y2="157" stroke="#555" stroke-width="0.5" />
<rect x="295.1" y="139.5" width="3.8" height="3.8" fill="#fff" stroke="#666" stroke-width="0.65"/>
<path d="M293 107.6 L295.0 109.6 L293 111.6 L291.0 109.6 Z" fill="#fff" stroke="#777" stroke-width="0.65"/>
<path d="M293 125.6 L295.0 127.6 L293 129.6 L291.0 127.6 Z" fill="#fff" stroke="#777" stroke-width="0.65"/>
<path d="M293 136.0 L295.0 138 L293 140.0 L291.0 138 Z" fill="#fff" stroke="#777" stroke-width="0.65"/>
<path d="M293 139.0 L295.0 141 L293 143.0 L291.0 141 Z" fill="#fff" stroke="#777" stroke-width="0.65"/>
<path d="M293 143.0 L295.0 145 L293 147.0 L291.0 145 Z" fill="#fff" stroke="#777" stroke-width="0.65"/>
<path d="M293 151.6 L295.0 153.6 L293 155.6 L291.0 153.6 Z" fill="#fff" stroke="#777" stroke-width="0.65"/>
<path d="M293 159.8 L295.0 161.8 L293 163.8 L291.0 161.8 Z" fill="#fff" stroke="#777" stroke-width="0.65"/>
<line x1="315.8" y1="145" x2="315.8" y2="160" stroke="#555" stroke-width="0.7" />
<line x1="315.1" y1="145" x2="316.5" y2="145" stroke="#555" stroke-width="0.5" />
<line x1="315.1" y1="160" x2="316.5" y2="160" stroke="#555" stroke-width="0.5" />
<rect x="314.1" y="150.1" width="3.8" height="3.8" fill="#fff" stroke="#666" stroke-width="0.65"/>
<circle cx="311.4" cy="137.6" r="1.85" fill="#fff" stroke="#666" stroke-width="0.7"/>
<circle cx="311.4" cy="142" r="1.85" fill="#fff" stroke="#666" stroke-width="0.7"/>
<circle cx="311.4" cy="152" r="1.85" fill="#fff" stroke="#666" stroke-width="0.7"/>
<circle cx="311.4" cy="154" r="1.85" fill="#fff" stroke="#666" stroke-width="0.7"/>
<circle cx="311.4" cy="158" r="1.85" fill="#fff" stroke="#666" stroke-width="0.7"/>
<circle cx="311.4" cy="159.6" r="1.85" fill="#fff" stroke="#666" stroke-width="0.7"/>
<line x1="353.4" y1="66" x2="353.4" y2="124" stroke="#555" stroke-width="0.7" />
<line x1="352.6" y1="124" x2="354.2" y2="124" stroke="#555" stroke-width="0.5" />
<rect x="351.5" y="85.1" width="3.8" height="3.8" fill="#fff" stroke="#666" stroke-width="0.65"/>
<rect x="343.7" y="27.7" width="9.7" height="38.3" fill="none" stroke="#000" stroke-width="1.1"/>
<path d="M349.6 28.7 L351.90000000000003 31 L349.6 33.3 L347.3 31 Z" fill="#000"/>
<path d="M349.6 45.1 L351.90000000000003 47.4 L349.6 49.699999999999996 L347.3 47.4 Z" fill="#000"/>
<path d="M349.6 51.300000000000004 L351.90000000000003 53.6 L349.6 55.9 L347.3 53.6 Z" fill="#000"/>
<path d="M349.6 53.7 L351.90000000000003 56 L349.6 58.3 L347.3 56 Z" fill="#000"/>
<path d="M349.6 97.7 L351.90000000000003 100 L349.6 102.3 L347.3 100 Z" fill="#000"/>
<path d="M349.6 100.10000000000001 L351.90000000000003 102.4 L349.6 104.7 L347.3 102.4 Z" fill="#000"/>
<path d="M349.6 106.7 L351.90000000000003 109 L349.6 111.3 L347.3 109 Z" fill="#000"/>
<path d="M349.6 111.7 L351.90000000000003 114 L349.6 116.3 L347.3 114 Z" fill="#000"/>
<path d="M349.6 125.7 L351.90000000000003 128 L349.6 130.3 L347.3 128 Z" fill="#000"/>
<path d="M349.6 128.1 L351.90000000000003 130.4 L349.6 132.70000000000002 L347.3 130.4 Z" fill="#000"/>
<line x1="372.8" y1="102.4" x2="372.8" y2="134" stroke="#555" stroke-width="0.7" />
<line x1="372.1" y1="102.4" x2="373.5" y2="102.4" stroke="#555" stroke-width="0.5" />
<line x1="372.1" y1="134" x2="373.5" y2="134" stroke="#555" stroke-width="0.5" />
<rect x="371.1" y="116.1" width="3.8" height="3.8" fill="#fff" stroke="#666" stroke-width="0.65"/>
<ellipse cx="368.6" cy="85" rx="2.5" ry="2.05" fill="#000"/>
<ellipse cx="368.6" cy="92.5" rx="2.5" ry="2.05" fill="#000"/>
<ellipse cx="368.6" cy="108" rx="2.5" ry="2.05" fill="#000"/>
<ellipse cx="368.6" cy="111" rx="2.5" ry="2.05" fill="#000"/>
<ellipse cx="368.6" cy="113.6" rx="2.5" ry="2.05" fill="#000"/>
<ellipse cx="368.6" cy="118" rx="2.5" ry="2.05" fill="#000"/>
<ellipse cx="368.6" cy="120" rx="2.5" ry="2.05" fill="#000"/>
<ellipse cx="368.6" cy="125" rx="2.5" ry="2.05" fill="#000"/>
<ellipse cx="368.6" cy="127" rx="2.5" ry="2.05" fill="#000"/>
<ellipse cx="368.6" cy="129" rx="2.5" ry="2.05" fill="#000"/>
<ellipse cx="368.6" cy="131.6" rx="2.5" ry="2.05" fill="#000"/>
<ellipse cx="368.6" cy="140.6" rx="2.5" ry="2.05" fill="#000"/>
<line x1="391.2" y1="131.6" x2="391.2" y2="147.6" stroke="#555" stroke-width="0.7" />
<line x1="390.5" y1="131.6" x2="391.9" y2="131.6" stroke="#555" stroke-width="0.5" />
<line x1="390.5" y1="147.6" x2="391.9" y2="147.6" stroke="#555" stroke-width="0.5" />
<rect x="389.5" y="137.1" width="3.8" height="3.8" fill="#fff" stroke="#666" stroke-width="0.65"/>
<path d="M387.4 127.0 L389.4 129 L387.4 131.0 L385.4 129 Z" fill="#fff" stroke="#777" stroke-width="0.65"/>
<path d="M387.4 130.0 L389.4 132 L387.4 134.0 L385.4 132 Z" fill="#fff" stroke="#777" stroke-width="0.65"/>
<path d="M387.4 133.0 L389.4 135 L387.4 137.0 L385.4 135 Z" fill="#fff" stroke="#777" stroke-width="0.65"/>
<path d="M387.4 136.0 L389.4 138 L387.4 140.0 L385.4 138 Z" fill="#fff" stroke="#777" stroke-width="0.65"/>
<path d="M387.4 143.0 L389.4 145 L387.4 147.0 L385.4 145 Z" fill="#fff" stroke="#777" stroke-width="0.65"/>
<path d="M387.4 147.0 L389.4 149 L387.4 151.0 L385.4 149 Z" fill="#fff" stroke="#777" stroke-width="0.65"/>
<line x1="410.2" y1="146" x2="410.2" y2="158" stroke="#555" stroke-width="0.7" />
<line x1="409.5" y1="146" x2="410.9" y2="146" stroke="#555" stroke-width="0.5" />
<line x1="409.5" y1="158" x2="410.9" y2="158" stroke="#555" stroke-width="0.5" />
<rect x="408.5" y="149.7" width="3.8" height="3.8" fill="#fff" stroke="#666" stroke-width="0.65"/>
<circle cx="406.6" cy="141.6" r="1.85" fill="#fff" stroke="#666" stroke-width="0.7"/>
<circle cx="406.6" cy="145" r="1.85" fill="#fff" stroke="#666" stroke-width="0.7"/>
<circle cx="406.6" cy="153.6" r="1.85" fill="#fff" stroke="#666" stroke-width="0.7"/>
<circle cx="406.6" cy="155.2" r="1.85" fill="#fff" stroke="#666" stroke-width="0.7"/>
<circle cx="406.6" cy="157.6" r="1.85" fill="#fff" stroke="#666" stroke-width="0.7"/>
<line x1="447.8" y1="26" x2="447.8" y2="55.6" stroke="#555" stroke-width="0.7" />
<line x1="447.1" y1="26" x2="448.5" y2="26" stroke="#555" stroke-width="0.5" />
<line x1="447.1" y1="55.6" x2="448.5" y2="55.6" stroke="#555" stroke-width="0.5" />
<rect x="446.1" y="39.1" width="3.8" height="3.8" fill="#fff" stroke="#666" stroke-width="0.65"/>
<path d="M444 23.3 L446.3 25.6 L444 27.900000000000002 L441.7 25.6 Z" fill="#000"/>
<path d="M444 25.7 L446.3 28 L444 30.3 L441.7 28 Z" fill="#000"/>
<path d="M444 33.7 L446.3 36 L444 38.3 L441.7 36 Z" fill="#000"/>
<path d="M444 39.300000000000004 L446.3 41.6 L444 43.9 L441.7 41.6 Z" fill="#000"/>
<path d="M444 46.300000000000004 L446.3 48.6 L444 50.9 L441.7 48.6 Z" fill="#000"/>
<path d="M444 47.5 L446.3 49.8 L444 52.099999999999994 L441.7 49.8 Z" fill="#000"/>
<path d="M444 57.7 L446.3 60 L444 62.3 L441.7 60 Z" fill="#000"/>
<path d="M444 64.3 L446.3 66.6 L444 68.89999999999999 L441.7 66.6 Z" fill="#000"/>
<ellipse cx="444" cy="26.6" rx="2.5" ry="2.05" fill="#000"/>
<ellipse cx="444" cy="49.2" rx="2.5" ry="2.05" fill="#000"/>
<line x1="466.8" y1="69" x2="466.8" y2="89" stroke="#555" stroke-width="0.7" />
<line x1="466.1" y1="69" x2="467.5" y2="69" stroke="#555" stroke-width="0.5" />
<line x1="466.1" y1="89" x2="467.5" y2="89" stroke="#555" stroke-width="0.5" />
<rect x="465.1" y="77.5" width="3.8" height="3.8" fill="#fff" stroke="#666" stroke-width="0.65"/>
<ellipse cx="463" cy="63" rx="2.5" ry="2.05" fill="#000"/>
<ellipse cx="463" cy="65" rx="2.5" ry="2.05" fill="#000"/>
<ellipse cx="463" cy="73" rx="2.5" ry="2.05" fill="#000"/>
<ellipse cx="463" cy="75" rx="2.5" ry="2.05" fill="#000"/>
<ellipse cx="463" cy="77" rx="2.5" ry="2.05" fill="#000"/>
<ellipse cx="463" cy="79" rx="2.5" ry="2.05" fill="#000"/>
<ellipse cx="463" cy="82" rx="2.5" ry="2.05" fill="#000"/>
<ellipse cx="463" cy="85" rx="2.5" ry="2.05" fill="#000"/>
<ellipse cx="463" cy="87" rx="2.5" ry="2.05" fill="#000"/>
<ellipse cx="463" cy="92" rx="2.5" ry="2.05" fill="#000"/>
<ellipse cx="463" cy="94" rx="2.5" ry="2.05" fill="#000"/>
<line x1="485.40000000000003" y1="89.6" x2="485.40000000000003" y2="136.6" stroke="#555" stroke-width="0.7" />
<line x1="484.70000000000005" y1="89.6" x2="486.1" y2="89.6" stroke="#555" stroke-width="0.5" />
<line x1="484.70000000000005" y1="136.6" x2="486.1" y2="136.6" stroke="#555" stroke-width="0.5" />
<rect x="483.70000000000005" y="111.1" width="3.8" height="3.8" fill="#fff" stroke="#666" stroke-width="0.65"/>
<path d="M482 65.4 L484.0 67.4 L482 69.4 L480.0 67.4 Z" fill="#fff" stroke="#777" stroke-width="0.65"/>
<path d="M482 100.6 L484.0 102.6 L482 104.6 L480.0 102.6 Z" fill="#fff" stroke="#777" stroke-width="0.65"/>
<path d="M482 105.6 L484.0 107.6 L482 109.6 L480.0 107.6 Z" fill="#fff" stroke="#777" stroke-width="0.65"/>
<path d="M482 111.0 L484.0 113 L482 115.0 L480.0 113 Z" fill="#fff" stroke="#777" stroke-width="0.65"/>
<path d="M482 128.0 L484.0 130 L482 132.0 L480.0 130 Z" fill="#fff" stroke="#777" stroke-width="0.65"/>
<path d="M482 132.4 L484.0 134.4 L482 136.4 L480.0 134.4 Z" fill="#fff" stroke="#777" stroke-width="0.65"/>
<path d="M482 145.6 L484.0 147.6 L482 149.6 L480.0 147.6 Z" fill="#fff" stroke="#777" stroke-width="0.65"/>
<line x1="504.8" y1="133" x2="504.8" y2="145" stroke="#555" stroke-width="0.7" />
<line x1="504.1" y1="133" x2="505.5" y2="133" stroke="#555" stroke-width="0.5" />
<line x1="504.1" y1="145" x2="505.5" y2="145" stroke="#555" stroke-width="0.5" />
<rect x="503.1" y="137.5" width="3.8" height="3.8" fill="#fff" stroke="#666" stroke-width="0.65"/>
<circle cx="501" cy="125.6" r="1.85" fill="#fff" stroke="#666" stroke-width="0.7"/>
<circle cx="501" cy="134.6" r="1.85" fill="#fff" stroke="#666" stroke-width="0.7"/>
<circle cx="501" cy="138.4" r="1.85" fill="#fff" stroke="#666" stroke-width="0.7"/>
<circle cx="501" cy="141" r="1.85" fill="#fff" stroke="#666" stroke-width="0.7"/>
<circle cx="501" cy="143" r="1.85" fill="#fff" stroke="#666" stroke-width="0.7"/>
<circle cx="501" cy="147" r="1.85" fill="#fff" stroke="#666" stroke-width="0.7"/>
<path d="M249.6 158 Q249.6 165.2 254.39999999999998 165.2 H275.2 Q280 165.2 280 158" fill="none" stroke="#000" stroke-width="1.25"/>
<path d="M249.6 165.2 Q249.6 172.2 254.39999999999998 172.2 H298.2 Q303 172.2 303 165.2" fill="none" stroke="#000" stroke-width="1.25"/>
<path d="M249.6 172.2 Q249.6 179.3 254.39999999999998 179.3 H319.59999999999997 Q324.4 179.3 324.4 172.2" fill="none" stroke="#000" stroke-width="1.25"/>
<path d="M343 158 Q343 165.2 347.8 165.2 H369.59999999999997 Q374.4 165.2 374.4 158" fill="none" stroke="#000" stroke-width="1.25"/>
<path d="M343 165.2 Q343 172.2 347.8 172.2 H392.59999999999997 Q397.4 172.2 397.4 165.2" fill="none" stroke="#000" stroke-width="1.25"/>
<path d="M343 172.2 Q343 179.3 347.8 179.3 H414.59999999999997 Q419.4 179.3 419.4 172.2" fill="none" stroke="#000" stroke-width="1.25"/>
<path d="M435.4 158 Q435.4 165.2 440.2 165.2 H462.2 Q467 165.2 467 158" fill="none" stroke="#000" stroke-width="1.25"/>
<path d="M435.4 165.2 Q435.4 172.2 440.2 172.2 H485.2 Q490 172.2 490 165.2" fill="none" stroke="#000" stroke-width="1.25"/>
<path d="M435.4 172.2 Q435.4 179.3 440.2 179.3 H503.59999999999997 Q508.4 179.3 508.4 172.2" fill="none" stroke="#000" stroke-width="1.25"/>
<text x="264" y="164.2" font-size="7.3" text-anchor="middle" font-weight="normal" fill="#111" >NS</text>
<text x="275" y="173.8" font-size="7" text-anchor="middle" font-weight="normal" fill="#111" >*</text>
<text x="285.8" y="181" font-size="7" text-anchor="middle" font-weight="normal" fill="#111" >**</text>
<text x="357" y="166.5" font-size="7" text-anchor="middle" font-weight="normal" fill="#111" >***</text>
<text x="368" y="174" font-size="7" text-anchor="middle" font-weight="normal" fill="#111" >***</text>
<text x="381.6" y="180.8" font-size="7" text-anchor="middle" font-weight="normal" fill="#111" >***</text>
<text x="449.3" y="166.6" font-size="7" text-anchor="middle" font-weight="normal" fill="#111" >***</text>
<text x="461.8" y="174" font-size="7" text-anchor="middle" font-weight="normal" fill="#111" >***</text>
<text x="463.3" y="181" font-size="7" text-anchor="middle" font-weight="normal" fill="#111" >***</text>
<text x="255.5" y="196.4" font-size="7.4" text-anchor="middle" font-weight="normal" fill="#111" >DM</text>
<text x="272.2" y="196.4" font-size="7.4" text-anchor="middle" font-weight="normal" fill="#111" >Tg</text>
<text x="293" y="196.4" font-size="7.4" text-anchor="middle" font-weight="normal" fill="#111" >Htz</text>
<text x="312.5" y="196.4" font-size="7.4" text-anchor="middle" font-weight="normal" fill="#111" >WT</text>
<text x="350.5" y="196.4" font-size="7.4" text-anchor="middle" font-weight="normal" fill="#111" >DM</text>
<text x="369" y="196.4" font-size="7.4" text-anchor="middle" font-weight="normal" fill="#111" >Tg</text>
<text x="389.7" y="196.4" font-size="7.4" text-anchor="middle" font-weight="normal" fill="#111" >Htz</text>
<text x="409.3" y="196.4" font-size="7.4" text-anchor="middle" font-weight="normal" fill="#111" >WT</text>
<text x="444.5" y="196.4" font-size="7.4" text-anchor="middle" font-weight="normal" fill="#111" >DM</text>
<text x="463.6" y="196.4" font-size="7.4" text-anchor="middle" font-weight="normal" fill="#111" >Tg</text>
<text x="484.3" y="196.4" font-size="7.4" text-anchor="middle" font-weight="normal" fill="#111" >Htz</text>
<text x="504" y="196.4" font-size="7.4" text-anchor="middle" font-weight="normal" fill="#111" >WT</text>
<path d="M245 195 V202 H325 V195" fill="none" stroke="#000" stroke-width="1.4"/>
<path d="M339.4 195 V202 H419.4 V195" fill="none" stroke="#000" stroke-width="1.4"/>
<path d="M433.6 195 V202 H513.4 V195" fill="none" stroke="#000" stroke-width="1.4"/>
<text x="283.1" y="217" font-size="7.5" text-anchor="middle" font-weight="normal" fill="#111" >7 months</text>
<text x="379.3" y="217" font-size="7.5" text-anchor="middle" font-weight="normal" fill="#111" >10 months</text>
<text x="471.7" y="217" font-size="7.5" text-anchor="middle" font-weight="normal" fill="#111" >14 months</text>
<text x="1.2" y="271.6" font-size="16.8" text-anchor="start" font-weight="bold" fill="#000" >C</text>
<text x="24" y="288.6" font-size="7.2" text-anchor="start" font-weight="normal" fill="#111" >WT1</text>
<line x1="22.4" y1="287.6" x2="22.4" y2="340.3" stroke="#555" stroke-width="0.8" />
<line x1="22.4" y1="340" x2="201" y2="340" stroke="#777" stroke-width="0.8" />
<text transform="translate(10.4,312) rotate(-90)" font-size="7.4" text-anchor="middle" fill="#111">% of V&#946;<tspan font-size="4.5" dy="-2.6">+</tspan><tspan dy="2.6"> cells</tspan></text>
<line x1="21.0" y1="340.0" x2="22.4" y2="340.0" stroke="#666" stroke-width="0.6" />
<line x1="15.399999999999999" y1="340.0" x2="19.4" y2="340.0" stroke="#888" stroke-width="1.3" stroke-dasharray="1.6 0.6"/>
<line x1="21.0" y1="329.72" x2="22.4" y2="329.72" stroke="#666" stroke-width="0.6" />
<line x1="15.399999999999999" y1="329.72" x2="19.4" y2="329.72" stroke="#888" stroke-width="1.3" stroke-dasharray="1.6 0.6"/>
<line x1="21.0" y1="319.44" x2="22.4" y2="319.44" stroke="#666" stroke-width="0.6" />
<line x1="15.399999999999999" y1="319.44" x2="19.4" y2="319.44" stroke="#888" stroke-width="1.3" stroke-dasharray="1.6 0.6"/>
<line x1="21.0" y1="309.16" x2="22.4" y2="309.16" stroke="#666" stroke-width="0.6" />
<line x1="15.399999999999999" y1="309.16" x2="19.4" y2="309.16" stroke="#888" stroke-width="1.3" stroke-dasharray="1.6 0.6"/>
<line x1="21.0" y1="298.88" x2="22.4" y2="298.88" stroke="#666" stroke-width="0.6" />
<line x1="15.399999999999999" y1="298.88" x2="19.4" y2="298.88" stroke="#888" stroke-width="1.3" stroke-dasharray="1.6 0.6"/>
<line x1="21.0" y1="288.6" x2="22.4" y2="288.6" stroke="#666" stroke-width="0.6" />
<line x1="15.399999999999999" y1="288.6" x2="19.4" y2="288.6" stroke="#888" stroke-width="1.3" stroke-dasharray="1.6 0.6"/>
<rect x="26.6" y="323" width="5.9" height="17.00" fill="#000"/>
<rect x="32.8" y="323.7" width="5.300000000000001" height="16.30" fill="#c9c9c9" stroke="#777" stroke-width="0.6"/>
<rect x="46.4" y="296.6" width="5.9" height="43.40" fill="#000"/>
<rect x="52.599999999999994" y="312.3" width="5.300000000000001" height="27.70" fill="#c9c9c9" stroke="#777" stroke-width="0.6"/>
<rect x="66.4" y="316" width="5.9" height="24.00" fill="#000"/>
<rect x="72.60000000000001" y="317.7" width="5.300000000000001" height="22.30" fill="#c9c9c9" stroke="#777" stroke-width="0.6"/>
<rect x="86" y="312.4" width="5.9" height="27.60" fill="#000"/>
<rect x="92.2" y="313.3" width="5.300000000000001" height="26.70" fill="#c9c9c9" stroke="#777" stroke-width="0.6"/>
<rect x="105.7" y="324" width="5.9" height="16.00" fill="#000"/>
<rect x="111.9" y="326.7" width="5.300000000000001" height="13.30" fill="#c9c9c9" stroke="#777" stroke-width="0.6"/>
<rect x="125.6" y="323.6" width="5.9" height="16.40" fill="#000"/>
<rect x="131.8" y="326.7" width="5.300000000000001" height="13.30" fill="#c9c9c9" stroke="#777" stroke-width="0.6"/>
<rect x="145.4" y="320" width="5.9" height="20.00" fill="#000"/>
<rect x="151.60000000000002" y="318.7" width="5.300000000000001" height="21.30" fill="#c9c9c9" stroke="#777" stroke-width="0.6"/>
<rect x="165.1" y="333" width="5.9" height="7.00" fill="#000"/>
<rect x="171.3" y="334.3" width="5.300000000000001" height="5.70" fill="#c9c9c9" stroke="#777" stroke-width="0.6"/>
<rect x="185" y="324" width="5.9" height="16.00" fill="#000"/>
<rect x="191.20000000000002" y="330.3" width="5.300000000000001" height="9.70" fill="#c9c9c9" stroke="#777" stroke-width="0.6"/>
<text x="33.8" y="355" font-size="7.4" text-anchor="middle" font-weight="normal" fill="#111" >V&#946;2</text>
<text x="53.7" y="355" font-size="7.4" text-anchor="middle" font-weight="normal" fill="#111" >V&#946;5</text>
<text x="71.5" y="355" font-size="7.4" text-anchor="middle" font-weight="normal" fill="#111" >V&#946;6</text>
<text x="91.5" y="355" font-size="7.4" text-anchor="middle" font-weight="normal" fill="#111" >V&#946;8</text>
<text x="111.3" y="355" font-size="7.4" text-anchor="middle" font-weight="normal" fill="#111" >V&#946;9</text>
<text x="129" y="355" font-size="7.4" text-anchor="middle" font-weight="normal" fill="#111" >V&#946;10</text>
<text x="148.5" y="355" font-size="7.4" text-anchor="middle" font-weight="normal" fill="#111" >V&#946;11</text>
<text x="169.5" y="355" font-size="7.4" text-anchor="middle" font-weight="normal" fill="#111" >V&#946;13</text>
<text x="188.8" y="355" font-size="7.4" text-anchor="middle" font-weight="normal" fill="#111" >V&#946;14</text>
<text x="228" y="288.6" font-size="7.2" text-anchor="start" font-weight="normal" fill="#111" >TG10</text>
<line x1="226" y1="289" x2="226" y2="340.0" stroke="#555" stroke-width="0.8" />
<line x1="226" y1="339.7" x2="399" y2="339.7" stroke="#777" stroke-width="0.8" />
<text transform="translate(214.4,311) rotate(-90)" font-size="7.4" text-anchor="middle" fill="#111">% of V&#946;<tspan font-size="4.5" dy="-2.6">+</tspan><tspan dy="2.6"> cells</tspan></text>
<line x1="224.6" y1="339.7" x2="226" y2="339.7" stroke="#666" stroke-width="0.6" />
<line x1="219" y1="339.7" x2="223" y2="339.7" stroke="#888" stroke-width="1.3" stroke-dasharray="1.6 0.6"/>
<line x1="224.6" y1="334.73" x2="226" y2="334.73" stroke="#666" stroke-width="0.6" />
<line x1="219" y1="334.73" x2="223" y2="334.73" stroke="#888" stroke-width="1.3" stroke-dasharray="1.6 0.6"/>
<line x1="224.6" y1="329.76" x2="226" y2="329.76" stroke="#666" stroke-width="0.6" />
<line x1="219" y1="329.76" x2="223" y2="329.76" stroke="#888" stroke-width="1.3" stroke-dasharray="1.6 0.6"/>
<line x1="224.6" y1="324.78999999999996" x2="226" y2="324.78999999999996" stroke="#666" stroke-width="0.6" />
<line x1="219" y1="324.78999999999996" x2="223" y2="324.78999999999996" stroke="#888" stroke-width="1.3" stroke-dasharray="1.6 0.6"/>
<line x1="224.6" y1="319.82" x2="226" y2="319.82" stroke="#666" stroke-width="0.6" />
<line x1="219" y1="319.82" x2="223" y2="319.82" stroke="#888" stroke-width="1.3" stroke-dasharray="1.6 0.6"/>
<line x1="224.6" y1="314.85" x2="226" y2="314.85" stroke="#666" stroke-width="0.6" />
<line x1="219" y1="314.85" x2="223" y2="314.85" stroke="#888" stroke-width="1.3" stroke-dasharray="1.6 0.6"/>
<line x1="224.6" y1="309.88" x2="226" y2="309.88" stroke="#666" stroke-width="0.6" />
<line x1="219" y1="309.88" x2="223" y2="309.88" stroke="#888" stroke-width="1.3" stroke-dasharray="1.6 0.6"/>
<line x1="224.6" y1="304.90999999999997" x2="226" y2="304.90999999999997" stroke="#666" stroke-width="0.6" />
<line x1="219" y1="304.90999999999997" x2="223" y2="304.90999999999997" stroke="#888" stroke-width="1.3" stroke-dasharray="1.6 0.6"/>
<line x1="224.6" y1="299.94" x2="226" y2="299.94" stroke="#666" stroke-width="0.6" />
<line x1="219" y1="299.94" x2="223" y2="299.94" stroke="#888" stroke-width="1.3" stroke-dasharray="1.6 0.6"/>
<line x1="224.6" y1="294.97" x2="226" y2="294.97" stroke="#666" stroke-width="0.6" />
<line x1="219" y1="294.97" x2="223" y2="294.97" stroke="#888" stroke-width="1.3" stroke-dasharray="1.6 0.6"/>
<line x1="224.6" y1="290.0" x2="226" y2="290.0" stroke="#666" stroke-width="0.6" />
<line x1="219" y1="290.0" x2="223" y2="290.0" stroke="#888" stroke-width="1.3" stroke-dasharray="1.6 0.6"/>
<rect x="230" y="325" width="5.8" height="14.70" fill="#000"/>
<rect x="236.10000000000002" y="328.90000000000003" width="5.2" height="10.80" fill="#c9c9c9" stroke="#777" stroke-width="0.6"/>
<rect x="249" y="302.4" width="5.8" height="37.30" fill="#000"/>
<rect x="255.10000000000002" y="299.7" width="5.2" height="40.00" fill="#c9c9c9" stroke="#777" stroke-width="0.6"/>
<rect x="268" y="326" width="5.8" height="13.70" fill="#000"/>
<rect x="274.1" y="315.90000000000003" width="5.2" height="23.80" fill="#c9c9c9" stroke="#777" stroke-width="0.6"/>
<rect x="287.3" y="317.6" width="5.8" height="22.10" fill="#000"/>
<rect x="293.40000000000003" y="316.7" width="5.2" height="23.00" fill="#c9c9c9" stroke="#777" stroke-width="0.6"/>
<rect x="306.4" y="329.6" width="5.8" height="10.10" fill="#000"/>
<rect x="312.5" y="321.7" width="5.2" height="18.00" fill="#c9c9c9" stroke="#777" stroke-width="0.6"/>
<rect x="325.6" y="321.6" width="5.8" height="18.10" fill="#000"/>
<rect x="331.70000000000005" y="323.3" width="5.2" height="16.40" fill="#c9c9c9" stroke="#777" stroke-width="0.6"/>
<rect x="344.7" y="312" width="5.8" height="27.70" fill="#000"/>
<rect x="350.8" y="320.7" width="5.2" height="19.00" fill="#c9c9c9" stroke="#777" stroke-width="0.6"/>
<rect x="364" y="330" width="5.8" height="9.70" fill="#000"/>
<rect x="370.1" y="323.7" width="5.2" height="16.00" fill="#c9c9c9" stroke="#777" stroke-width="0.6"/>
<rect x="383" y="334.6" width="5.8" height="5.10" fill="#000"/>
<rect x="389.1" y="335.7" width="5.2" height="4.00" fill="#c9c9c9" stroke="#777" stroke-width="0.6"/>
<text x="234.7" y="354.6" font-size="7.4" text-anchor="middle" font-weight="normal" fill="#111" >V&#946;2</text>
<text x="253.8" y="354.6" font-size="7.4" text-anchor="middle" font-weight="normal" fill="#111" >V&#946;5</text>
<text x="271.8" y="354.6" font-size="7.4" text-anchor="middle" font-weight="normal" fill="#111" >V&#946;6</text>
<text x="291.5" y="354.6" font-size="7.4" text-anchor="middle" font-weight="normal" fill="#111" >V&#946;8</text>
<text x="312.2" y="354.6" font-size="7.4" text-anchor="middle" font-weight="normal" fill="#111" >V&#946;9</text>
<text x="329.5" y="354.6" font-size="7.4" text-anchor="middle" font-weight="normal" fill="#111" >V&#946;10</text>
<text x="348.5" y="354.6" font-size="7.4" text-anchor="middle" font-weight="normal" fill="#111" >V&#946;11</text>
<text x="369.5" y="354.6" font-size="7.4" text-anchor="middle" font-weight="normal" fill="#111" >V&#946;13</text>
<text x="389.5" y="354.6" font-size="7.4" text-anchor="middle" font-weight="normal" fill="#111" >V&#946;14</text>
<text x="24" y="365.8" font-size="7.2" text-anchor="start" font-weight="normal" fill="#111" >DM1</text>
<line x1="22.4" y1="366" x2="22.4" y2="414.90000000000003" stroke="#555" stroke-width="0.8" />
<line x1="22.4" y1="414.6" x2="199" y2="414.6" stroke="#777" stroke-width="0.8" />
<text transform="translate(10.4,390.5) rotate(-90)" font-size="7.4" text-anchor="middle" fill="#111">% of V&#946;<tspan font-size="4.5" dy="-2.6">+</tspan><tspan dy="2.6"> cells</tspan></text>
<line x1="21.0" y1="414.6" x2="22.4" y2="414.6" stroke="#666" stroke-width="0.6" />
<line x1="15.399999999999999" y1="414.6" x2="19.4" y2="414.6" stroke="#888" stroke-width="1.3" stroke-dasharray="1.6 0.6"/>
<line x1="21.0" y1="409.84000000000003" x2="22.4" y2="409.84000000000003" stroke="#666" stroke-width="0.6" />
<line x1="15.399999999999999" y1="409.84000000000003" x2="19.4" y2="409.84000000000003" stroke="#888" stroke-width="1.3" stroke-dasharray="1.6 0.6"/>
<line x1="21.0" y1="405.08000000000004" x2="22.4" y2="405.08000000000004" stroke="#666" stroke-width="0.6" />
<line x1="15.399999999999999" y1="405.08000000000004" x2="19.4" y2="405.08000000000004" stroke="#888" stroke-width="1.3" stroke-dasharray="1.6 0.6"/>
<line x1="21.0" y1="400.32" x2="22.4" y2="400.32" stroke="#666" stroke-width="0.6" />
<line x1="15.399999999999999" y1="400.32" x2="19.4" y2="400.32" stroke="#888" stroke-width="1.3" stroke-dasharray="1.6 0.6"/>
<line x1="21.0" y1="395.56" x2="22.4" y2="395.56" stroke="#666" stroke-width="0.6" />
<line x1="15.399999999999999" y1="395.56" x2="19.4" y2="395.56" stroke="#888" stroke-width="1.3" stroke-dasharray="1.6 0.6"/>
<line x1="21.0" y1="390.8" x2="22.4" y2="390.8" stroke="#666" stroke-width="0.6" />
<line x1="15.399999999999999" y1="390.8" x2="19.4" y2="390.8" stroke="#888" stroke-width="1.3" stroke-dasharray="1.6 0.6"/>
<line x1="21.0" y1="386.04" x2="22.4" y2="386.04" stroke="#666" stroke-width="0.6" />
<line x1="15.399999999999999" y1="386.04" x2="19.4" y2="386.04" stroke="#888" stroke-width="1.3" stroke-dasharray="1.6 0.6"/>
<line x1="21.0" y1="381.28000000000003" x2="22.4" y2="381.28000000000003" stroke="#666" stroke-width="0.6" />
<line x1="15.399999999999999" y1="381.28000000000003" x2="19.4" y2="381.28000000000003" stroke="#888" stroke-width="1.3" stroke-dasharray="1.6 0.6"/>
<line x1="21.0" y1="376.52" x2="22.4" y2="376.52" stroke="#666" stroke-width="0.6" />
<line x1="15.399999999999999" y1="376.52" x2="19.4" y2="376.52" stroke="#888" stroke-width="1.3" stroke-dasharray="1.6 0.6"/>
<line x1="21.0" y1="371.76" x2="22.4" y2="371.76" stroke="#666" stroke-width="0.6" />
<line x1="15.399999999999999" y1="371.76" x2="19.4" y2="371.76" stroke="#888" stroke-width="1.3" stroke-dasharray="1.6 0.6"/>
<line x1="21.0" y1="367.0" x2="22.4" y2="367.0" stroke="#666" stroke-width="0.6" />
<line x1="15.399999999999999" y1="367.0" x2="19.4" y2="367.0" stroke="#888" stroke-width="1.3" stroke-dasharray="1.6 0.6"/>
<rect x="32.3" y="408.7" width="5.2" height="5.90" fill="#c9c9c9" stroke="#777" stroke-width="0.6"/>
<rect x="46.2" y="413.8" width="5.8" height="0.80" fill="#000"/>
<rect x="52.3" y="406.7" width="5.2" height="7.90" fill="#c9c9c9" stroke="#777" stroke-width="0.6"/>
<rect x="71.69999999999999" y="401.90000000000003" width="5.2" height="12.70" fill="#c9c9c9" stroke="#777" stroke-width="0.6"/>
<rect x="85.5" y="371.6" width="5.8" height="43.00" fill="#000"/>
<rect x="91.6" y="403.3" width="5.2" height="11.30" fill="#c9c9c9" stroke="#777" stroke-width="0.6"/>
<rect x="105" y="413.4" width="5.8" height="1.20" fill="#000"/>
<rect x="111.1" y="411.7" width="5.2" height="2.90" fill="#c9c9c9" stroke="#777" stroke-width="0.6"/>
<rect x="130.50000000000003" y="408.7" width="5.2" height="5.90" fill="#c9c9c9" stroke="#777" stroke-width="0.6"/>
<rect x="144.3" y="414" width="5.8" height="0.60" fill="#000"/>
<rect x="150.40000000000003" y="410.90000000000003" width="5.2" height="3.70" fill="#c9c9c9" stroke="#777" stroke-width="0.6"/>
<rect x="169.70000000000002" y="411.7" width="5.2" height="2.90" fill="#c9c9c9" stroke="#777" stroke-width="0.6"/>
<rect x="183.5" y="414" width="5.8" height="0.60" fill="#000"/>
<text x="33.8" y="428.8" font-size="7.4" text-anchor="middle" font-weight="normal" fill="#111" >V&#946;2</text>
<text x="53.7" y="428.8" font-size="7.4" text-anchor="middle" font-weight="normal" fill="#111" >V&#946;5</text>
<text x="71.5" y="428.8" font-size="7.4" text-anchor="middle" font-weight="normal" fill="#111" >V&#946;6</text>
<text x="91.5" y="428.8" font-size="7.4" text-anchor="middle" font-weight="normal" fill="#111" >V&#946;8</text>
<text x="111.3" y="428.8" font-size="7.4" text-anchor="middle" font-weight="normal" fill="#111" >V&#946;9</text>
<text x="129" y="428.8" font-size="7.4" text-anchor="middle" font-weight="normal" fill="#111" >V&#946;10</text>
<text x="148.5" y="428.8" font-size="7.4" text-anchor="middle" font-weight="normal" fill="#111" >V&#946;11</text>
<text x="169.5" y="428.8" font-size="7.4" text-anchor="middle" font-weight="normal" fill="#111" >V&#946;13</text>
<text x="188.8" y="428.8" font-size="7.4" text-anchor="middle" font-weight="normal" fill="#111" >V&#946;14</text>
<text x="228" y="365.8" font-size="7.2" text-anchor="start" font-weight="normal" fill="#111" >DM3</text>
<line x1="226" y1="366" x2="226" y2="413.5" stroke="#555" stroke-width="0.8" />
<line x1="226" y1="413.2" x2="400" y2="413.2" stroke="#777" stroke-width="0.8" />
<text transform="translate(215.4,391) rotate(-90)" font-size="7.4" text-anchor="middle" fill="#111">% of V&#946;<tspan font-size="4.5" dy="-2.6">+</tspan><tspan dy="2.6"> cells</tspan></text>
<line x1="224.6" y1="413.2" x2="226" y2="413.2" stroke="#666" stroke-width="0.6" />
<line x1="219" y1="413.2" x2="223" y2="413.2" stroke="#888" stroke-width="1.3" stroke-dasharray="1.6 0.6"/>
<line x1="224.6" y1="403.96" x2="226" y2="403.96" stroke="#666" stroke-width="0.6" />
<line x1="219" y1="403.96" x2="223" y2="403.96" stroke="#888" stroke-width="1.3" stroke-dasharray="1.6 0.6"/>
<line x1="224.6" y1="394.71999999999997" x2="226" y2="394.71999999999997" stroke="#666" stroke-width="0.6" />
<line x1="219" y1="394.71999999999997" x2="223" y2="394.71999999999997" stroke="#888" stroke-width="1.3" stroke-dasharray="1.6 0.6"/>
<line x1="224.6" y1="385.48" x2="226" y2="385.48" stroke="#666" stroke-width="0.6" />
<line x1="219" y1="385.48" x2="223" y2="385.48" stroke="#888" stroke-width="1.3" stroke-dasharray="1.6 0.6"/>
<line x1="224.6" y1="376.24" x2="226" y2="376.24" stroke="#666" stroke-width="0.6" />
<line x1="219" y1="376.24" x2="223" y2="376.24" stroke="#888" stroke-width="1.3" stroke-dasharray="1.6 0.6"/>
<line x1="224.6" y1="367.0" x2="226" y2="367.0" stroke="#666" stroke-width="0.6" />
<line x1="219" y1="367.0" x2="223" y2="367.0" stroke="#888" stroke-width="1.3" stroke-dasharray="1.6 0.6"/>
<rect x="231" y="411" width="5.7" height="2.20" fill="#000"/>
<rect x="237.0" y="408.7" width="5.1000000000000005" height="4.50" fill="#c9c9c9" stroke="#777" stroke-width="0.6"/>
<rect x="250" y="411.6" width="5.7" height="1.60" fill="#000"/>
<rect x="256.0" y="404.7" width="5.1000000000000005" height="8.50" fill="#c9c9c9" stroke="#777" stroke-width="0.6"/>
<rect x="269" y="412" width="5.7" height="1.20" fill="#000"/>
<rect x="275.0" y="399.3" width="5.1000000000000005" height="13.90" fill="#c9c9c9" stroke="#777" stroke-width="0.6"/>
<rect x="288.4" y="409.6" width="5.7" height="3.60" fill="#000"/>
<rect x="294.4" y="372.7" width="5.1000000000000005" height="40.50" fill="#c9c9c9" stroke="#777" stroke-width="0.6"/>
<rect x="307.6" y="410.4" width="5.7" height="2.80" fill="#000"/>
<rect x="313.6" y="394.7" width="5.1000000000000005" height="18.50" fill="#c9c9c9" stroke="#777" stroke-width="0.6"/>
<rect x="327" y="412" width="5.7" height="1.20" fill="#000"/>
<rect x="333.0" y="408.3" width="5.1000000000000005" height="4.90" fill="#c9c9c9" stroke="#777" stroke-width="0.6"/>
<rect x="346" y="401.6" width="5.7" height="11.60" fill="#000"/>
<rect x="351.7" y="412.6" width="5.7" height="0.60" fill="#888"/>
<rect x="365" y="411" width="5.7" height="2.20" fill="#000"/>
<rect x="371.0" y="406.7" width="5.1000000000000005" height="6.50" fill="#c9c9c9" stroke="#777" stroke-width="0.6"/>
<rect x="384.4" y="411.6" width="5.7" height="1.60" fill="#000"/>
<rect x="390.09999999999997" y="411.6" width="5.7" height="1.60" fill="#888"/>
<text x="238.2" y="427.2" font-size="7.4" text-anchor="middle" font-weight="normal" fill="#111" >V&#946;2</text>
<text x="257.2" y="427.2" font-size="7.4" text-anchor="middle" font-weight="normal" fill="#111" >V&#946;5</text>
<text x="275.2" y="427.2" font-size="7.4" text-anchor="middle" font-weight="normal" fill="#111" >V&#946;6</text>
<text x="295.8" y="427.2" font-size="7.4" text-anchor="middle" font-weight="normal" fill="#111" >V&#946;8</text>
<text x="316.2" y="427.2" font-size="7.4" text-anchor="middle" font-weight="normal" fill="#111" >V&#946;9</text>
<text x="333.5" y="427.2" font-size="7.4" text-anchor="middle" font-weight="normal" fill="#111" >V&#946;10</text>
<text x="353" y="427.2" font-size="7.4" text-anchor="middle" font-weight="normal" fill="#111" >V&#946;11</text>
<text x="373.3" y="427.2" font-size="7.4" text-anchor="middle" font-weight="normal" fill="#111" >V&#946;13</text>
<text x="393" y="427.2" font-size="7.4" text-anchor="middle" font-weight="normal" fill="#111" >V&#946;14</text>
<text x="24" y="446.2" font-size="7.2" text-anchor="start" font-weight="normal" fill="#111" >DM4</text>
<line x1="22.4" y1="445" x2="22.4" y2="494.3" stroke="#555" stroke-width="0.8" />
<line x1="22.4" y1="494" x2="195" y2="494" stroke="#777" stroke-width="0.8" />
<text transform="translate(10.4,467) rotate(-90)" font-size="7.4" text-anchor="middle" fill="#111">% of V&#946;<tspan font-size="4.5" dy="-2.6">+</tspan><tspan dy="2.6"> cells</tspan></text>
<line x1="21.0" y1="494.0" x2="22.4" y2="494.0" stroke="#666" stroke-width="0.6" />
<line x1="15.399999999999999" y1="494.0" x2="19.4" y2="494.0" stroke="#888" stroke-width="1.3" stroke-dasharray="1.6 0.6"/>
<line x1="21.0" y1="488.0" x2="22.4" y2="488.0" stroke="#666" stroke-width="0.6" />
<line x1="15.399999999999999" y1="488.0" x2="19.4" y2="488.0" stroke="#888" stroke-width="1.3" stroke-dasharray="1.6 0.6"/>
<line x1="21.0" y1="482.0" x2="22.4" y2="482.0" stroke="#666" stroke-width="0.6" />
<line x1="15.399999999999999" y1="482.0" x2="19.4" y2="482.0" stroke="#888" stroke-width="1.3" stroke-dasharray="1.6 0.6"/>
<line x1="21.0" y1="476.0" x2="22.4" y2="476.0" stroke="#666" stroke-width="0.6" />
<line x1="15.399999999999999" y1="476.0" x2="19.4" y2="476.0" stroke="#888" stroke-width="1.3" stroke-dasharray="1.6 0.6"/>
<line x1="21.0" y1="470.0" x2="22.4" y2="470.0" stroke="#666" stroke-width="0.6" />
<line x1="15.399999999999999" y1="470.0" x2="19.4" y2="470.0" stroke="#888" stroke-width="1.3" stroke-dasharray="1.6 0.6"/>
<line x1="21.0" y1="464.0" x2="22.4" y2="464.0" stroke="#666" stroke-width="0.6" />
<line x1="15.399999999999999" y1="464.0" x2="19.4" y2="464.0" stroke="#888" stroke-width="1.3" stroke-dasharray="1.6 0.6"/>
<line x1="21.0" y1="458.0" x2="22.4" y2="458.0" stroke="#666" stroke-width="0.6" />
<line x1="15.399999999999999" y1="458.0" x2="19.4" y2="458.0" stroke="#888" stroke-width="1.3" stroke-dasharray="1.6 0.6"/>
<line x1="21.0" y1="452.0" x2="22.4" y2="452.0" stroke="#666" stroke-width="0.6" />
<line x1="15.399999999999999" y1="452.0" x2="19.4" y2="452.0" stroke="#888" stroke-width="1.3" stroke-dasharray="1.6 0.6"/>
<line x1="21.0" y1="446.0" x2="22.4" y2="446.0" stroke="#666" stroke-width="0.6" />
<line x1="15.399999999999999" y1="446.0" x2="19.4" y2="446.0" stroke="#888" stroke-width="1.3" stroke-dasharray="1.6 0.6"/>
<rect x="25.4" y="490" width="5.7" height="4.00" fill="#000"/>
<rect x="31.4" y="486.7" width="5.1000000000000005" height="7.30" fill="#c9c9c9" stroke="#777" stroke-width="0.6"/>
<rect x="44.4" y="478" width="5.7" height="16.00" fill="#000"/>
<rect x="50.4" y="459.3" width="5.1000000000000005" height="34.70" fill="#c9c9c9" stroke="#777" stroke-width="0.6"/>
<rect x="63.4" y="490" width="5.7" height="4.00" fill="#000"/>
<rect x="69.39999999999999" y="468.7" width="5.1000000000000005" height="25.30" fill="#c9c9c9" stroke="#777" stroke-width="0.6"/>
<rect x="82.6" y="481.6" width="5.7" height="12.40" fill="#000"/>
<rect x="88.6" y="462.7" width="5.1000000000000005" height="31.30" fill="#c9c9c9" stroke="#777" stroke-width="0.6"/>
<rect x="101.6" y="485" width="5.7" height="9.00" fill="#000"/>
<rect x="107.6" y="477.90000000000003" width="5.1000000000000005" height="16.10" fill="#c9c9c9" stroke="#777" stroke-width="0.6"/>
<rect x="121" y="481.6" width="5.7" height="12.40" fill="#000"/>
<rect x="127.0" y="478.7" width="5.1000000000000005" height="15.30" fill="#c9c9c9" stroke="#777" stroke-width="0.6"/>
<rect x="140" y="489" width="5.7" height="5.00" fill="#000"/>
<rect x="146.0" y="469.90000000000003" width="5.1000000000000005" height="24.10" fill="#c9c9c9" stroke="#777" stroke-width="0.6"/>
<rect x="159" y="490" width="5.7" height="4.00" fill="#000"/>
<rect x="165.0" y="486.3" width="5.1000000000000005" height="7.70" fill="#c9c9c9" stroke="#777" stroke-width="0.6"/>
<rect x="178" y="492.4" width="5.7" height="1.60" fill="#000"/>
<rect x="184.0" y="491.7" width="5.1000000000000005" height="2.30" fill="#c9c9c9" stroke="#777" stroke-width="0.6"/>
<text x="29.5" y="508.3" font-size="7.4" text-anchor="middle" font-weight="normal" fill="#111" >V&#946;2</text>
<text x="49" y="508.3" font-size="7.4" text-anchor="middle" font-weight="normal" fill="#111" >V&#946;5</text>
<text x="67.5" y="508.3" font-size="7.4" text-anchor="middle" font-weight="normal" fill="#111" >V&#946;6</text>
<text x="86.5" y="508.3" font-size="7.4" text-anchor="middle" font-weight="normal" fill="#111" >V&#946;8</text>
<text x="107.3" y="508.3" font-size="7.4" text-anchor="middle" font-weight="normal" fill="#111" >V&#946;9</text>
<text x="124.8" y="508.3" font-size="7.4" text-anchor="middle" font-weight="normal" fill="#111" >V&#946;10</text>
<text x="145" y="508.3" font-size="7.4" text-anchor="middle" font-weight="normal" fill="#111" >V&#946;11</text>
<text x="165" y="508.3" font-size="7.4" text-anchor="middle" font-weight="normal" fill="#111" >V&#946;13</text>
<text x="184.3" y="508.3" font-size="7.4" text-anchor="middle" font-weight="normal" fill="#111" >V&#946;14</text>
<text x="228.4" y="446.2" font-size="7.2" text-anchor="start" font-weight="normal" fill="#111" >DM8</text>
<line x1="226.6" y1="445" x2="226.6" y2="493.90000000000003" stroke="#555" stroke-width="0.8" />
<line x1="226.6" y1="493.6" x2="403" y2="493.6" stroke="#777" stroke-width="0.8" />
<text transform="translate(214.8,467) rotate(-90)" font-size="7.4" text-anchor="middle" fill="#111">% of V&#946;<tspan font-size="4.5" dy="-2.6">+</tspan><tspan dy="2.6"> cells</tspan></text>
<line x1="225.2" y1="493.6" x2="226.6" y2="493.6" stroke="#666" stroke-width="0.6" />
<line x1="219.6" y1="493.6" x2="223.6" y2="493.6" stroke="#888" stroke-width="1.3" stroke-dasharray="1.6 0.6"/>
<line x1="225.2" y1="485.6666666666667" x2="226.6" y2="485.6666666666667" stroke="#666" stroke-width="0.6" />
<line x1="219.6" y1="485.6666666666667" x2="223.6" y2="485.6666666666667" stroke="#888" stroke-width="1.3" stroke-dasharray="1.6 0.6"/>
<line x1="225.2" y1="477.73333333333335" x2="226.6" y2="477.73333333333335" stroke="#666" stroke-width="0.6" />
<line x1="219.6" y1="477.73333333333335" x2="223.6" y2="477.73333333333335" stroke="#888" stroke-width="1.3" stroke-dasharray="1.6 0.6"/>
<line x1="225.2" y1="469.8" x2="226.6" y2="469.8" stroke="#666" stroke-width="0.6" />
<line x1="219.6" y1="469.8" x2="223.6" y2="469.8" stroke="#888" stroke-width="1.3" stroke-dasharray="1.6 0.6"/>
<line x1="225.2" y1="461.8666666666667" x2="226.6" y2="461.8666666666667" stroke="#666" stroke-width="0.6" />
<line x1="219.6" y1="461.8666666666667" x2="223.6" y2="461.8666666666667" stroke="#888" stroke-width="1.3" stroke-dasharray="1.6 0.6"/>
<line x1="225.2" y1="453.93333333333334" x2="226.6" y2="453.93333333333334" stroke="#666" stroke-width="0.6" />
<line x1="219.6" y1="453.93333333333334" x2="223.6" y2="453.93333333333334" stroke="#888" stroke-width="1.3" stroke-dasharray="1.6 0.6"/>
<line x1="225.2" y1="446.0" x2="226.6" y2="446.0" stroke="#666" stroke-width="0.6" />
<line x1="219.6" y1="446.0" x2="223.6" y2="446.0" stroke="#888" stroke-width="1.3" stroke-dasharray="1.6 0.6"/>
<rect x="232" y="462" width="5.7" height="31.60" fill="#000"/>
<rect x="238.0" y="488.7" width="5.1000000000000005" height="4.90" fill="#c9c9c9" stroke="#777" stroke-width="0.6"/>
<rect x="251" y="451.4" width="5.7" height="42.20" fill="#000"/>
<rect x="257.0" y="482.90000000000003" width="5.1000000000000005" height="10.70" fill="#c9c9c9" stroke="#777" stroke-width="0.6"/>
<rect x="270.6" y="492.4" width="5.7" height="1.20" fill="#000"/>
<rect x="276.6" y="485.3" width="5.1000000000000005" height="8.30" fill="#c9c9c9" stroke="#777" stroke-width="0.6"/>
<rect x="289.6" y="488" width="5.7" height="5.60" fill="#000"/>
<rect x="295.6" y="472.3" width="5.1000000000000005" height="21.30" fill="#c9c9c9" stroke="#777" stroke-width="0.6"/>
<rect x="309" y="489.4" width="5.7" height="4.20" fill="#000"/>
<rect x="315.0" y="473.7" width="5.1000000000000005" height="19.90" fill="#c9c9c9" stroke="#777" stroke-width="0.6"/>
<rect x="328.4" y="492.6" width="5.7" height="1.00" fill="#000"/>
<rect x="334.4" y="487.3" width="5.1000000000000005" height="6.30" fill="#c9c9c9" stroke="#777" stroke-width="0.6"/>
<rect x="348" y="492" width="5.7" height="1.60" fill="#000"/>
<rect x="354.0" y="487.5" width="5.1000000000000005" height="6.10" fill="#c9c9c9" stroke="#777" stroke-width="0.6"/>
<rect x="387.4" y="492.6" width="5.7" height="1.00" fill="#000"/>
<rect x="393.4" y="487.7" width="5.1000000000000005" height="5.90" fill="#c9c9c9" stroke="#777" stroke-width="0.6"/>
<text x="238.2" y="507.8" font-size="7.4" text-anchor="middle" font-weight="normal" fill="#111" >V&#946;2</text>
<text x="257.5" y="507.8" font-size="7.4" text-anchor="middle" font-weight="normal" fill="#111" >V&#946;5</text>
<text x="275.7" y="507.8" font-size="7.4" text-anchor="middle" font-weight="normal" fill="#111" >V&#946;6</text>
<text x="295.8" y="507.8" font-size="7.4" text-anchor="middle" font-weight="normal" fill="#111" >V&#946;8</text>
<text x="315.7" y="507.8" font-size="7.4" text-anchor="middle" font-weight="normal" fill="#111" >V&#946;9</text>
<text x="333.5" y="507.8" font-size="7.4" text-anchor="middle" font-weight="normal" fill="#111" >V&#946;10</text>
<text x="353.5" y="507.8" font-size="7.4" text-anchor="middle" font-weight="normal" fill="#111" >V&#946;11</text>
<text x="373" y="507.8" font-size="7.4" text-anchor="middle" font-weight="normal" fill="#111" >V&#946;13</text>
<text x="393" y="507.8" font-size="7.4" text-anchor="middle" font-weight="normal" fill="#111" >V&#946;14</text>
</svg>
</body></html>
